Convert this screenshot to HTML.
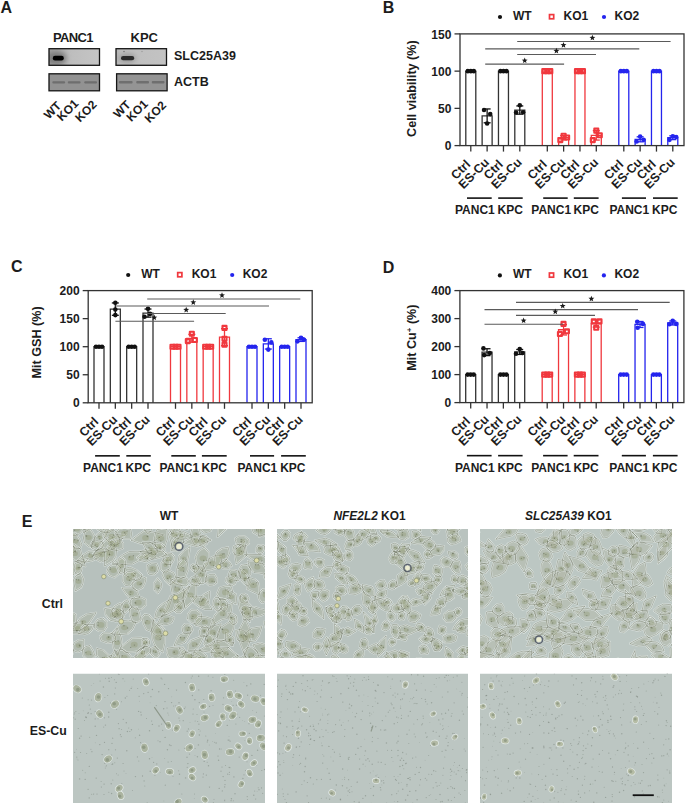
<!DOCTYPE html>
<html><head><meta charset="utf-8"><style>
html,body{margin:0;padding:0;background:#fff;}
body{width:685px;height:803px;overflow:hidden;font-family:"Liberation Sans",sans-serif;}
svg.main{display:block;}
text{font-family:"Liberation Sans",sans-serif;fill:#1c1c1c;}
</style></head><body>
<svg class="main" width="685" height="803" viewBox="0 0 685 803">
<text x="0.6" y="12.7"  font-weight="bold" font-size="16">A</text>
<text x="52.9" y="41.8"  font-weight="bold" font-size="13" letter-spacing="-0.6">PANC1</text>
<text x="130.5" y="42"  font-weight="bold" font-size="13">KPC</text>
<text x="174" y="59.8"  font-weight="bold" font-size="12.5">SLC25A39</text>
<text x="174" y="86.2"  font-weight="bold" font-size="12.5">ACTB</text>
<defs><linearGradient id="gA" x1="0" x2="1"><stop offset="0" stop-color="#a2a2a2"/><stop offset="0.12" stop-color="#acacac"/><stop offset="0.4" stop-color="#bdbdbd"/><stop offset="1" stop-color="#c5c5c5"/></linearGradient><linearGradient id="gK" x1="0" x2="1"><stop offset="0" stop-color="#b5b5b5"/><stop offset="0.1" stop-color="#bebebe"/><stop offset="1" stop-color="#c3c3c3"/></linearGradient><filter id="blur1" x="-50%" y="-50%" width="200%" height="200%"><feGaussianBlur stdDeviation="1.2"/></filter><filter id="blur05" x="-50%" y="-50%" width="200%" height="200%"><feGaussianBlur stdDeviation="0.7"/></filter><filter id="blur3" x="-50%" y="-50%" width="200%" height="200%"><feGaussianBlur stdDeviation="2.6"/></filter><clipPath id="cpA"><rect x="49" y="48.7" width="50.5" height="16.6"/></clipPath><clipPath id="cpK"><rect x="116" y="48.7" width="50.5" height="16.6"/></clipPath></defs>
<rect x="49" y="48.7" width="50.5" height="16.6" fill="url(#gA)"/>
<g clip-path="url(#cpA)"><ellipse cx="56.5" cy="58" rx="10" ry="7" fill="#7c7c7c" filter="url(#blur3)"/>
<rect x="52.8" y="55.8" width="11" height="4.6" rx="2.2" fill="#000" filter="url(#blur05)"/></g>
<rect x="49" y="48.7" width="50.5" height="16.6" fill="none" stroke="#151515" stroke-width="1.3"/>
<rect x="49" y="73.8" width="50.5" height="17" fill="#929292" stroke="#151515" stroke-width="1.3"/>
<rect x="52.3" y="81.3" width="12.8" height="2.3" rx="1" fill="#4a4a4a" fill-opacity="0.5" filter="url(#blur05)"/>
<rect x="67.8" y="81.3" width="12.8" height="2.3" rx="1" fill="#4a4a4a" fill-opacity="0.5" filter="url(#blur05)"/>
<rect x="84.2" y="81.3" width="12.8" height="2.3" rx="1" fill="#4a4a4a" fill-opacity="0.5" filter="url(#blur05)"/>
<rect x="116" y="48.7" width="50.5" height="16.6" fill="url(#gK)"/>
<g clip-path="url(#cpK)"><ellipse cx="127.3" cy="58.2" rx="8.5" ry="4.5" fill="#999" filter="url(#blur3)"/>
<rect x="121" y="56" width="13.2" height="4.3" rx="2.1" fill="#2a2a2a" filter="url(#blur05)"/>
<circle cx="124" cy="51.5" r="0.8" fill="#777"/><circle cx="142" cy="51.5" r="0.7" fill="#999"/></g>
<rect x="116" y="48.7" width="50.5" height="16.6" fill="none" stroke="#151515" stroke-width="1.3"/>
<rect x="116.6" y="73.8" width="50.5" height="17" fill="#949494" stroke="#151515" stroke-width="1.3"/>
<rect x="118.9" y="81.1" width="13.7" height="2.5" rx="1" fill="#4a4a4a" fill-opacity="0.5" filter="url(#blur05)"/>
<rect x="136.2" y="81.1" width="12.8" height="2.5" rx="1" fill="#4a4a4a" fill-opacity="0.5" filter="url(#blur05)"/>
<rect x="151.8" y="81.1" width="12.7" height="2.5" rx="1" fill="#4a4a4a" fill-opacity="0.5" filter="url(#blur05)"/>
<text transform="translate(62,106.6) rotate(-45)" text-anchor="end"  font-weight="bold" font-size="12">WT</text>
<text transform="translate(79.3,104.3) rotate(-45)" text-anchor="end"  font-weight="bold" font-size="12">KO1</text>
<text transform="translate(97.5,105.3) rotate(-45)" text-anchor="end"  font-weight="bold" font-size="12">KO2</text>
<text transform="translate(131.5,105.6) rotate(-45)" text-anchor="end"  font-weight="bold" font-size="12">WT</text>
<text transform="translate(148.7,104.7) rotate(-45)" text-anchor="end"  font-weight="bold" font-size="12">KO1</text>
<text transform="translate(167,106) rotate(-45)" text-anchor="end"  font-weight="bold" font-size="12">KO2</text>
<text x="382.8" y="12.7"  font-weight="bold" font-size="16">B</text>
<line x1="454.5" y1="145.6" x2="460" y2="145.6" stroke="#333" stroke-width="1.3"/>
<text x="451.4" y="150.2" text-anchor="end"  font-weight="bold" font-size="12">0</text>
<line x1="454.5" y1="108.36666666666667" x2="460" y2="108.36666666666667" stroke="#333" stroke-width="1.3"/>
<text x="451.4" y="112.96666666666667" text-anchor="end"  font-weight="bold" font-size="12">50</text>
<line x1="454.5" y1="71.13333333333334" x2="460" y2="71.13333333333334" stroke="#333" stroke-width="1.3"/>
<text x="451.4" y="75.73333333333333" text-anchor="end"  font-weight="bold" font-size="12">100</text>
<line x1="454.5" y1="33.900000000000006" x2="460" y2="33.900000000000006" stroke="#333" stroke-width="1.3"/>
<text x="451.4" y="38.50000000000001" text-anchor="end"  font-weight="bold" font-size="12">150</text>
<text transform="translate(415.7,88.6) rotate(-90)" text-anchor="middle"  font-weight="bold" font-size="12.6">Cell viability (%)</text>
<path d="M465.80,145.6 V71.13 H475.80 V145.6" fill="none" stroke="#333" stroke-width="1.3"/>
<line x1="470.8" y1="145.6" x2="470.8" y2="151.6" stroke="#333" stroke-width="1.3"/>
<circle cx="467.8" cy="71.13333333333334" r="2.3" fill="#111"/>
<circle cx="470.8" cy="71.13333333333334" r="2.3" fill="#111"/>
<circle cx="473.8" cy="71.13333333333334" r="2.3" fill="#111"/>
<path d="M482.13,145.6 V115.86 H492.13 V145.6" fill="none" stroke="#333" stroke-width="1.3"/>
<line x1="487.13" y1="145.6" x2="487.13" y2="151.6" stroke="#333" stroke-width="1.3"/>
<line x1="487.13" y1="108.95307564425846" x2="487.13" y2="122.7728799112971" stroke="#111" stroke-width="1.3"/>
<line x1="483.63" y1="108.95307564425846" x2="490.63" y2="108.95307564425846" stroke="#111" stroke-width="1.3"/>
<line x1="483.63" y1="122.7728799112971" x2="490.63" y2="122.7728799112971" stroke="#111" stroke-width="1.3"/>
<circle cx="484.03" cy="110.00493333333333" r="2.3" fill="#111"/>
<circle cx="490.23" cy="114.1006" r="2.3" fill="#111"/>
<circle cx="487.13" cy="123.48339999999999" r="2.3" fill="#111"/>
<path d="M498.47,145.6 V71.13 H508.47 V145.6" fill="none" stroke="#333" stroke-width="1.3"/>
<line x1="503.47" y1="145.6" x2="503.47" y2="151.6" stroke="#333" stroke-width="1.3"/>
<circle cx="500.47" cy="71.13333333333334" r="2.3" fill="#111"/>
<circle cx="503.47" cy="71.13333333333334" r="2.3" fill="#111"/>
<circle cx="506.47" cy="71.13333333333334" r="2.3" fill="#111"/>
<path d="M514.80,145.6 V110.05 H524.80 V145.6" fill="none" stroke="#333" stroke-width="1.3"/>
<line x1="519.8" y1="145.6" x2="519.8" y2="151.6" stroke="#333" stroke-width="1.3"/>
<line x1="519.8" y1="105.94449446403269" x2="519.8" y2="114.16466109152289" stroke="#111" stroke-width="1.3"/>
<line x1="516.3" y1="105.94449446403269" x2="523.3" y2="105.94449446403269" stroke="#111" stroke-width="1.3"/>
<line x1="516.3" y1="114.16466109152289" x2="523.3" y2="114.16466109152289" stroke="#111" stroke-width="1.3"/>
<circle cx="519.8" cy="105.31353333333334" r="2.3" fill="#111"/>
<circle cx="516.0999999999999" cy="112.61126666666667" r="2.3" fill="#111"/>
<circle cx="523.0999999999999" cy="112.23893333333334" r="2.3" fill="#111"/>
<path d="M542.30,145.6 V71.13 H552.30 V145.6" fill="none" stroke="#f0383e" stroke-width="1.3"/>
<line x1="547.3" y1="145.6" x2="547.3" y2="151.6" stroke="#333" stroke-width="1.3"/>
<rect x="542.3" y="69.13333333333334" width="4" height="4" fill="none" stroke="#f0383e" stroke-width="2.1" stroke-linejoin="round"/>
<rect x="545.3" y="69.13333333333334" width="4" height="4" fill="none" stroke="#f0383e" stroke-width="2.1" stroke-linejoin="round"/>
<rect x="548.3" y="69.13333333333334" width="4" height="4" fill="none" stroke="#f0383e" stroke-width="2.1" stroke-linejoin="round"/>
<path d="M558.63,145.6 V137.76 H568.63 V145.6" fill="none" stroke="#f0383e" stroke-width="1.3"/>
<line x1="563.63" y1="145.6" x2="563.63" y2="151.6" stroke="#333" stroke-width="1.3"/>
<line x1="563.63" y1="135.54672111622966" x2="563.63" y2="139.96563443932587" stroke="#f0383e" stroke-width="1.3"/>
<line x1="560.13" y1="135.54672111622966" x2="567.13" y2="135.54672111622966" stroke="#f0383e" stroke-width="1.3"/>
<line x1="560.13" y1="139.96563443932587" x2="567.13" y2="139.96563443932587" stroke="#f0383e" stroke-width="1.3"/>
<rect x="558.33" y="138.08946666666665" width="4" height="4" fill="none" stroke="#f0383e" stroke-width="2.1" stroke-linejoin="round"/>
<rect x="561.63" y="133.69593333333333" width="4" height="4" fill="none" stroke="#f0383e" stroke-width="2.1" stroke-linejoin="round"/>
<rect x="565.13" y="135.48313333333334" width="4" height="4" fill="none" stroke="#f0383e" stroke-width="2.1" stroke-linejoin="round"/>
<path d="M574.97,145.6 V71.13 H584.97 V145.6" fill="none" stroke="#f0383e" stroke-width="1.3"/>
<line x1="579.97" y1="145.6" x2="579.97" y2="151.6" stroke="#333" stroke-width="1.3"/>
<rect x="574.97" y="69.13333333333334" width="4" height="4" fill="none" stroke="#f0383e" stroke-width="2.1" stroke-linejoin="round"/>
<rect x="577.97" y="69.13333333333334" width="4" height="4" fill="none" stroke="#f0383e" stroke-width="2.1" stroke-linejoin="round"/>
<rect x="580.97" y="69.13333333333334" width="4" height="4" fill="none" stroke="#f0383e" stroke-width="2.1" stroke-linejoin="round"/>
<path d="M591.30,145.6 V135.35 H601.30 V145.6" fill="none" stroke="#f0383e" stroke-width="1.3"/>
<line x1="596.3" y1="145.6" x2="596.3" y2="151.6" stroke="#333" stroke-width="1.3"/>
<line x1="596.3" y1="130.61974002649916" x2="596.3" y2="140.07710441794526" stroke="#f0383e" stroke-width="1.3"/>
<line x1="592.8" y1="130.61974002649916" x2="599.8" y2="130.61974002649916" stroke="#f0383e" stroke-width="1.3"/>
<line x1="592.8" y1="140.07710441794526" x2="599.8" y2="140.07710441794526" stroke="#f0383e" stroke-width="1.3"/>
<rect x="594.3" y="128.63219999999998" width="4" height="4" fill="none" stroke="#f0383e" stroke-width="2.1" stroke-linejoin="round"/>
<rect x="597.8" y="133.3236" width="4" height="4" fill="none" stroke="#f0383e" stroke-width="2.1" stroke-linejoin="round"/>
<rect x="590.8" y="138.08946666666665" width="4" height="4" fill="none" stroke="#f0383e" stroke-width="2.1" stroke-linejoin="round"/>
<path d="M618.80,145.6 V71.13 H628.80 V145.6" fill="none" stroke="#2424ee" stroke-width="1.3"/>
<line x1="623.8" y1="145.6" x2="623.8" y2="151.6" stroke="#333" stroke-width="1.3"/>
<circle cx="620.8" cy="71.13333333333334" r="2.3" fill="#2424ee"/>
<circle cx="623.8" cy="71.13333333333334" r="2.3" fill="#2424ee"/>
<circle cx="626.8" cy="71.13333333333334" r="2.3" fill="#2424ee"/>
<path d="M635.13,145.6 V139.32 H645.13 V145.6" fill="none" stroke="#2424ee" stroke-width="1.3"/>
<line x1="640.13" y1="145.6" x2="640.13" y2="151.6" stroke="#333" stroke-width="1.3"/>
<line x1="640.13" y1="136.81748410827012" x2="640.13" y2="141.82247144728544" stroke="#2424ee" stroke-width="1.3"/>
<line x1="636.63" y1="136.81748410827012" x2="643.63" y2="136.81748410827012" stroke="#2424ee" stroke-width="1.3"/>
<line x1="636.63" y1="141.82247144728544" x2="643.63" y2="141.82247144728544" stroke="#2424ee" stroke-width="1.3"/>
<circle cx="636.63" cy="141.50433333333334" r="2.3" fill="#2424ee"/>
<circle cx="640.13" cy="136.58953333333332" r="2.3" fill="#2424ee"/>
<circle cx="643.53" cy="139.86606666666665" r="2.3" fill="#2424ee"/>
<path d="M651.47,145.6 V71.13 H661.47 V145.6" fill="none" stroke="#2424ee" stroke-width="1.3"/>
<line x1="656.47" y1="145.6" x2="656.47" y2="151.6" stroke="#333" stroke-width="1.3"/>
<circle cx="653.47" cy="71.13333333333334" r="2.3" fill="#2424ee"/>
<circle cx="656.47" cy="71.13333333333334" r="2.3" fill="#2424ee"/>
<circle cx="659.47" cy="71.13333333333334" r="2.3" fill="#2424ee"/>
<path d="M667.80,145.6 V137.71 H677.80 V145.6" fill="none" stroke="#2424ee" stroke-width="1.3"/>
<line x1="672.8" y1="145.6" x2="672.8" y2="151.6" stroke="#333" stroke-width="1.3"/>
<line x1="672.8" y1="135.79200127098028" x2="672.8" y2="139.62106539568637" stroke="#2424ee" stroke-width="1.3"/>
<line x1="669.3" y1="135.79200127098028" x2="676.3" y2="135.79200127098028" stroke="#2424ee" stroke-width="1.3"/>
<line x1="669.3" y1="139.62106539568637" x2="676.3" y2="139.62106539568637" stroke="#2424ee" stroke-width="1.3"/>
<circle cx="669.5" cy="139.86606666666665" r="2.3" fill="#2424ee"/>
<circle cx="672.8" cy="136.2172" r="2.3" fill="#2424ee"/>
<circle cx="676.1999999999999" cy="137.03633333333332" r="2.3" fill="#2424ee"/>
<rect x="460" y="33.9" width="224" height="111.69999999999999" fill="none" stroke="#333" stroke-width="1.3"/>
<text transform="translate(471.1,165.1) rotate(-45)" text-anchor="end"  font-weight="bold" font-size="12.4">Ctrl</text>
<text transform="translate(489.83,163.1) rotate(-45)" text-anchor="end"  font-weight="bold" font-size="12.4">ES-Cu</text>
<text transform="translate(503.77000000000004,165.1) rotate(-45)" text-anchor="end"  font-weight="bold" font-size="12.4">Ctrl</text>
<text transform="translate(522.5,163.1) rotate(-45)" text-anchor="end"  font-weight="bold" font-size="12.4">ES-Cu</text>
<text transform="translate(547.5999999999999,165.1) rotate(-45)" text-anchor="end"  font-weight="bold" font-size="12.4">Ctrl</text>
<text transform="translate(566.33,163.1) rotate(-45)" text-anchor="end"  font-weight="bold" font-size="12.4">ES-Cu</text>
<text transform="translate(580.27,165.1) rotate(-45)" text-anchor="end"  font-weight="bold" font-size="12.4">Ctrl</text>
<text transform="translate(599.0,163.1) rotate(-45)" text-anchor="end"  font-weight="bold" font-size="12.4">ES-Cu</text>
<text transform="translate(624.0999999999999,165.1) rotate(-45)" text-anchor="end"  font-weight="bold" font-size="12.4">Ctrl</text>
<text transform="translate(642.83,163.1) rotate(-45)" text-anchor="end"  font-weight="bold" font-size="12.4">ES-Cu</text>
<text transform="translate(656.77,165.1) rotate(-45)" text-anchor="end"  font-weight="bold" font-size="12.4">Ctrl</text>
<text transform="translate(675.5,163.1) rotate(-45)" text-anchor="end"  font-weight="bold" font-size="12.4">ES-Cu</text>
<line x1="467" y1="198.1" x2="491.7" y2="198.1" stroke="#111" stroke-width="1.6"/>
<line x1="498.2" y1="198.1" x2="522.7" y2="198.1" stroke="#111" stroke-width="1.6"/>
<line x1="543.2" y1="198.1" x2="567.7" y2="198.1" stroke="#111" stroke-width="1.6"/>
<line x1="573.8" y1="198.1" x2="598.6" y2="198.1" stroke="#111" stroke-width="1.6"/>
<line x1="621.9" y1="198.1" x2="646" y2="198.1" stroke="#111" stroke-width="1.6"/>
<line x1="653" y1="198.1" x2="677.7" y2="198.1" stroke="#111" stroke-width="1.6"/>
<text x="455.0" y="213.89999999999998"  font-weight="bold" font-size="12">PANC1</text>
<text x="497.5" y="213.89999999999998"  font-weight="bold" font-size="12">KPC</text>
<text x="531.3000000000001" y="213.89999999999998"  font-weight="bold" font-size="12">PANC1</text>
<text x="573.5" y="213.89999999999998"  font-weight="bold" font-size="12">KPC</text>
<text x="609.4000000000001" y="213.89999999999998"  font-weight="bold" font-size="12">PANC1</text>
<text x="652.1" y="213.89999999999998"  font-weight="bold" font-size="12">KPC</text>
<line x1="517.2" y1="41.45" x2="670.6" y2="41.45" stroke="#5a5a5a" stroke-width="1.15"/>
<polygon points="592.40,34.75 593.19,36.76 595.35,36.89 593.68,38.27 594.22,40.36 592.40,39.20 590.58,40.36 591.12,38.27 589.45,36.89 591.61,36.76" fill="#1c1c1c"/>
<line x1="485.2" y1="48.8" x2="639.3" y2="48.8" stroke="#5a5a5a" stroke-width="1.15"/>
<polygon points="563.50,42.10 564.29,44.11 566.45,44.24 564.78,45.62 565.32,47.71 563.50,46.55 561.68,47.71 562.22,45.62 560.55,44.24 562.71,44.11" fill="#1c1c1c"/>
<line x1="517.2" y1="54.5" x2="596" y2="54.5" stroke="#5a5a5a" stroke-width="1.15"/>
<polygon points="556.40,47.80 557.19,49.81 559.35,49.94 557.68,51.32 558.22,53.41 556.40,52.25 554.58,53.41 555.12,51.32 553.45,49.94 555.61,49.81" fill="#1c1c1c"/>
<line x1="485.2" y1="64.2" x2="564.1" y2="64.2" stroke="#5a5a5a" stroke-width="1.15"/>
<polygon points="524.70,57.50 525.49,59.51 527.65,59.64 525.98,61.02 526.52,63.11 524.70,61.95 522.88,63.11 523.42,61.02 521.75,59.64 523.91,59.51" fill="#1c1c1c"/>
<circle cx="500" cy="17.0" r="2.1" fill="#111"/>
<text x="513" y="19.8"  font-weight="bold" font-size="12">WT</text>
<rect x="549.5" y="14.600000000000001" width="4.2" height="4.2" fill="none" stroke="#f0383e" stroke-width="1.7"/>
<text x="563.5" y="19.8"  font-weight="bold" font-size="12">KO1</text>
<circle cx="604" cy="17.0" r="2.1" fill="#2424ee"/>
<text x="614.5" y="19.8"  font-weight="bold" font-size="12">KO2</text>
<text x="11" y="272.4"  font-weight="bold" font-size="16">C</text>
<line x1="82.7" y1="402.8" x2="88.2" y2="402.8" stroke="#333" stroke-width="1.3"/>
<text x="79.60000000000001" y="407.40000000000003" text-anchor="end"  font-weight="bold" font-size="12">0</text>
<line x1="82.7" y1="374.75" x2="88.2" y2="374.75" stroke="#333" stroke-width="1.3"/>
<text x="79.60000000000001" y="379.35" text-anchor="end"  font-weight="bold" font-size="12">50</text>
<line x1="82.7" y1="346.70000000000005" x2="88.2" y2="346.70000000000005" stroke="#333" stroke-width="1.3"/>
<text x="79.60000000000001" y="351.30000000000007" text-anchor="end"  font-weight="bold" font-size="12">100</text>
<line x1="82.7" y1="318.65000000000003" x2="88.2" y2="318.65000000000003" stroke="#333" stroke-width="1.3"/>
<text x="79.60000000000001" y="323.25000000000006" text-anchor="end"  font-weight="bold" font-size="12">150</text>
<line x1="82.7" y1="290.6" x2="88.2" y2="290.6" stroke="#333" stroke-width="1.3"/>
<text x="79.60000000000001" y="295.20000000000005" text-anchor="end"  font-weight="bold" font-size="12">200</text>
<text transform="translate(41.2,342.4) rotate(-90)" text-anchor="middle"  font-weight="bold" font-size="12.6">Mit GSH (%)</text>
<path d="M94.00,402.8 V346.70 H104.00 V402.8" fill="none" stroke="#333" stroke-width="1.3"/>
<line x1="99.0" y1="402.8" x2="99.0" y2="408.8" stroke="#333" stroke-width="1.3"/>
<circle cx="96.0" cy="346.70000000000005" r="2.3" fill="#111"/>
<circle cx="99.0" cy="346.70000000000005" r="2.3" fill="#111"/>
<circle cx="102.0" cy="346.70000000000005" r="2.3" fill="#111"/>
<path d="M110.33,402.8 V309.13 H120.33 V402.8" fill="none" stroke="#333" stroke-width="1.3"/>
<line x1="115.33" y1="402.8" x2="115.33" y2="408.8" stroke="#333" stroke-width="1.3"/>
<line x1="115.33" y1="302.952205845945" x2="115.33" y2="315.31119415405504" stroke="#111" stroke-width="1.3"/>
<line x1="111.83" y1="302.952205845945" x2="118.83" y2="302.952205845945" stroke="#111" stroke-width="1.3"/>
<line x1="111.83" y1="315.31119415405504" x2="118.83" y2="315.31119415405504" stroke="#111" stroke-width="1.3"/>
<circle cx="115.33" cy="302.7737" r="2.3" fill="#111"/>
<circle cx="115.33" cy="309.50570000000005" r="2.3" fill="#111"/>
<circle cx="115.33" cy="315.1157" r="2.3" fill="#111"/>
<path d="M126.67,402.8 V346.70 H136.67 V402.8" fill="none" stroke="#333" stroke-width="1.3"/>
<line x1="131.67000000000002" y1="402.8" x2="131.67000000000002" y2="408.8" stroke="#333" stroke-width="1.3"/>
<circle cx="128.67000000000002" cy="346.70000000000005" r="2.3" fill="#111"/>
<circle cx="131.67000000000002" cy="346.70000000000005" r="2.3" fill="#111"/>
<circle cx="134.67000000000002" cy="346.70000000000005" r="2.3" fill="#111"/>
<path d="M143.00,402.8 V313.10 H153.00 V402.8" fill="none" stroke="#333" stroke-width="1.3"/>
<line x1="148.0" y1="402.8" x2="148.0" y2="408.8" stroke="#333" stroke-width="1.3"/>
<line x1="148.0" y1="309.0553419671552" x2="148.0" y2="317.1368580328448" stroke="#111" stroke-width="1.3"/>
<line x1="144.5" y1="309.0553419671552" x2="151.5" y2="309.0553419671552" stroke="#111" stroke-width="1.3"/>
<line x1="144.5" y1="317.1368580328448" x2="151.5" y2="317.1368580328448" stroke="#111" stroke-width="1.3"/>
<circle cx="148.0" cy="308.7203" r="2.3" fill="#111"/>
<circle cx="144.5" cy="316.6865" r="2.3" fill="#111"/>
<circle cx="150.0" cy="313.8815" r="2.3" fill="#111"/>
<path d="M170.50,402.8 V346.70 H180.50 V402.8" fill="none" stroke="#f0383e" stroke-width="1.3"/>
<line x1="175.5" y1="402.8" x2="175.5" y2="408.8" stroke="#333" stroke-width="1.3"/>
<rect x="170.5" y="344.70000000000005" width="4" height="4" fill="none" stroke="#f0383e" stroke-width="2.1" stroke-linejoin="round"/>
<rect x="173.5" y="344.70000000000005" width="4" height="4" fill="none" stroke="#f0383e" stroke-width="2.1" stroke-linejoin="round"/>
<rect x="176.5" y="344.70000000000005" width="4" height="4" fill="none" stroke="#f0383e" stroke-width="2.1" stroke-linejoin="round"/>
<path d="M186.83,402.8 V338.29 H196.83 V402.8" fill="none" stroke="#f0383e" stroke-width="1.3"/>
<line x1="191.82999999999998" y1="402.8" x2="191.82999999999998" y2="408.8" stroke="#333" stroke-width="1.3"/>
<line x1="191.82999999999998" y1="334.358" x2="191.82999999999998" y2="342.212" stroke="#f0383e" stroke-width="1.3"/>
<line x1="188.32999999999998" y1="334.358" x2="195.32999999999998" y2="334.358" stroke="#f0383e" stroke-width="1.3"/>
<line x1="188.32999999999998" y1="342.212" x2="195.32999999999998" y2="342.212" stroke="#f0383e" stroke-width="1.3"/>
<rect x="189.82999999999998" y="331.797" width="4" height="4" fill="none" stroke="#f0383e" stroke-width="2.1" stroke-linejoin="round"/>
<rect x="185.82999999999998" y="339.09000000000003" width="4" height="4" fill="none" stroke="#f0383e" stroke-width="2.1" stroke-linejoin="round"/>
<rect x="192.82999999999998" y="337.968" width="4" height="4" fill="none" stroke="#f0383e" stroke-width="2.1" stroke-linejoin="round"/>
<path d="M203.17,402.8 V346.70 H213.17 V402.8" fill="none" stroke="#f0383e" stroke-width="1.3"/>
<line x1="208.17000000000002" y1="402.8" x2="208.17000000000002" y2="408.8" stroke="#333" stroke-width="1.3"/>
<rect x="203.17000000000002" y="344.70000000000005" width="4" height="4" fill="none" stroke="#f0383e" stroke-width="2.1" stroke-linejoin="round"/>
<rect x="206.17000000000002" y="344.70000000000005" width="4" height="4" fill="none" stroke="#f0383e" stroke-width="2.1" stroke-linejoin="round"/>
<rect x="209.17000000000002" y="344.70000000000005" width="4" height="4" fill="none" stroke="#f0383e" stroke-width="2.1" stroke-linejoin="round"/>
<path d="M219.50,402.8 V337.14 H229.50 V402.8" fill="none" stroke="#f0383e" stroke-width="1.3"/>
<line x1="224.5" y1="402.8" x2="224.5" y2="408.8" stroke="#333" stroke-width="1.3"/>
<line x1="224.5" y1="328.6288571183878" x2="224.5" y2="345.6597428816122" stroke="#f0383e" stroke-width="1.3"/>
<line x1="221.0" y1="328.6288571183878" x2="228.0" y2="328.6288571183878" stroke="#f0383e" stroke-width="1.3"/>
<line x1="221.0" y1="345.6597428816122" x2="228.0" y2="345.6597428816122" stroke="#f0383e" stroke-width="1.3"/>
<rect x="222.5" y="325.90650000000005" width="4" height="4" fill="none" stroke="#f0383e" stroke-width="2.1" stroke-linejoin="round"/>
<rect x="222.5" y="336.846" width="4" height="4" fill="none" stroke="#f0383e" stroke-width="2.1" stroke-linejoin="round"/>
<rect x="222.5" y="342.6804" width="4" height="4" fill="none" stroke="#f0383e" stroke-width="2.1" stroke-linejoin="round"/>
<path d="M247.00,402.8 V346.70 H257.00 V402.8" fill="none" stroke="#2424ee" stroke-width="1.3"/>
<line x1="252.0" y1="402.8" x2="252.0" y2="408.8" stroke="#333" stroke-width="1.3"/>
<circle cx="249.0" cy="346.70000000000005" r="2.3" fill="#2424ee"/>
<circle cx="252.0" cy="346.70000000000005" r="2.3" fill="#2424ee"/>
<circle cx="255.0" cy="346.70000000000005" r="2.3" fill="#2424ee"/>
<path d="M263.33,402.8 V343.90 H273.33 V402.8" fill="none" stroke="#2424ee" stroke-width="1.3"/>
<line x1="268.33000000000004" y1="402.8" x2="268.33000000000004" y2="408.8" stroke="#333" stroke-width="1.3"/>
<line x1="268.33000000000004" y1="338.75978115461476" x2="268.33000000000004" y2="349.0302188453853" stroke="#2424ee" stroke-width="1.3"/>
<line x1="264.83000000000004" y1="338.75978115461476" x2="271.83000000000004" y2="338.75978115461476" stroke="#2424ee" stroke-width="1.3"/>
<line x1="264.83000000000004" y1="349.0302188453853" x2="271.83000000000004" y2="349.0302188453853" stroke="#2424ee" stroke-width="1.3"/>
<circle cx="264.83000000000004" cy="339.6875" r="2.3" fill="#2424ee"/>
<circle cx="271.33000000000004" cy="342.38030000000003" r="2.3" fill="#2424ee"/>
<circle cx="268.33000000000004" cy="349.6172" r="2.3" fill="#2424ee"/>
<path d="M279.67,402.8 V346.70 H289.67 V402.8" fill="none" stroke="#2424ee" stroke-width="1.3"/>
<line x1="284.66999999999996" y1="402.8" x2="284.66999999999996" y2="408.8" stroke="#333" stroke-width="1.3"/>
<circle cx="281.66999999999996" cy="346.70000000000005" r="2.3" fill="#2424ee"/>
<circle cx="284.66999999999996" cy="346.70000000000005" r="2.3" fill="#2424ee"/>
<circle cx="287.66999999999996" cy="346.70000000000005" r="2.3" fill="#2424ee"/>
<path d="M296.00,402.8 V339.59 H306.00 V402.8" fill="none" stroke="#2424ee" stroke-width="1.3"/>
<line x1="301.0" y1="402.8" x2="301.0" y2="408.8" stroke="#333" stroke-width="1.3"/>
<line x1="301.0" y1="337.76895280882934" x2="301.0" y2="341.4190471911707" stroke="#2424ee" stroke-width="1.3"/>
<line x1="297.5" y1="337.76895280882934" x2="304.5" y2="337.76895280882934" stroke="#2424ee" stroke-width="1.3"/>
<line x1="297.5" y1="341.4190471911707" x2="304.5" y2="341.4190471911707" stroke="#2424ee" stroke-width="1.3"/>
<circle cx="301.0" cy="337.72400000000005" r="2.3" fill="#2424ee"/>
<circle cx="297.5" cy="341.3705" r="2.3" fill="#2424ee"/>
<circle cx="304.0" cy="339.6875" r="2.3" fill="#2424ee"/>
<rect x="88.2" y="290.6" width="224.0" height="112.19999999999999" fill="none" stroke="#333" stroke-width="1.3"/>
<text transform="translate(99.3,422.3) rotate(-45)" text-anchor="end"  font-weight="bold" font-size="12.4">Ctrl</text>
<text transform="translate(118.03,420.3) rotate(-45)" text-anchor="end"  font-weight="bold" font-size="12.4">ES-Cu</text>
<text transform="translate(131.97000000000003,422.3) rotate(-45)" text-anchor="end"  font-weight="bold" font-size="12.4">Ctrl</text>
<text transform="translate(150.7,420.3) rotate(-45)" text-anchor="end"  font-weight="bold" font-size="12.4">ES-Cu</text>
<text transform="translate(175.8,422.3) rotate(-45)" text-anchor="end"  font-weight="bold" font-size="12.4">Ctrl</text>
<text transform="translate(194.52999999999997,420.3) rotate(-45)" text-anchor="end"  font-weight="bold" font-size="12.4">ES-Cu</text>
<text transform="translate(208.47000000000003,422.3) rotate(-45)" text-anchor="end"  font-weight="bold" font-size="12.4">Ctrl</text>
<text transform="translate(227.2,420.3) rotate(-45)" text-anchor="end"  font-weight="bold" font-size="12.4">ES-Cu</text>
<text transform="translate(252.3,422.3) rotate(-45)" text-anchor="end"  font-weight="bold" font-size="12.4">Ctrl</text>
<text transform="translate(271.03000000000003,420.3) rotate(-45)" text-anchor="end"  font-weight="bold" font-size="12.4">ES-Cu</text>
<text transform="translate(284.96999999999997,422.3) rotate(-45)" text-anchor="end"  font-weight="bold" font-size="12.4">Ctrl</text>
<text transform="translate(303.7,420.3) rotate(-45)" text-anchor="end"  font-weight="bold" font-size="12.4">ES-Cu</text>
<line x1="95.10000000000001" y1="455.85" x2="119.80000000000001" y2="455.85" stroke="#111" stroke-width="1.6"/>
<line x1="126.30000000000001" y1="455.85" x2="150.8" y2="455.85" stroke="#111" stroke-width="1.6"/>
<line x1="171.3" y1="455.85" x2="195.8" y2="455.85" stroke="#111" stroke-width="1.6"/>
<line x1="201.9" y1="455.85" x2="226.70000000000002" y2="455.85" stroke="#111" stroke-width="1.6"/>
<line x1="250.00000000000003" y1="455.85" x2="274.09999999999997" y2="455.85" stroke="#111" stroke-width="1.6"/>
<line x1="281.09999999999997" y1="455.85" x2="305.79999999999995" y2="455.85" stroke="#111" stroke-width="1.6"/>
<text x="83.10000000000001" y="472.20000000000005"  font-weight="bold" font-size="12">PANC1</text>
<text x="125.60000000000001" y="472.20000000000005"  font-weight="bold" font-size="12">KPC</text>
<text x="159.4" y="472.20000000000005"  font-weight="bold" font-size="12">PANC1</text>
<text x="201.6" y="472.20000000000005"  font-weight="bold" font-size="12">KPC</text>
<text x="237.49999999999997" y="472.20000000000005"  font-weight="bold" font-size="12">PANC1</text>
<text x="280.2" y="472.20000000000005"  font-weight="bold" font-size="12">KPC</text>
<line x1="147.2" y1="299.0" x2="300.3" y2="299.0" stroke="#5a5a5a" stroke-width="1.15"/>
<polygon points="222.00,292.30 222.79,294.31 224.95,294.44 223.28,295.82 223.82,297.91 222.00,296.75 220.18,297.91 220.72,295.82 219.05,294.44 221.21,294.31" fill="#1c1c1c"/>
<line x1="115.4" y1="306.0" x2="269" y2="306.0" stroke="#5a5a5a" stroke-width="1.15"/>
<polygon points="193.30,299.30 194.09,301.31 196.25,301.44 194.58,302.82 195.12,304.91 193.30,303.75 191.48,304.91 192.02,302.82 190.35,301.44 192.51,301.31" fill="#1c1c1c"/>
<line x1="147.2" y1="313.5" x2="225.7" y2="313.5" stroke="#5a5a5a" stroke-width="1.15"/>
<polygon points="186.20,306.80 186.99,308.81 189.15,308.94 187.48,310.32 188.02,312.41 186.20,311.25 184.38,312.41 184.92,310.32 183.25,308.94 185.41,308.81" fill="#1c1c1c"/>
<line x1="115.4" y1="321.2" x2="194.1" y2="321.2" stroke="#5a5a5a" stroke-width="1.15"/>
<polygon points="154.30,314.50 155.09,316.51 157.25,316.64 155.58,318.02 156.12,320.11 154.30,318.95 152.48,320.11 153.02,318.02 151.35,316.64 153.51,316.51" fill="#1c1c1c"/>
<circle cx="128.2" cy="275.0" r="2.1" fill="#111"/>
<text x="141.2" y="277.8"  font-weight="bold" font-size="12">WT</text>
<rect x="177.7" y="272.6" width="4.2" height="4.2" fill="none" stroke="#f0383e" stroke-width="1.7"/>
<text x="191.7" y="277.8"  font-weight="bold" font-size="12">KO1</text>
<circle cx="232.2" cy="275.0" r="2.1" fill="#2424ee"/>
<text x="242.7" y="277.8"  font-weight="bold" font-size="12">KO2</text>
<text x="382.8" y="272.6"  font-weight="bold" font-size="16">D</text>
<line x1="454.4" y1="402.6" x2="459.9" y2="402.6" stroke="#333" stroke-width="1.3"/>
<text x="451.29999999999995" y="407.20000000000005" text-anchor="end"  font-weight="bold" font-size="12">0</text>
<line x1="454.4" y1="374.6" x2="459.9" y2="374.6" stroke="#333" stroke-width="1.3"/>
<text x="451.29999999999995" y="379.20000000000005" text-anchor="end"  font-weight="bold" font-size="12">100</text>
<line x1="454.4" y1="346.6" x2="459.9" y2="346.6" stroke="#333" stroke-width="1.3"/>
<text x="451.29999999999995" y="351.20000000000005" text-anchor="end"  font-weight="bold" font-size="12">200</text>
<line x1="454.4" y1="318.6" x2="459.9" y2="318.6" stroke="#333" stroke-width="1.3"/>
<text x="451.29999999999995" y="323.20000000000005" text-anchor="end"  font-weight="bold" font-size="12">300</text>
<line x1="454.4" y1="290.6" x2="459.9" y2="290.6" stroke="#333" stroke-width="1.3"/>
<text x="451.29999999999995" y="295.20000000000005" text-anchor="end"  font-weight="bold" font-size="12">400</text>
<text transform="translate(415.59999999999997,337.6) rotate(-90)" text-anchor="middle"  font-weight="bold" font-size="12.6">Mit Cu<tspan font-size="8" dy="-4">+</tspan><tspan dy="4"> (%)</tspan></text>
<path d="M465.70,402.6 V374.60 H475.70 V402.6" fill="none" stroke="#333" stroke-width="1.3"/>
<line x1="470.7" y1="402.6" x2="470.7" y2="408.6" stroke="#333" stroke-width="1.3"/>
<circle cx="467.7" cy="374.6" r="2.3" fill="#111"/>
<circle cx="470.7" cy="374.6" r="2.3" fill="#111"/>
<circle cx="473.7" cy="374.6" r="2.3" fill="#111"/>
<path d="M482.03,402.6 V352.18 H492.03 V402.6" fill="none" stroke="#333" stroke-width="1.3"/>
<line x1="487.03" y1="402.6" x2="487.03" y2="408.6" stroke="#333" stroke-width="1.3"/>
<line x1="487.03" y1="348.74002815457726" x2="487.03" y2="355.6226385120894" stroke="#111" stroke-width="1.3"/>
<line x1="483.53" y1="348.74002815457726" x2="490.53" y2="348.74002815457726" stroke="#111" stroke-width="1.3"/>
<line x1="483.53" y1="355.6226385120894" x2="490.53" y2="355.6226385120894" stroke="#111" stroke-width="1.3"/>
<circle cx="483.42999999999995" cy="348.392" r="2.3" fill="#111"/>
<circle cx="484.13" cy="355.112" r="2.3" fill="#111"/>
<circle cx="489.83" cy="353.04" r="2.3" fill="#111"/>
<path d="M498.37,402.6 V374.60 H508.37 V402.6" fill="none" stroke="#333" stroke-width="1.3"/>
<line x1="503.37" y1="402.6" x2="503.37" y2="408.6" stroke="#333" stroke-width="1.3"/>
<circle cx="500.37" cy="374.6" r="2.3" fill="#111"/>
<circle cx="503.37" cy="374.6" r="2.3" fill="#111"/>
<circle cx="506.37" cy="374.6" r="2.3" fill="#111"/>
<path d="M514.70,402.6 V351.96 H524.70 V402.6" fill="none" stroke="#333" stroke-width="1.3"/>
<line x1="519.7" y1="402.6" x2="519.7" y2="408.6" stroke="#333" stroke-width="1.3"/>
<line x1="519.7" y1="349.4772645170838" x2="519.7" y2="354.4374021495829" stroke="#111" stroke-width="1.3"/>
<line x1="516.2" y1="349.4772645170838" x2="523.2" y2="349.4772645170838" stroke="#111" stroke-width="1.3"/>
<line x1="516.2" y1="354.4374021495829" x2="523.2" y2="354.4374021495829" stroke="#111" stroke-width="1.3"/>
<circle cx="519.7" cy="349.12" r="2.3" fill="#111"/>
<circle cx="516.0" cy="353.712" r="2.3" fill="#111"/>
<circle cx="522.5" cy="353.04" r="2.3" fill="#111"/>
<path d="M542.20,402.6 V374.60 H552.20 V402.6" fill="none" stroke="#f0383e" stroke-width="1.3"/>
<line x1="547.2" y1="402.6" x2="547.2" y2="408.6" stroke="#333" stroke-width="1.3"/>
<rect x="542.2" y="372.6" width="4" height="4" fill="none" stroke="#f0383e" stroke-width="2.1" stroke-linejoin="round"/>
<rect x="545.2" y="372.6" width="4" height="4" fill="none" stroke="#f0383e" stroke-width="2.1" stroke-linejoin="round"/>
<rect x="548.2" y="372.6" width="4" height="4" fill="none" stroke="#f0383e" stroke-width="2.1" stroke-linejoin="round"/>
<path d="M558.53,402.6 V329.74 H568.53 V402.6" fill="none" stroke="#f0383e" stroke-width="1.3"/>
<line x1="563.53" y1="402.6" x2="563.53" y2="408.6" stroke="#333" stroke-width="1.3"/>
<line x1="563.53" y1="324.5242712714165" x2="563.53" y2="334.96372872858353" stroke="#f0383e" stroke-width="1.3"/>
<line x1="560.03" y1="324.5242712714165" x2="567.03" y2="324.5242712714165" stroke="#f0383e" stroke-width="1.3"/>
<line x1="560.03" y1="334.96372872858353" x2="567.03" y2="334.96372872858353" stroke="#f0383e" stroke-width="1.3"/>
<rect x="561.53" y="321.92" width="4" height="4" fill="none" stroke="#f0383e" stroke-width="2.1" stroke-linejoin="round"/>
<rect x="557.93" y="332.0" width="4" height="4" fill="none" stroke="#f0383e" stroke-width="2.1" stroke-linejoin="round"/>
<rect x="564.93" y="329.312" width="4" height="4" fill="none" stroke="#f0383e" stroke-width="2.1" stroke-linejoin="round"/>
<path d="M574.87,402.6 V374.60 H584.87 V402.6" fill="none" stroke="#f0383e" stroke-width="1.3"/>
<line x1="579.87" y1="402.6" x2="579.87" y2="408.6" stroke="#333" stroke-width="1.3"/>
<rect x="574.87" y="372.6" width="4" height="4" fill="none" stroke="#f0383e" stroke-width="2.1" stroke-linejoin="round"/>
<rect x="577.87" y="372.6" width="4" height="4" fill="none" stroke="#f0383e" stroke-width="2.1" stroke-linejoin="round"/>
<rect x="580.87" y="372.6" width="4" height="4" fill="none" stroke="#f0383e" stroke-width="2.1" stroke-linejoin="round"/>
<path d="M591.20,402.6 V323.50 H601.20 V402.6" fill="none" stroke="#f0383e" stroke-width="1.3"/>
<line x1="596.2" y1="402.6" x2="596.2" y2="408.6" stroke="#333" stroke-width="1.3"/>
<line x1="596.2" y1="319.8626933041054" x2="596.2" y2="327.13730669589467" stroke="#f0383e" stroke-width="1.3"/>
<line x1="592.7" y1="319.8626933041054" x2="599.7" y2="319.8626933041054" stroke="#f0383e" stroke-width="1.3"/>
<line x1="592.7" y1="327.13730669589467" x2="599.7" y2="327.13730669589467" stroke="#f0383e" stroke-width="1.3"/>
<rect x="591.8000000000001" y="319.40000000000003" width="4" height="4" fill="none" stroke="#f0383e" stroke-width="2.1" stroke-linejoin="round"/>
<rect x="597.5" y="319.40000000000003" width="4" height="4" fill="none" stroke="#f0383e" stroke-width="2.1" stroke-linejoin="round"/>
<rect x="594.2" y="325.70000000000005" width="4" height="4" fill="none" stroke="#f0383e" stroke-width="2.1" stroke-linejoin="round"/>
<path d="M618.70,402.6 V374.60 H628.70 V402.6" fill="none" stroke="#2424ee" stroke-width="1.3"/>
<line x1="623.7" y1="402.6" x2="623.7" y2="408.6" stroke="#333" stroke-width="1.3"/>
<circle cx="620.7" cy="374.6" r="2.3" fill="#2424ee"/>
<circle cx="623.7" cy="374.6" r="2.3" fill="#2424ee"/>
<circle cx="626.7" cy="374.6" r="2.3" fill="#2424ee"/>
<path d="M635.03,402.6 V324.47 H645.03 V402.6" fill="none" stroke="#2424ee" stroke-width="1.3"/>
<line x1="640.03" y1="402.6" x2="640.03" y2="408.6" stroke="#333" stroke-width="1.3"/>
<line x1="640.03" y1="321.47841979628095" x2="640.03" y2="327.46291353705243" stroke="#2424ee" stroke-width="1.3"/>
<line x1="636.53" y1="321.47841979628095" x2="643.53" y2="321.47841979628095" stroke="#2424ee" stroke-width="1.3"/>
<line x1="636.53" y1="327.46291353705243" x2="643.53" y2="327.46291353705243" stroke="#2424ee" stroke-width="1.3"/>
<circle cx="637.23" cy="321.79200000000003" r="2.3" fill="#2424ee"/>
<circle cx="642.93" cy="323.92" r="2.3" fill="#2424ee"/>
<circle cx="637.63" cy="327.70000000000005" r="2.3" fill="#2424ee"/>
<path d="M651.37,402.6 V374.60 H661.37 V402.6" fill="none" stroke="#2424ee" stroke-width="1.3"/>
<line x1="656.37" y1="402.6" x2="656.37" y2="408.6" stroke="#333" stroke-width="1.3"/>
<circle cx="653.37" cy="374.6" r="2.3" fill="#2424ee"/>
<circle cx="656.37" cy="374.6" r="2.3" fill="#2424ee"/>
<circle cx="659.37" cy="374.6" r="2.3" fill="#2424ee"/>
<path d="M667.70,402.6 V322.98 H677.70 V402.6" fill="none" stroke="#2424ee" stroke-width="1.3"/>
<line x1="672.7" y1="402.6" x2="672.7" y2="408.6" stroke="#333" stroke-width="1.3"/>
<line x1="672.7" y1="320.995389506346" x2="672.7" y2="324.9592771603207" stroke="#2424ee" stroke-width="1.3"/>
<line x1="669.2" y1="320.995389506346" x2="676.2" y2="320.995389506346" stroke="#2424ee" stroke-width="1.3"/>
<line x1="669.2" y1="324.9592771603207" x2="676.2" y2="324.9592771603207" stroke="#2424ee" stroke-width="1.3"/>
<circle cx="672.7" cy="320.70000000000005" r="2.3" fill="#2424ee"/>
<circle cx="669.4000000000001" cy="324.312" r="2.3" fill="#2424ee"/>
<circle cx="676.3000000000001" cy="323.92" r="2.3" fill="#2424ee"/>
<rect x="459.9" y="290.6" width="224.0" height="112.0" fill="none" stroke="#333" stroke-width="1.3"/>
<text transform="translate(471.0,422.1) rotate(-45)" text-anchor="end"  font-weight="bold" font-size="12.4">Ctrl</text>
<text transform="translate(489.72999999999996,420.1) rotate(-45)" text-anchor="end"  font-weight="bold" font-size="12.4">ES-Cu</text>
<text transform="translate(503.67,422.1) rotate(-45)" text-anchor="end"  font-weight="bold" font-size="12.4">Ctrl</text>
<text transform="translate(522.4000000000001,420.1) rotate(-45)" text-anchor="end"  font-weight="bold" font-size="12.4">ES-Cu</text>
<text transform="translate(547.5,422.1) rotate(-45)" text-anchor="end"  font-weight="bold" font-size="12.4">Ctrl</text>
<text transform="translate(566.23,420.1) rotate(-45)" text-anchor="end"  font-weight="bold" font-size="12.4">ES-Cu</text>
<text transform="translate(580.17,422.1) rotate(-45)" text-anchor="end"  font-weight="bold" font-size="12.4">Ctrl</text>
<text transform="translate(598.9000000000001,420.1) rotate(-45)" text-anchor="end"  font-weight="bold" font-size="12.4">ES-Cu</text>
<text transform="translate(624.0,422.1) rotate(-45)" text-anchor="end"  font-weight="bold" font-size="12.4">Ctrl</text>
<text transform="translate(642.73,420.1) rotate(-45)" text-anchor="end"  font-weight="bold" font-size="12.4">ES-Cu</text>
<text transform="translate(656.67,422.1) rotate(-45)" text-anchor="end"  font-weight="bold" font-size="12.4">Ctrl</text>
<text transform="translate(675.4000000000001,420.1) rotate(-45)" text-anchor="end"  font-weight="bold" font-size="12.4">ES-Cu</text>
<line x1="466.9" y1="455.65000000000003" x2="491.59999999999997" y2="455.65000000000003" stroke="#111" stroke-width="1.6"/>
<line x1="498.09999999999997" y1="455.65000000000003" x2="522.6" y2="455.65000000000003" stroke="#111" stroke-width="1.6"/>
<line x1="543.1" y1="455.65000000000003" x2="567.6" y2="455.65000000000003" stroke="#111" stroke-width="1.6"/>
<line x1="573.6999999999999" y1="455.65000000000003" x2="598.5" y2="455.65000000000003" stroke="#111" stroke-width="1.6"/>
<line x1="621.8" y1="455.65000000000003" x2="645.9" y2="455.65000000000003" stroke="#111" stroke-width="1.6"/>
<line x1="652.9" y1="455.65000000000003" x2="677.5999999999999" y2="455.65000000000003" stroke="#111" stroke-width="1.6"/>
<text x="454.9" y="472.00000000000006"  font-weight="bold" font-size="12">PANC1</text>
<text x="497.4" y="472.00000000000006"  font-weight="bold" font-size="12">KPC</text>
<text x="531.2" y="472.00000000000006"  font-weight="bold" font-size="12">PANC1</text>
<text x="573.4" y="472.00000000000006"  font-weight="bold" font-size="12">KPC</text>
<text x="609.3" y="472.00000000000006"  font-weight="bold" font-size="12">PANC1</text>
<text x="652.0" y="472.00000000000006"  font-weight="bold" font-size="12">KPC</text>
<line x1="516" y1="302.4" x2="669.7" y2="302.4" stroke="#5a5a5a" stroke-width="1.15"/>
<polygon points="591.40,295.70 592.19,297.71 594.35,297.84 592.68,299.22 593.22,301.31 591.40,300.15 589.58,301.31 590.12,299.22 588.45,297.84 590.61,297.71" fill="#1c1c1c"/>
<line x1="484.5" y1="309.6" x2="638" y2="309.6" stroke="#5a5a5a" stroke-width="1.15"/>
<polygon points="562.70,302.90 563.49,304.91 565.65,305.04 563.98,306.42 564.52,308.51 562.70,307.35 560.88,308.51 561.42,306.42 559.75,305.04 561.91,304.91" fill="#1c1c1c"/>
<line x1="516" y1="315.3" x2="595" y2="315.3" stroke="#5a5a5a" stroke-width="1.15"/>
<polygon points="555.30,308.60 556.09,310.61 558.25,310.74 556.58,312.12 557.12,314.21 555.30,313.05 553.48,314.21 554.02,312.12 552.35,310.74 554.51,310.61" fill="#1c1c1c"/>
<line x1="484.5" y1="324.2" x2="563.3" y2="324.2" stroke="#5a5a5a" stroke-width="1.15"/>
<polygon points="523.60,317.50 524.39,319.51 526.55,319.64 524.88,321.02 525.42,323.11 523.60,321.95 521.78,323.11 522.32,321.02 520.65,319.64 522.81,319.51" fill="#1c1c1c"/>
<circle cx="499.9" cy="275.4" r="2.1" fill="#111"/>
<text x="512.9" y="278.2"  font-weight="bold" font-size="12">WT</text>
<rect x="549.4" y="273.0" width="4.2" height="4.2" fill="none" stroke="#f0383e" stroke-width="1.7"/>
<text x="563.4" y="278.2"  font-weight="bold" font-size="12">KO1</text>
<circle cx="603.9" cy="275.4" r="2.1" fill="#2424ee"/>
<text x="614.4" y="278.2"  font-weight="bold" font-size="12">KO2</text>
<defs><filter id="soft" x="-5%" y="-5%" width="110%" height="110%"><feGaussianBlur stdDeviation="0.35"/></filter><filter id="grain" x="0" y="0" width="100%" height="100%"><feTurbulence type="fractalNoise" baseFrequency="0.45" numOctaves="2" seed="3"/><feColorMatrix values="0 0 0 0 0.45  0 0 0 0 0.5  0 0 0 0 0.42  0 0 0 -2.2 1.25"/></filter></defs>
<text x="21.7" y="527"  font-weight="bold" font-size="16">E</text>
<text x="169" y="520.4" text-anchor="middle"  font-weight="bold" font-size="12">WT</text>
<text x="333.5" y="520.4"  font-weight="bold" font-size="11.9"><tspan font-style="italic">NFE2L2</tspan> KO1</text>
<text x="525" y="520.4"  font-weight="bold" font-size="11.9"><tspan font-style="italic">SLC25A39</tspan> KO1</text>
<text x="41.8" y="608.4"  font-weight="bold" font-size="12.3">Ctrl</text>
<text x="29.8" y="734.7"  font-weight="bold" font-size="12.3">ES-Cu</text>
<svg x="73" y="529" width="192" height="129" viewBox="0 0 192 129"><rect width="192" height="129" fill="#b7c1bd"/>
<g filter="url(#soft)">
<g fill="#a8ae92" fill-opacity="0.32" stroke="#e8eeec" stroke-opacity="0.9" stroke-width="1.7" stroke-linejoin="round">
<polygon id="c1" points="-11.2,6.7 -13.2,-1.8 -12.0,-7.6 -9.6,-12.1 -4.2,-18.1 -2.0,-10.7 -3.2,-5.1 -4.9,0.9"/>
<polygon id="c2" points="11.7,0.9 9.4,-2.9 7.8,-5.7 9.4,-8.7 13.0,-13.9 15.8,-8.3 16.7,-4.9 15.2,-1.6"/>
<polygon id="c3" points="10.4,3.7 13.0,-6.5 14.4,-14.1 21.6,-18.7 33.5,-26.5 30.9,-13.6 26.8,-4.7 19.6,-1.6"/>
<polygon id="c4" points="41.6,-0.1 36.5,3.3 30.4,3.3 24.8,0.7 21.4,-4.8 26.1,-9.2 33.1,-8.2 38.5,-5.4"/>
<polygon id="c5" points="46.3,-1.6 42.0,-6.6 40.7,-11.3 40.7,-15.9 43.0,-21.0 47.3,-17.9 49.5,-12.8 48.2,-8.2"/>
<polygon id="c6" points="75.8,-7.5 72.1,-4.2 65.1,-3.4 59.7,-8.1 58.6,-13.1 62.9,-15.8 69.0,-15.6 75.7,-12.5"/>
<polygon id="c7" points="74.7,4.8 71.1,0.2 69.4,-5.6 69.4,-13.3 73.6,-16.4 77.3,-12.1 78.9,-6.1 78.6,1.2"/>
<polygon id="c8" points="99.9,5.4 93.3,-3.2 89.0,-8.7 90.2,-15.5 91.2,-29.2 98.6,-17.7 101.6,-11.8 102.7,-4.3"/>
<polygon id="c9" points="105.7,-3.3 100.9,-3.2 95.5,-6.2 92.3,-12.4 94.9,-16.4 99.4,-17.4 105.0,-14.0 108.4,-7.6"/>
<polygon id="c10" points="109.7,-0.9 108.0,-5.7 110.1,-11.8 115.1,-18.8 121.3,-17.9 124.5,-12.5 119.6,-5.3 114.7,0.8"/>
<polygon id="c11" points="131.6,4.0 126.7,0.4 125.4,-5.5 128.2,-10.9 134.0,-12.9 138.2,-8.7 140.2,-3.3 137.5,2.3"/>
<polygon id="c12" points="144.5,8.2 145.3,-4.1 144.8,-10.6 149.1,-17.4 158.8,-26.5 157.8,-12.2 157.8,-5.2 152.9,0.4"/>
<polygon id="c13" points="173.9,-6.8 171.1,-10.6 173.8,-15.2 177.4,-17.2 181.3,-17.1 184.0,-13.8 181.7,-9.4 178.2,-7.0"/>
<polygon id="c14" points="185.8,8.2 185.4,-2.0 187.0,-9.0 192.5,-12.4 200.4,-17.2 199.7,-7.7 199.3,-1.9 194.8,3.2"/>
<polygon id="c15" points="208.2,3.4 204.0,-0.1 202.1,-3.9 203.2,-7.7 205.0,-16.7 209.6,-8.9 210.9,-5.3 210.2,-1.9"/>
<polygon id="c16" points="-4.0,6.2 -1.2,-0.2 0.3,-5.2 5.6,-5.8 11.2,-5.5 10.9,0.0 7.6,4.3 2.6,6.5"/>
<polygon id="c17" points="16.5,18.2 11.6,14.2 10.4,8.9 11.5,4.2 14.8,-3.5 19.6,3.2 22.0,8.0 20.8,13.5"/>
<polygon id="c18" points="18.5,18.3 20.3,10.7 23.7,5.7 27.9,2.2 37.0,-3.9 33.4,5.9 30.0,11.0 25.7,14.6"/>
<polygon id="c19" points="47.3,14.3 41.7,16.2 35.0,12.2 30.1,6.6 31.9,2.1 35.7,-0.9 42.8,2.3 46.0,8.3"/>
<polygon id="c20" points="58.7,5.0 57.7,9.9 50.8,9.9 45.1,8.0 41.7,3.5 46.3,0.0 51.8,-1.1 57.9,0.5"/>
<polygon id="c21" points="58.0,11.2 65.6,5.4 71.3,1.5 78.7,2.7 90.6,5.9 80.1,12.6 73.5,15.1 66.9,14.4"/>
<polygon id="c22" points="87.1,19.9 82.6,17.5 81.3,9.0 83.7,0.7 88.6,-0.1 94.0,0.4 94.4,10.0 91.7,17.8"/>
<polygon id="c23" points="99.6,20.2 97.0,9.4 95.4,5.0 98.2,1.4 102.8,-6.0 106.9,1.2 107.3,6.5 104.8,10.4"/>
<polygon id="c24" points="120.2,7.2 113.0,9.6 108.2,10.5 103.1,9.2 97.3,5.6 104.4,3.4 108.9,2.0 113.3,3.9"/>
<polygon id="c25" points="121.6,16.2 118.4,10.1 117.5,4.9 119.0,-0.4 123.9,-8.1 126.3,1.3 128.2,5.9 126.1,11.1"/>
<polygon id="c26" points="193.3,3.1 190.5,7.3 184.7,6.0 180.2,3.4 178.7,-1.4 183.3,-3.8 188.0,-4.3 193.1,-1.8"/>
<polygon id="c27" points="2.9,22.2 -3.0,25.3 -8.3,26.0 -12.0,22.7 -16.1,17.9 -11.3,14.1 -5.4,13.0 -0.3,16.4"/>
<polygon id="c28" points="7.0,19.6 2.4,19.2 -2.3,15.1 -2.8,9.5 -2.4,4.2 2.6,4.1 6.5,9.7 8.8,15.4"/>
<polygon id="c29" points="30.7,16.4 28.3,19.7 23.4,21.1 18.8,19.1 17.6,15.7 19.2,12.5 23.9,11.5 29.1,12.5"/>
<polygon id="c30" points="19.8,26.6 29.4,14.6 34.7,8.7 42.3,6.0 53.4,4.5 45.5,14.2 41.6,19.3 34.9,21.9"/>
<polygon id="c31" points="37.1,16.6 37.6,12.0 42.5,9.5 47.7,10.5 50.1,14.3 50.1,19.3 44.6,21.5 39.1,20.8"/>
<polygon id="c32" points="84.2,23.9 79.4,25.7 75.2,24.1 73.0,20.6 69.3,13.4 77.1,13.6 81.4,15.3 84.1,18.9"/>
<polygon id="c33" points="91.8,21.2 89.3,23.2 84.2,21.9 81.3,18.3 78.9,14.1 83.3,13.3 88.3,14.5 92.3,18.1"/>
<polygon id="c34" points="97.9,21.6 98.3,15.8 99.6,11.5 103.5,7.7 111.7,4.6 110.3,13.3 107.2,17.7 103.5,22.2"/>
<polygon id="c35" points="109.6,13.5 118.1,8.7 123.5,7.1 129.6,7.4 138.3,11.1 128.7,15.1 124.4,17.8 119.2,16.4"/>
<polygon id="c36" points="127.0,16.7 124.8,14.2 126.0,9.9 129.1,6.4 132.7,6.9 135.3,9.6 134.1,14.6 130.3,17.7"/>
<polygon id="c37" points="161.9,25.6 159.7,22.0 160.8,17.2 164.9,15.3 168.5,15.6 171.7,18.3 170.3,23.5 166.1,26.7"/>
<polygon id="c38" points="176.2,14.3 173.4,16.7 168.1,17.5 163.2,14.0 162.0,9.5 165.9,7.1 171.5,7.2 175.7,10.6"/>
<polygon id="c39" points="183.1,22.7 183.3,19.3 184.9,16.4 188.2,15.9 191.5,16.9 191.4,20.4 189.8,23.5 186.1,24.9"/>
<polygon id="c40" points="207.0,31.3 199.5,24.2 194.7,20.4 194.1,13.7 194.9,3.6 203.0,9.1 206.3,15.3 207.3,21.2"/>
<polygon id="c41" points="12.4,37.4 2.7,32.1 -2.3,27.8 -6.4,21.7 -10.3,9.5 0.8,15.1 7.3,20.0 9.3,26.9"/>
<polygon id="c42" points="4.2,31.5 10.5,25.6 15.8,22.2 22.1,21.6 30.7,22.4 25.4,28.5 19.1,31.9 11.9,33.2"/>
<polygon id="c43" points="37.0,26.1 34.2,30.7 28.2,33.2 22.3,30.0 19.7,24.9 24.1,21.2 29.2,18.8 35.4,20.8"/>
<polygon id="c44" points="31.6,37.1 31.5,26.9 31.8,22.0 34.9,17.3 42.8,12.2 43.5,21.9 43.1,27.0 40.0,32.1"/>
<polygon id="c45" points="39.2,34.2 49.2,26.3 56.1,22.5 64.0,22.3 78.9,23.3 66.1,31.6 59.6,35.0 52.1,35.5"/>
<polygon id="c46" points="63.9,28.5 68.4,25.3 73.3,24.1 79.1,24.4 82.8,28.0 77.8,30.8 73.5,32.9 68.0,31.8"/>
<polygon id="c47" points="93.8,25.8 86.3,28.6 79.7,30.4 72.7,27.6 67.0,22.7 74.4,19.8 81.0,19.2 88.5,20.7"/>
<polygon id="c48" points="90.1,31.8 90.1,27.6 93.7,23.7 98.9,24.5 101.4,27.6 100.7,31.3 98.1,35.6 92.5,35.4"/>
<polygon id="c49" points="105.0,40.0 105.1,33.0 106.0,26.9 110.6,21.9 117.1,17.6 115.9,26.1 114.7,31.6 110.8,35.8"/>
<polygon id="c50" points="128.7,42.2 123.9,35.3 122.3,28.4 125.4,22.1 131.4,18.1 136.1,23.5 136.1,29.9 134.4,35.7"/>
<polygon id="c51" points="128.9,42.6 131.4,34.1 136.0,29.6 141.4,26.9 149.4,26.6 147.9,34.4 143.4,39.1 138.1,40.9"/>
<polygon id="c52" points="142.2,37.6 141.4,29.6 143.5,23.1 148.7,19.5 155.1,18.1 156.5,24.5 153.9,30.0 149.8,34.2"/>
<polygon id="c53" points="163.2,35.1 161.9,26.7 161.9,21.5 165.3,17.4 171.9,12.2 173.0,20.7 174.0,26.1 169.7,29.8"/>
<polygon id="c54" points="199.3,33.5 191.9,35.3 185.7,34.1 180.6,31.5 171.3,25.2 183.1,25.5 188.3,25.5 192.8,28.3"/>
<polygon id="c55" points="-14.8,48.2 -8.9,40.4 -5.3,35.5 1.5,32.7 15.5,29.1 6.1,40.3 1.0,45.6 -5.2,46.3"/>
<polygon id="c56" points="4.9,45.7 1.8,43.4 1.3,39.3 1.9,34.9 5.3,33.0 8.3,35.4 9.2,39.5 8.0,43.5"/>
<polygon id="c57" points="33.8,42.5 35.3,38.3 39.4,35.5 45.0,35.7 48.4,39.9 46.1,44.7 41.7,48.7 36.2,46.5"/>
<polygon id="c58" points="47.5,44.6 45.1,41.4 43.6,36.3 45.8,30.2 49.7,28.6 52.5,31.9 52.4,37.5 51.2,43.4"/>
<polygon id="c59" points="67.4,50.0 63.5,51.5 57.8,49.8 51.4,45.2 51.4,39.5 57.0,38.1 63.6,41.2 69.0,46.0"/>
<polygon id="c60" points="84.2,43.2 80.7,45.9 75.8,45.2 74.0,40.7 74.4,36.0 78.7,34.0 83.5,34.5 85.7,38.9"/>
<polygon id="c61" points="90.2,43.2 87.7,40.5 88.1,34.5 91.2,29.2 95.2,27.9 97.3,31.7 97.6,37.6 94.0,43.0"/>
<polygon id="c62" points="108.2,49.7 103.7,47.7 103.7,39.7 106.1,34.1 109.8,29.6 114.2,32.6 115.1,40.6 112.5,47.6"/>
<polygon id="c63" points="122.6,43.4 119.8,42.1 117.4,39.7 118.3,36.2 121.1,34.8 124.0,35.5 125.8,38.3 125.0,41.4"/>
<polygon id="c64" points="130.4,54.6 125.6,54.5 122.2,47.3 121.4,39.0 126.0,37.3 130.8,36.9 133.2,44.5 134.1,51.8"/>
<polygon id="c65" points="158.8,36.9 155.5,39.7 151.1,40.1 146.9,38.2 147.0,34.6 149.1,32.0 153.1,30.1 156.7,33.2"/>
<polygon id="c66" points="165.3,51.8 160.6,51.2 156.1,49.7 155.5,44.8 157.2,41.0 161.3,40.8 165.9,42.3 167.7,47.5"/>
<polygon id="c67" points="177.7,44.8 175.2,49.5 169.2,49.8 165.0,45.7 166.0,40.7 168.4,36.2 174.2,35.4 177.7,39.9"/>
<polygon id="c68" points="196.2,45.6 186.1,44.1 180.8,43.5 176.8,39.1 174.8,32.0 182.5,32.2 188.1,32.1 191.2,37.1"/>
<polygon id="c69" points="2.4,62.0 1.1,54.8 0.5,50.9 2.7,46.9 8.0,44.7 10.5,49.8 10.1,54.1 8.3,58.4"/>
<polygon id="c70" points="52.3,56.4 49.7,52.4 50.1,46.4 54.8,42.4 59.7,42.8 63.3,46.4 60.6,52.1 57.2,57.0"/>
<polygon id="c71" points="60.1,59.3 59.2,55.2 63.3,50.7 68.8,47.5 73.0,49.1 72.2,53.7 69.7,58.7 63.6,61.7"/>
<polygon id="c72" points="84.9,64.3 81.4,61.0 81.0,57.4 81.2,53.8 84.7,49.4 88.3,53.8 88.8,57.3 87.6,60.1"/>
<polygon id="c73" points="100.7,53.3 96.9,56.0 92.1,51.6 89.5,46.7 91.0,42.7 94.9,40.4 100.7,43.7 103.6,49.8"/>
<polygon id="c74" points="116.0,53.4 113.4,56.9 106.5,56.2 101.0,54.6 98.2,51.0 102.6,48.8 107.6,48.0 114.2,49.4"/>
<polygon id="c75" points="128.1,52.7 125.8,56.5 121.5,56.7 118.0,55.0 116.3,51.4 118.8,48.3 122.5,46.8 127.0,48.2"/>
<polygon id="c76" points="140.0,56.2 136.0,56.4 132.5,53.2 132.6,48.2 136.6,45.4 141.5,45.3 144.0,49.6 143.5,54.1"/>
<polygon id="c77" points="162.2,54.7 159.4,56.4 155.6,55.4 152.6,52.3 153.2,48.9 156.1,46.9 160.8,47.3 163.5,51.4"/>
<polygon id="c78" points="175.5,57.3 171.4,54.9 168.4,51.6 166.7,46.5 167.5,39.9 172.8,44.7 175.4,48.3 177.4,53.3"/>
<polygon id="c79" points="186.4,65.7 179.1,62.4 174.2,60.1 173.8,54.6 175.5,48.2 181.8,50.2 185.2,53.2 186.2,57.6"/>
<polygon id="c80" points="203.4,50.8 200.7,54.0 194.8,53.0 191.5,49.0 190.9,45.2 194.0,42.8 199.4,42.8 203.3,46.8"/>
<polygon id="c81" points="-1.1,75.1 -7.0,74.9 -11.7,73.6 -14.8,69.3 -16.4,62.8 -9.7,63.1 -5.5,65.9 -2.3,69.4"/>
<polygon id="c82" points="66.8,68.7 60.5,70.0 55.7,68.3 52.9,64.9 48.9,58.9 56.0,59.0 60.8,59.0 64.5,62.7"/>
<polygon id="c83" points="109.4,69.3 103.3,68.1 98.9,63.3 98.1,57.8 97.3,49.4 104.5,53.4 109.0,57.1 111.4,63.3"/>
<polygon id="c84" points="112.1,79.5 110.0,71.2 110.8,63.4 115.9,58.5 123.2,51.7 123.2,62.1 123.3,68.4 119.0,73.4"/>
<polygon id="c85" points="127.3,77.1 126.8,72.0 127.9,68.4 130.8,65.6 136.7,62.3 136.4,69.0 135.4,73.1 132.2,76.1"/>
<polygon id="c86" points="146.7,70.3 143.7,65.3 146.5,58.7 152.3,56.8 157.7,56.6 159.6,61.8 157.6,67.7 152.2,70.6"/>
<polygon id="c87" points="163.0,75.2 158.0,72.4 155.2,70.1 154.4,66.6 153.9,60.4 159.3,63.0 163.0,65.3 163.5,69.7"/>
<polygon id="c88" points="171.1,74.2 168.0,73.1 167.4,69.3 168.1,65.5 171.3,64.7 174.1,66.1 175.8,69.4 174.4,73.4"/>
<polygon id="c89" points="185.8,70.0 185.2,65.6 189.4,60.4 195.8,59.7 199.7,61.9 199.1,66.4 195.9,71.4 188.7,74.1"/>
<polygon id="c90" points="211.2,70.0 206.8,66.6 202.9,62.9 203.7,57.6 206.2,54.9 209.9,55.1 213.7,59.3 214.5,66.0"/>
<polygon id="c91" points="39.9,86.1 38.4,82.1 41.8,77.2 47.1,74.0 50.4,76.5 51.1,80.2 48.4,84.4 43.5,88.5"/>
<polygon id="c92" points="51.5,85.2 49.5,79.6 48.4,76.1 50.6,73.1 54.6,70.7 56.7,74.8 58.8,78.3 55.7,81.1"/>
<polygon id="c93" points="58.1,76.9 57.2,71.3 62.6,67.6 68.0,68.0 72.8,70.4 72.9,76.0 68.2,80.4 62.3,80.0"/>
<polygon id="c94" points="81.7,89.8 82.9,83.4 85.5,78.4 90.1,74.5 98.9,69.7 95.9,79.0 92.3,84.2 87.8,87.8"/>
<polygon id="c95" points="88.2,88.1 94.0,74.5 97.6,66.7 104.6,64.5 116.6,57.0 112.1,69.2 107.5,75.7 101.3,81.6"/>
<polygon id="c96" points="103.6,83.7 100.9,80.7 102.4,75.8 105.8,72.7 110.3,71.4 111.8,75.9 110.5,80.2 107.6,83.7"/>
<polygon id="c97" points="139.1,80.5 131.7,80.5 126.3,78.0 121.4,74.2 117.3,67.0 125.5,67.3 132.2,68.5 135.3,73.9"/>
<polygon id="c98" points="145.8,82.1 142.5,81.1 139.7,76.3 140.6,71.1 142.7,68.3 146.2,68.9 149.2,74.2 148.2,79.7"/>
<polygon id="c99" points="152.7,81.3 149.3,81.5 145.8,77.6 145.2,72.0 147.8,69.2 151.6,70.1 154.7,74.0 154.5,78.5"/>
<polygon id="c100" points="176.9,92.9 169.8,86.2 167.1,81.2 165.5,75.4 166.9,66.5 173.8,72.4 178.3,77.0 177.0,82.7"/>
<polygon id="c101" points="168.5,83.2 175.0,78.9 181.5,77.9 186.6,79.5 197.4,82.3 188.2,86.6 181.8,88.3 175.6,86.9"/>
<polygon id="c102" points="-3.7,99.4 -7.7,96.9 -9.6,90.9 -6.1,86.0 -1.8,82.8 2.9,85.5 3.5,92.4 0.6,97.7"/>
<polygon id="c103" points="-0.5,101.4 3.8,94.0 7.2,89.0 13.9,85.0 23.2,83.7 17.4,92.5 13.6,97.6 6.8,101.5"/>
<polygon id="c104" points="48.8,92.0 43.2,92.7 36.8,91.1 32.3,85.6 31.5,79.7 37.4,78.6 44.5,80.4 49.8,86.6"/>
<polygon id="c105" points="51.2,87.4 47.9,90.0 43.7,89.6 39.2,87.6 39.5,82.9 42.6,79.7 47.3,80.4 50.4,83.2"/>
<polygon id="c106" points="64.4,93.8 59.8,93.4 57.2,86.8 56.3,80.1 59.7,77.8 63.9,78.2 66.6,84.0 68.0,90.9"/>
<polygon id="c107" points="78.0,102.4 73.4,100.7 70.4,94.9 68.9,88.5 71.6,85.2 75.9,85.9 80.5,91.1 80.0,97.8"/>
<polygon id="c108" points="84.6,94.2 87.5,88.8 91.3,85.7 95.9,86.3 101.3,88.5 99.0,93.7 94.6,95.5 90.6,95.8"/>
<polygon id="c109" points="118.2,93.6 114.5,90.1 115.0,85.0 118.3,80.7 123.8,81.0 128.4,84.6 128.2,90.8 123.7,95.2"/>
<polygon id="c110" points="142.2,95.2 138.9,99.2 130.7,98.4 121.8,96.1 122.2,91.0 125.4,87.4 132.9,87.8 140.0,90.5"/>
<polygon id="c111" points="137.2,97.9 141.6,86.5 146.0,81.1 151.0,77.3 159.4,74.4 158.3,82.7 154.6,89.3 148.6,90.8"/>
<polygon id="c112" points="162.9,94.7 159.8,95.7 156.3,91.9 154.7,87.8 155.2,84.0 158.9,84.3 163.2,86.9 164.2,91.8"/>
<polygon id="c113" points="174.9,90.9 170.6,91.0 169.4,84.9 168.8,78.5 173.0,76.6 177.0,78.6 179.6,83.6 179.1,89.9"/>
<polygon id="c114" points="198.2,102.2 193.5,98.1 192.7,92.3 194.8,86.9 200.1,83.4 203.2,89.1 204.7,93.4 202.4,97.4"/>
<polygon id="c115" points="-5.4,101.1 -4.3,96.1 3.7,93.8 10.6,94.5 15.6,97.6 11.8,102.1 5.6,105.0 -1.5,104.7"/>
<polygon id="c116" points="5.3,104.6 8.6,98.5 11.4,95.6 15.1,95.3 21.1,95.6 19.0,101.1 16.1,104.0 12.0,105.5"/>
<polygon id="c117" points="26.0,102.2 21.6,99.3 21.6,94.0 24.8,90.2 29.9,89.0 34.1,92.5 34.0,97.7 31.1,102.0"/>
<polygon id="c118" points="38.5,104.7 45.1,97.3 48.2,91.8 55.4,91.1 63.0,93.1 59.7,100.3 54.4,105.0 47.7,105.6"/>
<polygon id="c119" points="79.3,103.2 81.3,99.3 84.1,95.7 88.6,97.1 91.7,100.6 91.3,105.7 86.8,108.6 82.6,106.2"/>
<polygon id="c120" points="117.5,104.1 114.0,104.7 109.8,103.2 109.1,98.4 111.6,95.0 115.6,95.3 118.7,97.5 119.8,101.3"/>
<polygon id="c121" points="130.5,107.3 126.8,106.5 126.5,101.5 128.8,98.1 131.8,96.1 134.7,98.2 136.0,102.6 134.3,107.5"/>
<polygon id="c122" points="132.5,111.3 133.7,103.9 135.9,99.6 140.0,97.2 148.3,94.7 146.3,103.1 144.6,108.0 139.8,110.9"/>
<polygon id="c123" points="143.9,114.3 144.6,104.5 147.3,98.6 152.1,95.6 161.7,89.3 160.6,99.9 157.9,106.2 152.8,110.5"/>
<polygon id="c124" points="173.4,110.9 170.0,112.6 164.7,111.2 163.3,106.1 162.7,101.4 167.2,100.2 172.3,102.6 174.7,107.3"/>
<polygon id="c125" points="169.8,113.1 171.2,105.9 174.6,102.1 179.2,99.2 188.9,97.7 185.8,106.9 182.4,111.7 177.2,112.7"/>
<polygon id="c126" points="211.0,114.8 202.4,111.6 196.6,107.9 193.4,101.7 190.8,92.5 199.7,95.9 205.5,99.7 208.8,105.9"/>
<polygon id="c127" points="-10.9,128.9 -14.0,123.5 -13.4,115.2 -8.9,107.3 -2.8,106.1 -0.5,112.3 -1.7,119.4 -4.9,127.9"/>
<polygon id="c128" points="0.9,121.9 -0.8,117.8 1.7,113.3 5.8,111.0 10.8,110.6 10.7,115.6 10.1,120.7 5.0,123.2"/>
<polygon id="c129" points="42.7,110.5 40.0,112.9 34.8,114.1 28.1,111.8 27.0,107.4 29.9,104.0 36.8,103.8 42.3,106.8"/>
<polygon id="c130" points="44.3,126.4 40.4,118.8 39.5,113.7 40.3,108.7 44.2,99.2 48.3,108.5 49.1,113.7 47.9,118.4"/>
<polygon id="c131" points="47.4,118.9 53.3,113.4 59.6,108.9 68.6,108.7 73.8,112.6 71.1,118.5 62.8,122.7 52.8,123.5"/>
<polygon id="c132" points="69.0,115.1 69.0,112.5 70.5,109.4 74.2,109.4 76.5,111.8 76.5,115.0 74.2,117.7 70.4,118.0"/>
<polygon id="c133" points="89.8,123.3 82.8,118.7 79.3,110.4 78.2,101.9 80.1,90.7 87.9,98.8 91.9,106.6 91.8,114.4"/>
<polygon id="c134" points="101.0,116.5 104.0,110.0 106.3,106.0 110.6,104.7 118.1,102.7 114.5,109.5 112.1,113.2 107.9,115.0"/>
<polygon id="c135" points="115.0,121.3 114.7,115.3 117.9,111.4 121.9,109.9 131.6,106.1 127.1,115.4 124.8,118.9 121.1,121.7"/>
<polygon id="c136" points="134.4,117.6 130.8,115.2 132.1,110.4 134.0,106.3 137.9,105.8 140.2,108.9 141.8,113.3 138.1,116.2"/>
<polygon id="c137" points="125.8,121.6 137.5,114.6 142.4,111.9 149.0,111.2 161.3,113.7 151.8,121.6 145.1,124.2 139.0,123.4"/>
<polygon id="c138" points="159.9,116.9 155.8,114.7 153.0,112.8 152.5,109.2 152.5,102.7 157.8,106.4 161.1,108.6 160.3,112.3"/>
<polygon id="c139" points="171.7,126.5 167.7,115.8 165.0,108.6 166.8,99.6 172.1,89.7 177.0,100.0 178.1,108.7 175.8,115.6"/>
<polygon id="c140" points="-0.1,124.8 -3.3,126.7 -6.7,125.3 -7.9,122.1 -6.8,119.3 -4.2,117.5 -1.3,118.8 0.5,121.4"/>
<polygon id="c141" points="18.6,130.8 13.9,130.3 10.0,126.6 9.4,121.1 12.3,117.8 17.0,116.5 20.1,121.7 22.3,127.3"/>
<polygon id="c142" points="42.1,142.7 33.2,137.9 28.1,132.7 23.4,126.1 23.8,119.3 30.6,121.3 36.1,126.5 39.5,132.9"/>
<polygon id="c143" points="42.1,139.6 38.4,133.8 37.6,130.2 38.3,126.6 41.9,121.1 46.2,125.9 46.7,130.1 45.6,133.7"/>
<polygon id="c144" points="58.8,136.4 53.2,137.2 46.6,133.4 41.5,126.3 44.0,121.2 49.4,120.3 55.7,124.6 60.9,131.3"/>
<polygon id="c145" points="62.8,128.8 63.2,124.2 67.1,119.5 72.8,117.4 77.1,118.7 77.1,123.1 72.4,127.0 67.2,130.2"/>
<polygon id="c146" points="84.6,127.8 81.1,128.2 77.7,124.8 77.1,120.2 79.5,118.3 82.5,117.3 84.9,120.9 87.0,125.2"/>
<polygon id="c147" points="93.7,123.7 94.5,119.0 101.9,118.2 109.7,118.1 112.9,122.8 110.0,127.7 102.5,130.2 95.3,128.1"/>
<polygon id="c148" points="128.2,127.8 121.6,131.2 116.6,132.6 111.7,130.5 106.4,126.2 112.9,123.4 117.3,122.4 122.2,123.5"/>
<polygon id="c149" points="135.6,140.1 129.6,141.5 122.2,134.9 119.8,127.0 121.5,121.9 126.8,120.8 133.4,126.3 135.5,133.4"/>
<polygon id="c150" points="149.6,129.8 145.7,132.1 141.0,130.1 138.3,126.2 138.3,121.7 142.3,119.1 148.3,120.0 151.3,125.3"/>
<polygon id="c151" points="170.7,131.5 158.0,130.6 150.9,129.7 144.1,125.6 137.3,118.0 148.1,118.2 155.4,118.5 160.8,123.4"/>
<polygon id="c152" points="183.6,134.7 178.1,134.8 173.0,129.3 170.9,122.6 173.6,119.0 178.1,117.9 184.1,122.2 186.5,130.0"/>
<polygon id="c153" points="205.4,126.7 194.6,126.6 188.5,126.5 183.5,122.4 179.8,115.9 187.1,113.9 193.1,115.8 196.9,119.2"/>
<polygon id="c154" points="15.8,142.0 20.1,137.1 25.8,135.6 30.8,137.2 39.5,140.7 30.9,144.9 26.4,147.8 20.8,146.1"/>
<polygon id="c155" points="30.0,146.7 29.2,138.9 29.5,134.0 32.5,129.4 38.5,126.0 40.5,132.6 40.2,138.4 36.3,142.4"/>
<polygon id="c156" points="39.8,140.7 42.1,136.9 47.1,134.3 52.3,135.5 56.3,138.1 53.9,142.0 48.8,145.1 43.3,143.4"/>
<polygon id="c157" points="60.3,145.8 60.0,135.2 58.6,129.5 63.4,126.5 70.5,118.2 72.2,128.2 71.0,134.2 67.7,138.9"/>
<polygon id="c158" points="75.2,146.0 72.1,142.1 75.4,137.4 79.0,133.4 83.3,135.3 86.0,138.8 84.7,144.4 79.7,146.2"/>
<polygon id="c159" points="85.9,139.8 85.6,136.2 90.3,133.7 94.8,133.8 98.4,135.5 97.2,139.2 93.2,142.1 87.7,143.2"/>
<polygon id="c160" points="110.0,148.3 104.8,149.7 100.9,146.1 99.9,141.5 102.1,137.4 106.6,136.1 110.0,139.5 111.8,143.7"/>
<polygon id="c161" points="131.0,143.8 123.5,143.6 115.7,138.6 112.4,131.3 106.0,118.8 118.7,126.0 126.0,128.3 131.0,136.3"/>
<polygon id="c162" points="135.9,144.8 132.1,146.2 126.2,144.1 122.7,138.7 122.9,134.1 126.9,132.0 132.6,136.3 136.0,140.7"/>
<polygon id="c163" points="150.0,141.2 145.7,139.4 144.0,134.5 144.1,129.8 146.8,126.4 150.5,128.7 153.9,132.3 153.4,138.0"/>
<polygon id="c164" points="150.8,146.1 151.6,137.2 153.6,132.9 157.1,130.8 164.9,126.1 164.3,134.7 163.6,140.0 158.7,141.2"/>
<polygon id="c165" points="168.0,136.6 165.9,133.9 166.9,130.0 169.7,127.0 173.2,127.6 175.0,130.4 174.1,134.2 171.3,136.7"/>
<polygon id="c166" points="192.8,134.5 189.6,137.6 184.5,137.1 179.4,134.5 179.1,129.4 182.9,126.3 188.4,126.3 192.8,129.8"/>
<polygon id="c167" points="202.2,144.8 198.0,142.2 198.1,136.1 200.2,131.8 203.6,129.5 206.6,132.4 209.1,137.1 206.5,142.4"/>
</g><g fill="none" stroke="#5c634c" stroke-opacity="0.6" stroke-width="0.7" stroke-linejoin="round">
<use href="#c1"/>
<use href="#c2"/>
<use href="#c3"/>
<use href="#c4"/>
<use href="#c5"/>
<use href="#c6"/>
<use href="#c7"/>
<use href="#c8"/>
<use href="#c9"/>
<use href="#c10"/>
<use href="#c11"/>
<use href="#c12"/>
<use href="#c13"/>
<use href="#c14"/>
<use href="#c15"/>
<use href="#c16"/>
<use href="#c17"/>
<use href="#c18"/>
<use href="#c19"/>
<use href="#c20"/>
<use href="#c21"/>
<use href="#c22"/>
<use href="#c23"/>
<use href="#c24"/>
<use href="#c25"/>
<use href="#c26"/>
<use href="#c27"/>
<use href="#c28"/>
<use href="#c29"/>
<use href="#c30"/>
<use href="#c31"/>
<use href="#c32"/>
<use href="#c33"/>
<use href="#c34"/>
<use href="#c35"/>
<use href="#c36"/>
<use href="#c37"/>
<use href="#c38"/>
<use href="#c39"/>
<use href="#c40"/>
<use href="#c41"/>
<use href="#c42"/>
<use href="#c43"/>
<use href="#c44"/>
<use href="#c45"/>
<use href="#c46"/>
<use href="#c47"/>
<use href="#c48"/>
<use href="#c49"/>
<use href="#c50"/>
<use href="#c51"/>
<use href="#c52"/>
<use href="#c53"/>
<use href="#c54"/>
<use href="#c55"/>
<use href="#c56"/>
<use href="#c57"/>
<use href="#c58"/>
<use href="#c59"/>
<use href="#c60"/>
<use href="#c61"/>
<use href="#c62"/>
<use href="#c63"/>
<use href="#c64"/>
<use href="#c65"/>
<use href="#c66"/>
<use href="#c67"/>
<use href="#c68"/>
<use href="#c69"/>
<use href="#c70"/>
<use href="#c71"/>
<use href="#c72"/>
<use href="#c73"/>
<use href="#c74"/>
<use href="#c75"/>
<use href="#c76"/>
<use href="#c77"/>
<use href="#c78"/>
<use href="#c79"/>
<use href="#c80"/>
<use href="#c81"/>
<use href="#c82"/>
<use href="#c83"/>
<use href="#c84"/>
<use href="#c85"/>
<use href="#c86"/>
<use href="#c87"/>
<use href="#c88"/>
<use href="#c89"/>
<use href="#c90"/>
<use href="#c91"/>
<use href="#c92"/>
<use href="#c93"/>
<use href="#c94"/>
<use href="#c95"/>
<use href="#c96"/>
<use href="#c97"/>
<use href="#c98"/>
<use href="#c99"/>
<use href="#c100"/>
<use href="#c101"/>
<use href="#c102"/>
<use href="#c103"/>
<use href="#c104"/>
<use href="#c105"/>
<use href="#c106"/>
<use href="#c107"/>
<use href="#c108"/>
<use href="#c109"/>
<use href="#c110"/>
<use href="#c111"/>
<use href="#c112"/>
<use href="#c113"/>
<use href="#c114"/>
<use href="#c115"/>
<use href="#c116"/>
<use href="#c117"/>
<use href="#c118"/>
<use href="#c119"/>
<use href="#c120"/>
<use href="#c121"/>
<use href="#c122"/>
<use href="#c123"/>
<use href="#c124"/>
<use href="#c125"/>
<use href="#c126"/>
<use href="#c127"/>
<use href="#c128"/>
<use href="#c129"/>
<use href="#c130"/>
<use href="#c131"/>
<use href="#c132"/>
<use href="#c133"/>
<use href="#c134"/>
<use href="#c135"/>
<use href="#c136"/>
<use href="#c137"/>
<use href="#c138"/>
<use href="#c139"/>
<use href="#c140"/>
<use href="#c141"/>
<use href="#c142"/>
<use href="#c143"/>
<use href="#c144"/>
<use href="#c145"/>
<use href="#c146"/>
<use href="#c147"/>
<use href="#c148"/>
<use href="#c149"/>
<use href="#c150"/>
<use href="#c151"/>
<use href="#c152"/>
<use href="#c153"/>
<use href="#c154"/>
<use href="#c155"/>
<use href="#c156"/>
<use href="#c157"/>
<use href="#c158"/>
<use href="#c159"/>
<use href="#c160"/>
<use href="#c161"/>
<use href="#c162"/>
<use href="#c163"/>
<use href="#c164"/>
<use href="#c165"/>
<use href="#c166"/>
<use href="#c167"/>
</g><g fill="#8d946e" fill-opacity="0.35">
<ellipse cx="-7.5" cy="-6.3" rx="2.7" ry="2.3"/>
<ellipse cx="12.2" cy="-5.3" rx="2.2" ry="1.9"/>
<ellipse cx="20.5" cy="-9.5" rx="3.5" ry="2.9"/>
<ellipse cx="31.7" cy="-2.4" rx="3.5" ry="2.9"/>
<ellipse cx="44.5" cy="-11.9" rx="2.3" ry="1.9"/>
<ellipse cx="67.3" cy="-10.2" rx="3.3" ry="2.8"/>
<ellipse cx="74.1" cy="-5.9" rx="2.7" ry="2.3"/>
<ellipse cx="95.9" cy="-10.4" rx="3.3" ry="2.8"/>
<ellipse cx="100.2" cy="-10.0" rx="3.3" ry="2.8"/>
<ellipse cx="114.9" cy="-8.5" rx="3.5" ry="2.9"/>
<ellipse cx="132.8" cy="-4.4" rx="3.5" ry="2.9"/>
<ellipse cx="151.2" cy="-7.9" rx="3.3" ry="2.8"/>
<ellipse cx="177.8" cy="-12.3" rx="2.7" ry="2.3"/>
<ellipse cx="193.5" cy="-5.2" rx="3.3" ry="2.8"/>
<ellipse cx="206.9" cy="-4.6" rx="2.4" ry="2.0"/>
<ellipse cx="4.2" cy="-0.1" rx="2.9" ry="2.4"/>
<ellipse cx="15.7" cy="8.5" rx="3.0" ry="2.5"/>
<ellipse cx="26.8" cy="8.3" rx="2.1" ry="1.8"/>
<ellipse cx="38.7" cy="7.5" rx="3.0" ry="2.5"/>
<ellipse cx="51.3" cy="4.4" rx="3.2" ry="2.6"/>
<ellipse cx="72.5" cy="8.8" rx="3.4" ry="2.9"/>
<ellipse cx="87.9" cy="9.5" rx="3.3" ry="2.8"/>
<ellipse cx="101.4" cy="5.7" rx="3.0" ry="2.6"/>
<ellipse cx="108.5" cy="6.4" rx="2.2" ry="1.8"/>
<ellipse cx="122.6" cy="5.4" rx="2.6" ry="2.2"/>
<ellipse cx="186.3" cy="0.9" rx="3.1" ry="2.6"/>
<ellipse cx="-6.9" cy="20.0" rx="3.0" ry="2.5"/>
<ellipse cx="2.5" cy="12.2" rx="2.7" ry="2.3"/>
<ellipse cx="23.7" cy="16.0" rx="2.2" ry="1.9"/>
<ellipse cx="38.4" cy="14.4" rx="3.1" ry="2.6"/>
<ellipse cx="43.5" cy="15.5" rx="2.9" ry="2.5"/>
<ellipse cx="78.3" cy="19.8" rx="2.6" ry="2.2"/>
<ellipse cx="86.3" cy="18.2" rx="2.1" ry="1.7"/>
<ellipse cx="103.5" cy="14.7" rx="2.8" ry="2.4"/>
<ellipse cx="124.0" cy="12.3" rx="2.6" ry="2.2"/>
<ellipse cx="129.7" cy="12.1" rx="2.2" ry="1.8"/>
<ellipse cx="165.4" cy="20.3" rx="2.5" ry="2.1"/>
<ellipse cx="169.8" cy="12.2" rx="2.6" ry="2.2"/>
<ellipse cx="187.2" cy="19.8" rx="2.1" ry="1.8"/>
<ellipse cx="201.0" cy="17.6" rx="3.4" ry="2.8"/>
<ellipse cx="1.8" cy="24.4" rx="3.1" ry="2.6"/>
<ellipse cx="17.4" cy="26.9" rx="2.6" ry="2.2"/>
<ellipse cx="28.7" cy="25.5" rx="3.3" ry="2.8"/>
<ellipse cx="37.3" cy="24.4" rx="3.3" ry="2.8"/>
<ellipse cx="57.9" cy="29.0" rx="3.1" ry="2.6"/>
<ellipse cx="73.4" cy="28.2" rx="2.2" ry="1.9"/>
<ellipse cx="80.4" cy="24.2" rx="2.9" ry="2.4"/>
<ellipse cx="95.9" cy="29.7" rx="2.7" ry="2.3"/>
<ellipse cx="110.7" cy="29.4" rx="2.4" ry="2.0"/>
<ellipse cx="130.1" cy="29.3" rx="3.5" ry="2.9"/>
<ellipse cx="139.6" cy="34.2" rx="3.3" ry="2.8"/>
<ellipse cx="149.3" cy="26.9" rx="3.1" ry="2.6"/>
<ellipse cx="167.5" cy="23.6" rx="3.2" ry="2.7"/>
<ellipse cx="187.0" cy="29.8" rx="2.5" ry="2.1"/>
<ellipse cx="-2.3" cy="40.3" rx="3.0" ry="2.5"/>
<ellipse cx="5.1" cy="39.4" rx="2.2" ry="1.8"/>
<ellipse cx="40.5" cy="41.3" rx="3.3" ry="2.7"/>
<ellipse cx="48.6" cy="36.9" rx="2.2" ry="1.9"/>
<ellipse cx="60.6" cy="45.6" rx="2.9" ry="2.4"/>
<ellipse cx="79.7" cy="39.8" rx="3.2" ry="2.7"/>
<ellipse cx="92.6" cy="36.0" rx="2.2" ry="1.9"/>
<ellipse cx="109.0" cy="40.1" rx="2.8" ry="2.4"/>
<ellipse cx="121.8" cy="39.0" rx="2.1" ry="1.8"/>
<ellipse cx="128.2" cy="45.8" rx="3.0" ry="2.5"/>
<ellipse cx="152.1" cy="35.6" rx="2.4" ry="2.1"/>
<ellipse cx="161.0" cy="46.0" rx="2.7" ry="2.3"/>
<ellipse cx="171.7" cy="42.6" rx="3.3" ry="2.8"/>
<ellipse cx="184.3" cy="38.1" rx="3.1" ry="2.6"/>
<ellipse cx="5.4" cy="52.5" rx="2.8" ry="2.3"/>
<ellipse cx="56.0" cy="49.6" rx="3.0" ry="2.5"/>
<ellipse cx="66.2" cy="54.4" rx="2.7" ry="2.2"/>
<ellipse cx="84.8" cy="57.4" rx="2.2" ry="1.9"/>
<ellipse cx="95.9" cy="48.1" rx="2.9" ry="2.5"/>
<ellipse cx="107.1" cy="52.2" rx="2.3" ry="2.0"/>
<ellipse cx="122.0" cy="52.0" rx="2.6" ry="2.2"/>
<ellipse cx="138.5" cy="51.4" rx="2.9" ry="2.4"/>
<ellipse cx="157.8" cy="51.9" rx="2.3" ry="2.0"/>
<ellipse cx="172.1" cy="49.9" rx="2.1" ry="1.8"/>
<ellipse cx="180.4" cy="56.2" rx="3.4" ry="2.8"/>
<ellipse cx="197.1" cy="48.0" rx="2.6" ry="2.2"/>
<ellipse cx="-8.3" cy="69.3" rx="2.4" ry="2.0"/>
<ellipse cx="58.1" cy="63.9" rx="2.7" ry="2.3"/>
<ellipse cx="103.9" cy="60.3" rx="2.9" ry="2.4"/>
<ellipse cx="117.5" cy="66.1" rx="3.2" ry="2.7"/>
<ellipse cx="131.4" cy="70.6" rx="2.3" ry="1.9"/>
<ellipse cx="152.3" cy="63.4" rx="3.3" ry="2.8"/>
<ellipse cx="158.6" cy="68.0" rx="2.4" ry="2.0"/>
<ellipse cx="171.2" cy="69.3" rx="2.1" ry="1.7"/>
<ellipse cx="192.7" cy="66.0" rx="3.1" ry="2.6"/>
<ellipse cx="208.3" cy="61.1" rx="2.6" ry="2.2"/>
<ellipse cx="45.4" cy="81.1" rx="2.6" ry="2.2"/>
<ellipse cx="53.2" cy="77.1" rx="2.5" ry="2.1"/>
<ellipse cx="65.3" cy="73.7" rx="3.5" ry="2.9"/>
<ellipse cx="88.9" cy="81.4" rx="2.7" ry="2.2"/>
<ellipse cx="103.1" cy="71.8" rx="3.2" ry="2.7"/>
<ellipse cx="106.7" cy="78.1" rx="2.6" ry="2.2"/>
<ellipse cx="128.7" cy="74.0" rx="2.8" ry="2.4"/>
<ellipse cx="144.3" cy="75.3" rx="2.2" ry="1.8"/>
<ellipse cx="150.5" cy="75.7" rx="2.2" ry="1.9"/>
<ellipse cx="171.8" cy="79.4" rx="3.0" ry="2.5"/>
<ellipse cx="181.6" cy="82.8" rx="2.5" ry="2.1"/>
<ellipse cx="-2.9" cy="91.7" rx="3.2" ry="2.7"/>
<ellipse cx="10.4" cy="93.3" rx="2.8" ry="2.4"/>
<ellipse cx="40.5" cy="86.0" rx="3.3" ry="2.8"/>
<ellipse cx="45.4" cy="85.2" rx="2.7" ry="2.3"/>
<ellipse cx="62.0" cy="85.4" rx="2.6" ry="2.2"/>
<ellipse cx="74.6" cy="93.3" rx="2.7" ry="2.3"/>
<ellipse cx="93.2" cy="91.2" rx="2.6" ry="2.2"/>
<ellipse cx="120.9" cy="87.6" rx="3.4" ry="2.9"/>
<ellipse cx="131.8" cy="93.0" rx="3.1" ry="2.6"/>
<ellipse cx="149.7" cy="84.7" rx="3.0" ry="2.5"/>
<ellipse cx="159.3" cy="89.7" rx="2.2" ry="1.8"/>
<ellipse cx="174.0" cy="84.3" rx="2.7" ry="2.2"/>
<ellipse cx="199.1" cy="92.9" rx="3.1" ry="2.6"/>
<ellipse cx="4.7" cy="99.4" rx="3.0" ry="2.5"/>
<ellipse cx="13.7" cy="99.8" rx="2.7" ry="2.2"/>
<ellipse cx="27.9" cy="95.9" rx="3.4" ry="2.9"/>
<ellipse cx="51.4" cy="98.6" rx="3.2" ry="2.7"/>
<ellipse cx="85.4" cy="101.9" rx="3.0" ry="2.5"/>
<ellipse cx="114.8" cy="100.0" rx="2.7" ry="2.2"/>
<ellipse cx="131.1" cy="102.0" rx="2.3" ry="1.9"/>
<ellipse cx="139.9" cy="103.5" rx="3.2" ry="2.7"/>
<ellipse cx="152.4" cy="102.3" rx="3.5" ry="2.9"/>
<ellipse cx="168.7" cy="106.7" rx="2.7" ry="2.3"/>
<ellipse cx="178.1" cy="106.4" rx="3.2" ry="2.7"/>
<ellipse cx="201.1" cy="103.8" rx="3.3" ry="2.8"/>
<ellipse cx="-6.9" cy="117.6" rx="3.3" ry="2.8"/>
<ellipse cx="5.5" cy="116.6" rx="2.7" ry="2.3"/>
<ellipse cx="35.7" cy="109.1" rx="2.5" ry="2.1"/>
<ellipse cx="44.3" cy="113.7" rx="2.8" ry="2.3"/>
<ellipse cx="61.2" cy="115.7" rx="3.5" ry="2.9"/>
<ellipse cx="72.4" cy="113.6" rx="2.0" ry="1.7"/>
<ellipse cx="85.4" cy="108.6" rx="3.5" ry="2.9"/>
<ellipse cx="109.3" cy="109.8" rx="2.4" ry="2.0"/>
<ellipse cx="121.5" cy="115.4" rx="2.8" ry="2.4"/>
<ellipse cx="136.2" cy="111.6" rx="2.6" ry="2.2"/>
<ellipse cx="143.7" cy="117.6" rx="3.4" ry="2.9"/>
<ellipse cx="156.7" cy="110.9" rx="2.1" ry="1.8"/>
<ellipse cx="171.9" cy="108.7" rx="3.1" ry="2.6"/>
<ellipse cx="-3.8" cy="121.8" rx="2.3" ry="1.9"/>
<ellipse cx="15.3" cy="124.0" rx="2.9" ry="2.5"/>
<ellipse cx="32.0" cy="129.7" rx="2.8" ry="2.3"/>
<ellipse cx="42.0" cy="130.2" rx="2.6" ry="2.2"/>
<ellipse cx="51.3" cy="128.8" rx="3.2" ry="2.7"/>
<ellipse cx="70.0" cy="123.7" rx="2.3" ry="2.0"/>
<ellipse cx="81.8" cy="122.6" rx="2.0" ry="1.7"/>
<ellipse cx="102.2" cy="123.3" rx="3.0" ry="2.6"/>
<ellipse cx="117.0" cy="127.0" rx="2.6" ry="2.2"/>
<ellipse cx="128.1" cy="130.4" rx="3.4" ry="2.8"/>
<ellipse cx="144.1" cy="125.8" rx="3.1" ry="2.6"/>
<ellipse cx="153.0" cy="124.4" rx="2.7" ry="2.3"/>
<ellipse cx="178.1" cy="126.0" rx="3.1" ry="2.6"/>
<ellipse cx="191.0" cy="120.6" rx="3.0" ry="2.6"/>
<ellipse cx="26.1" cy="141.4" rx="2.9" ry="2.4"/>
<ellipse cx="34.4" cy="136.0" rx="2.7" ry="2.3"/>
<ellipse cx="47.9" cy="139.4" rx="2.4" ry="2.1"/>
<ellipse cx="65.4" cy="132.1" rx="3.1" ry="2.6"/>
<ellipse cx="79.4" cy="140.4" rx="2.9" ry="2.4"/>
<ellipse cx="91.8" cy="137.8" rx="2.3" ry="1.9"/>
<ellipse cx="105.8" cy="142.6" rx="3.1" ry="2.6"/>
<ellipse cx="120.8" cy="133.5" rx="3.3" ry="2.8"/>
<ellipse cx="129.8" cy="139.8" rx="2.5" ry="2.1"/>
<ellipse cx="148.3" cy="133.6" rx="2.5" ry="2.1"/>
<ellipse cx="157.9" cy="136.0" rx="3.1" ry="2.6"/>
<ellipse cx="170.5" cy="132.1" rx="2.3" ry="1.9"/>
<ellipse cx="186.3" cy="132.1" rx="2.9" ry="2.4"/>
<ellipse cx="203.0" cy="136.5" rx="2.8" ry="2.3"/>
</g><g fill="#5e6650" fill-opacity="0.5">
<circle cx="-8.7" cy="-7.7" r=".7"/>
<circle cx="-5.5" cy="-4.9" r=".7"/>
<circle cx="13.0" cy="-4.6" r=".7"/>
<circle cx="13.3" cy="-5.4" r=".7"/>
<circle cx="19.8" cy="-9.2" r=".7"/>
<circle cx="23.2" cy="-6.7" r=".7"/>
<circle cx="34.6" cy="-0.5" r=".7"/>
<circle cx="28.8" cy="-3.8" r=".7"/>
<circle cx="46.7" cy="-11.8" r=".7"/>
<circle cx="44.6" cy="-12.6" r=".7"/>
<circle cx="69.7" cy="-10.2" r=".7"/>
<circle cx="70.5" cy="-12.5" r=".7"/>
<circle cx="76.8" cy="-8.0" r=".7"/>
<circle cx="72.2" cy="-6.3" r=".7"/>
<circle cx="96.9" cy="-12.5" r=".7"/>
<circle cx="96.3" cy="-8.1" r=".7"/>
<circle cx="99.7" cy="-8.7" r=".7"/>
<circle cx="100.8" cy="-9.6" r=".7"/>
<circle cx="112.6" cy="-8.7" r=".7"/>
<circle cx="117.7" cy="-7.6" r=".7"/>
<circle cx="130.8" cy="-4.7" r=".7"/>
<circle cx="133.1" cy="-5.3" r=".7"/>
<circle cx="151.7" cy="-7.2" r=".7"/>
<circle cx="148.0" cy="-9.4" r=".7"/>
<circle cx="178.7" cy="-13.5" r=".7"/>
<circle cx="175.5" cy="-11.1" r=".7"/>
<circle cx="192.4" cy="-2.8" r=".7"/>
<circle cx="193.9" cy="-7.3" r=".7"/>
<circle cx="207.6" cy="-5.6" r=".7"/>
<circle cx="208.4" cy="-3.8" r=".7"/>
<circle cx="5.7" cy="-2.1" r=".7"/>
<circle cx="1.5" cy="1.3" r=".7"/>
<circle cx="13.6" cy="7.0" r=".7"/>
<circle cx="12.9" cy="6.9" r=".7"/>
<circle cx="26.7" cy="9.9" r=".7"/>
<circle cx="26.0" cy="7.5" r=".7"/>
<circle cx="40.6" cy="6.0" r=".7"/>
<circle cx="39.5" cy="8.1" r=".7"/>
<circle cx="54.1" cy="2.1" r=".7"/>
<circle cx="51.7" cy="3.8" r=".7"/>
<circle cx="74.7" cy="7.5" r=".7"/>
<circle cx="74.0" cy="7.1" r=".7"/>
<circle cx="87.8" cy="12.0" r=".7"/>
<circle cx="86.2" cy="8.4" r=".7"/>
<circle cx="103.9" cy="6.6" r=".7"/>
<circle cx="98.7" cy="4.2" r=".7"/>
<circle cx="107.4" cy="5.6" r=".7"/>
<circle cx="110.1" cy="7.1" r=".7"/>
<circle cx="125.1" cy="6.1" r=".7"/>
<circle cx="123.3" cy="4.9" r=".7"/>
<circle cx="187.7" cy="0.9" r=".7"/>
<circle cx="183.6" cy="0.9" r=".7"/>
<circle cx="-7.6" cy="20.1" r=".7"/>
<circle cx="-9.7" cy="17.7" r=".7"/>
<circle cx="5.1" cy="11.6" r=".7"/>
<circle cx="1.6" cy="10.7" r=".7"/>
<circle cx="24.1" cy="17.5" r=".7"/>
<circle cx="22.2" cy="16.0" r=".7"/>
<circle cx="38.4" cy="15.7" r=".7"/>
<circle cx="38.8" cy="13.1" r=".7"/>
<circle cx="41.7" cy="16.5" r=".7"/>
<circle cx="41.0" cy="17.2" r=".7"/>
<circle cx="75.9" cy="18.5" r=".7"/>
<circle cx="78.1" cy="21.2" r=".7"/>
<circle cx="86.7" cy="19.0" r=".7"/>
<circle cx="87.3" cy="18.9" r=".7"/>
<circle cx="100.9" cy="16.2" r=".7"/>
<circle cx="101.5" cy="13.1" r=".7"/>
<circle cx="121.5" cy="10.3" r=".7"/>
<circle cx="126.0" cy="11.8" r=".7"/>
<circle cx="127.9" cy="10.5" r=".7"/>
<circle cx="131.2" cy="12.4" r=".7"/>
<circle cx="167.5" cy="18.4" r=".7"/>
<circle cx="163.4" cy="19.4" r=".7"/>
<circle cx="168.2" cy="10.5" r=".7"/>
<circle cx="168.3" cy="12.8" r=".7"/>
<circle cx="185.8" cy="18.7" r=".7"/>
<circle cx="187.4" cy="19.4" r=".7"/>
<circle cx="198.7" cy="18.0" r=".7"/>
<circle cx="201.1" cy="17.0" r=".7"/>
<circle cx="1.7" cy="22.2" r=".7"/>
<circle cx="2.5" cy="22.9" r=".7"/>
<circle cx="16.5" cy="24.9" r=".7"/>
<circle cx="19.4" cy="27.3" r=".7"/>
<circle cx="28.0" cy="25.7" r=".7"/>
<circle cx="31.6" cy="23.5" r=".7"/>
<circle cx="36.6" cy="25.5" r=".7"/>
<circle cx="36.5" cy="25.5" r=".7"/>
<circle cx="60.4" cy="26.8" r=".7"/>
<circle cx="56.6" cy="28.0" r=".7"/>
<circle cx="74.5" cy="29.3" r=".7"/>
<circle cx="74.3" cy="29.8" r=".7"/>
<circle cx="78.6" cy="23.7" r=".7"/>
<circle cx="82.4" cy="25.4" r=".7"/>
<circle cx="93.8" cy="31.7" r=".7"/>
<circle cx="97.2" cy="31.3" r=".7"/>
<circle cx="110.0" cy="29.8" r=".7"/>
<circle cx="112.9" cy="31.0" r=".7"/>
<circle cx="130.7" cy="31.5" r=".7"/>
<circle cx="133.6" cy="31.2" r=".7"/>
<circle cx="140.7" cy="36.6" r=".7"/>
<circle cx="137.3" cy="33.7" r=".7"/>
<circle cx="149.6" cy="25.1" r=".7"/>
<circle cx="151.0" cy="24.8" r=".7"/>
<circle cx="168.4" cy="22.5" r=".7"/>
<circle cx="166.4" cy="24.2" r=".7"/>
<circle cx="185.4" cy="29.6" r=".7"/>
<circle cx="188.8" cy="31.8" r=".7"/>
<circle cx="-3.7" cy="39.7" r=".7"/>
<circle cx="-1.1" cy="38.9" r=".7"/>
<circle cx="6.6" cy="38.4" r=".7"/>
<circle cx="5.4" cy="38.8" r=".7"/>
<circle cx="37.2" cy="38.7" r=".7"/>
<circle cx="37.2" cy="40.4" r=".7"/>
<circle cx="47.6" cy="38.7" r=".7"/>
<circle cx="49.2" cy="35.4" r=".7"/>
<circle cx="61.9" cy="44.4" r=".7"/>
<circle cx="60.5" cy="46.6" r=".7"/>
<circle cx="81.9" cy="42.1" r=".7"/>
<circle cx="79.2" cy="38.9" r=".7"/>
<circle cx="92.1" cy="35.3" r=".7"/>
<circle cx="93.7" cy="35.9" r=".7"/>
<circle cx="110.0" cy="38.6" r=".7"/>
<circle cx="110.6" cy="42.3" r=".7"/>
<circle cx="120.6" cy="39.4" r=".7"/>
<circle cx="120.4" cy="37.4" r=".7"/>
<circle cx="127.7" cy="44.2" r=".7"/>
<circle cx="129.6" cy="46.1" r=".7"/>
<circle cx="152.9" cy="37.4" r=".7"/>
<circle cx="149.9" cy="34.0" r=".7"/>
<circle cx="158.5" cy="45.8" r=".7"/>
<circle cx="162.7" cy="46.8" r=".7"/>
<circle cx="172.0" cy="44.5" r=".7"/>
<circle cx="170.8" cy="40.6" r=".7"/>
<circle cx="185.2" cy="35.7" r=".7"/>
<circle cx="182.6" cy="35.8" r=".7"/>
<circle cx="3.5" cy="50.6" r=".7"/>
<circle cx="5.6" cy="50.9" r=".7"/>
<circle cx="56.6" cy="51.2" r=".7"/>
<circle cx="55.1" cy="47.8" r=".7"/>
<circle cx="67.2" cy="55.4" r=".7"/>
<circle cx="68.3" cy="54.6" r=".7"/>
<circle cx="85.2" cy="58.7" r=".7"/>
<circle cx="85.6" cy="59.1" r=".7"/>
<circle cx="94.6" cy="49.4" r=".7"/>
<circle cx="96.7" cy="47.9" r=".7"/>
<circle cx="104.8" cy="52.1" r=".7"/>
<circle cx="106.0" cy="52.6" r=".7"/>
<circle cx="122.0" cy="52.0" r=".7"/>
<circle cx="119.7" cy="50.4" r=".7"/>
<circle cx="139.1" cy="52.2" r=".7"/>
<circle cx="141.3" cy="52.7" r=".7"/>
<circle cx="156.9" cy="51.7" r=".7"/>
<circle cx="157.9" cy="53.0" r=".7"/>
<circle cx="171.6" cy="51.3" r=".7"/>
<circle cx="172.0" cy="49.5" r=".7"/>
<circle cx="180.3" cy="55.4" r=".7"/>
<circle cx="183.8" cy="53.7" r=".7"/>
<circle cx="196.5" cy="46.2" r=".7"/>
<circle cx="198.0" cy="46.5" r=".7"/>
<circle cx="-10.0" cy="69.0" r=".7"/>
<circle cx="-7.8" cy="70.4" r=".7"/>
<circle cx="57.8" cy="63.0" r=".7"/>
<circle cx="57.3" cy="65.6" r=".7"/>
<circle cx="102.3" cy="58.0" r=".7"/>
<circle cx="106.2" cy="60.2" r=".7"/>
<circle cx="115.1" cy="64.3" r=".7"/>
<circle cx="119.9" cy="67.4" r=".7"/>
<circle cx="129.4" cy="71.2" r=".7"/>
<circle cx="130.1" cy="70.4" r=".7"/>
<circle cx="153.0" cy="61.0" r=".7"/>
<circle cx="155.2" cy="62.5" r=".7"/>
<circle cx="156.9" cy="69.1" r=".7"/>
<circle cx="156.8" cy="66.3" r=".7"/>
<circle cx="171.9" cy="69.2" r=".7"/>
<circle cx="172.9" cy="70.3" r=".7"/>
<circle cx="190.9" cy="63.8" r=".7"/>
<circle cx="193.3" cy="65.9" r=".7"/>
<circle cx="207.2" cy="62.9" r=".7"/>
<circle cx="206.7" cy="61.7" r=".7"/>
<circle cx="43.2" cy="82.8" r=".7"/>
<circle cx="47.7" cy="81.6" r=".7"/>
<circle cx="52.3" cy="78.0" r=".7"/>
<circle cx="55.2" cy="78.3" r=".7"/>
<circle cx="62.1" cy="73.7" r=".7"/>
<circle cx="62.8" cy="74.0" r=".7"/>
<circle cx="91.3" cy="82.9" r=".7"/>
<circle cx="87.6" cy="81.6" r=".7"/>
<circle cx="102.0" cy="70.1" r=".7"/>
<circle cx="104.7" cy="73.1" r=".7"/>
<circle cx="105.8" cy="77.8" r=".7"/>
<circle cx="107.7" cy="79.1" r=".7"/>
<circle cx="128.5" cy="72.3" r=".7"/>
<circle cx="126.4" cy="72.6" r=".7"/>
<circle cx="145.7" cy="75.3" r=".7"/>
<circle cx="144.9" cy="74.8" r=".7"/>
<circle cx="149.9" cy="74.5" r=".7"/>
<circle cx="152.6" cy="76.1" r=".7"/>
<circle cx="169.6" cy="80.4" r=".7"/>
<circle cx="172.4" cy="79.9" r=".7"/>
<circle cx="183.0" cy="83.2" r=".7"/>
<circle cx="183.5" cy="84.7" r=".7"/>
<circle cx="-3.5" cy="92.5" r=".7"/>
<circle cx="-3.7" cy="91.2" r=".7"/>
<circle cx="9.6" cy="94.0" r=".7"/>
<circle cx="9.5" cy="92.6" r=".7"/>
<circle cx="42.8" cy="87.6" r=".7"/>
<circle cx="41.6" cy="87.9" r=".7"/>
<circle cx="44.8" cy="85.8" r=".7"/>
<circle cx="44.1" cy="84.4" r=".7"/>
<circle cx="59.9" cy="86.6" r=".7"/>
<circle cx="64.2" cy="84.5" r=".7"/>
<circle cx="74.0" cy="91.6" r=".7"/>
<circle cx="72.7" cy="93.9" r=".7"/>
<circle cx="95.2" cy="89.5" r=".7"/>
<circle cx="91.9" cy="92.3" r=".7"/>
<circle cx="119.0" cy="89.6" r=".7"/>
<circle cx="119.9" cy="87.4" r=".7"/>
<circle cx="130.0" cy="92.0" r=".7"/>
<circle cx="131.4" cy="91.9" r=".7"/>
<circle cx="151.1" cy="82.4" r=".7"/>
<circle cx="150.5" cy="86.1" r=".7"/>
<circle cx="158.6" cy="88.7" r=".7"/>
<circle cx="157.7" cy="88.3" r=".7"/>
<circle cx="175.6" cy="84.8" r=".7"/>
<circle cx="171.4" cy="84.1" r=".7"/>
<circle cx="199.7" cy="92.0" r=".7"/>
<circle cx="196.3" cy="92.5" r=".7"/>
<circle cx="3.8" cy="101.7" r=".7"/>
<circle cx="3.9" cy="101.5" r=".7"/>
<circle cx="15.7" cy="100.1" r=".7"/>
<circle cx="11.7" cy="101.1" r=".7"/>
<circle cx="25.0" cy="96.2" r=".7"/>
<circle cx="25.1" cy="93.6" r=".7"/>
<circle cx="50.9" cy="96.8" r=".7"/>
<circle cx="54.6" cy="99.0" r=".7"/>
<circle cx="87.7" cy="104.1" r=".7"/>
<circle cx="86.9" cy="102.6" r=".7"/>
<circle cx="114.7" cy="101.2" r=".7"/>
<circle cx="115.7" cy="98.5" r=".7"/>
<circle cx="131.2" cy="101.7" r=".7"/>
<circle cx="131.2" cy="102.8" r=".7"/>
<circle cx="141.1" cy="103.8" r=".7"/>
<circle cx="141.8" cy="105.1" r=".7"/>
<circle cx="149.6" cy="100.3" r=".7"/>
<circle cx="149.3" cy="100.4" r=".7"/>
<circle cx="171.1" cy="105.9" r=".7"/>
<circle cx="168.3" cy="106.5" r=".7"/>
<circle cx="178.5" cy="105.3" r=".7"/>
<circle cx="179.9" cy="105.5" r=".7"/>
<circle cx="203.3" cy="105.4" r=".7"/>
<circle cx="197.8" cy="104.1" r=".7"/>
<circle cx="-9.6" cy="119.6" r=".7"/>
<circle cx="-9.7" cy="116.4" r=".7"/>
<circle cx="6.9" cy="117.0" r=".7"/>
<circle cx="6.4" cy="116.2" r=".7"/>
<circle cx="35.8" cy="108.0" r=".7"/>
<circle cx="35.5" cy="108.2" r=".7"/>
<circle cx="45.2" cy="111.9" r=".7"/>
<circle cx="42.2" cy="112.4" r=".7"/>
<circle cx="61.4" cy="116.1" r=".7"/>
<circle cx="57.7" cy="118.4" r=".7"/>
<circle cx="73.7" cy="113.2" r=".7"/>
<circle cx="71.0" cy="114.7" r=".7"/>
<circle cx="88.7" cy="106.8" r=".7"/>
<circle cx="87.2" cy="110.3" r=".7"/>
<circle cx="111.4" cy="108.7" r=".7"/>
<circle cx="107.5" cy="108.5" r=".7"/>
<circle cx="120.0" cy="117.1" r=".7"/>
<circle cx="123.8" cy="115.2" r=".7"/>
<circle cx="134.2" cy="111.0" r=".7"/>
<circle cx="134.8" cy="112.2" r=".7"/>
<circle cx="145.2" cy="119.1" r=".7"/>
<circle cx="143.3" cy="117.4" r=".7"/>
<circle cx="156.6" cy="110.4" r=".7"/>
<circle cx="156.6" cy="111.5" r=".7"/>
<circle cx="173.2" cy="107.8" r=".7"/>
<circle cx="172.3" cy="106.9" r=".7"/>
<circle cx="-5.9" cy="121.4" r=".7"/>
<circle cx="-4.4" cy="120.0" r=".7"/>
<circle cx="12.9" cy="123.6" r=".7"/>
<circle cx="17.9" cy="125.6" r=".7"/>
<circle cx="29.4" cy="128.9" r=".7"/>
<circle cx="31.2" cy="128.9" r=".7"/>
<circle cx="40.1" cy="130.5" r=".7"/>
<circle cx="43.7" cy="129.7" r=".7"/>
<circle cx="49.2" cy="126.8" r=".7"/>
<circle cx="48.2" cy="130.2" r=".7"/>
<circle cx="68.8" cy="124.5" r=".7"/>
<circle cx="71.4" cy="122.1" r=".7"/>
<circle cx="80.5" cy="122.0" r=".7"/>
<circle cx="82.9" cy="123.3" r=".7"/>
<circle cx="101.0" cy="123.1" r=".7"/>
<circle cx="101.3" cy="123.2" r=".7"/>
<circle cx="118.5" cy="126.0" r=".7"/>
<circle cx="118.6" cy="128.7" r=".7"/>
<circle cx="128.8" cy="132.9" r=".7"/>
<circle cx="131.1" cy="128.6" r=".7"/>
<circle cx="147.1" cy="124.3" r=".7"/>
<circle cx="146.0" cy="123.9" r=".7"/>
<circle cx="152.0" cy="124.1" r=".7"/>
<circle cx="154.9" cy="125.2" r=".7"/>
<circle cx="176.3" cy="128.0" r=".7"/>
<circle cx="180.3" cy="126.1" r=".7"/>
<circle cx="188.3" cy="119.6" r=".7"/>
<circle cx="189.8" cy="120.2" r=".7"/>
<circle cx="28.6" cy="141.9" r=".7"/>
<circle cx="27.9" cy="139.4" r=".7"/>
<circle cx="33.1" cy="137.0" r=".7"/>
<circle cx="33.6" cy="134.8" r=".7"/>
<circle cx="45.8" cy="137.6" r=".7"/>
<circle cx="47.5" cy="139.6" r=".7"/>
<circle cx="64.7" cy="132.4" r=".7"/>
<circle cx="64.1" cy="129.6" r=".7"/>
<circle cx="80.4" cy="139.7" r=".7"/>
<circle cx="79.3" cy="139.8" r=".7"/>
<circle cx="90.7" cy="136.2" r=".7"/>
<circle cx="90.8" cy="137.1" r=".7"/>
<circle cx="103.4" cy="140.2" r=".7"/>
<circle cx="105.7" cy="140.1" r=".7"/>
<circle cx="123.3" cy="132.8" r=".7"/>
<circle cx="120.4" cy="133.7" r=".7"/>
<circle cx="127.4" cy="138.2" r=".7"/>
<circle cx="131.2" cy="140.0" r=".7"/>
<circle cx="148.3" cy="132.9" r=".7"/>
<circle cx="149.6" cy="133.6" r=".7"/>
<circle cx="159.7" cy="137.6" r=".7"/>
<circle cx="160.4" cy="137.1" r=".7"/>
<circle cx="171.3" cy="132.0" r=".7"/>
<circle cx="170.7" cy="132.4" r=".7"/>
<circle cx="186.5" cy="133.5" r=".7"/>
<circle cx="188.4" cy="130.0" r=".7"/>
<circle cx="204.4" cy="137.0" r=".7"/>
<circle cx="203.5" cy="138.3" r=".7"/>
</g>
<circle cx="106" cy="17.4" r="3.9000000000000004" fill="none" stroke="#4a5160" stroke-width="1.4" stroke-opacity="0.85"/>
<circle cx="106" cy="17.4" r="2.6" fill="#eeeed2"/>
<circle cx="48.2" cy="92.5" r="2.4000000000000004" fill="#dcdca8" stroke="#7d8466" stroke-width="0.8" stroke-opacity="0.7"/>
<circle cx="183.6" cy="31.4" r="2.4000000000000004" fill="#dcdca8" stroke="#7d8466" stroke-width="0.8" stroke-opacity="0.7"/>
<circle cx="92.5" cy="104.3" r="2.4000000000000004" fill="#dcdca8" stroke="#7d8466" stroke-width="0.8" stroke-opacity="0.7"/>
<circle cx="35" cy="74.3" r="2.2" fill="#dcdca8" stroke="#7d8466" stroke-width="0.8" stroke-opacity="0.7"/>
<circle cx="145.7" cy="37.8" r="2.3" fill="#dcdca8" stroke="#7d8466" stroke-width="0.8" stroke-opacity="0.7"/>
<circle cx="102.3" cy="68.7" r="2.4000000000000004" fill="#dcdca8" stroke="#7d8466" stroke-width="0.8" stroke-opacity="0.7"/>
<circle cx="30.8" cy="47.6" r="2.2" fill="#dcdca8" stroke="#7d8466" stroke-width="0.8" stroke-opacity="0.7"/>
</g>
</svg>
<svg x="277" y="529" width="191" height="129" viewBox="0 0 191 129"><rect width="191" height="129" fill="#b9c3bf"/>
<g filter="url(#soft)">
<g fill="#a7ad90" fill-opacity="0.32" stroke="#e8eeec" stroke-opacity="0.9" stroke-width="1.7" stroke-linejoin="round">
<polygon id="c168" points="-3.5,2.5 -8.0,-1.0 -10.1,-3.2 -10.3,-6.2 -8.7,-9.9 -5.2,-7.8 -2.4,-6.4 -3.5,-3.4"/>
<polygon id="c169" points="2.1,-6.6 4.9,-11.4 7.7,-13.7 11.5,-15.6 17.0,-14.6 13.9,-9.6 11.2,-7.3 7.8,-6.5"/>
<polygon id="c170" points="16.7,-7.5 16.0,-10.3 18.0,-12.7 20.9,-13.2 22.8,-11.4 24.1,-8.9 22.3,-6.0 18.9,-5.2"/>
<polygon id="c171" points="42.7,-4.0 36.3,-2.3 31.2,-3.2 28.3,-6.4 21.7,-11.9 29.8,-12.5 34.4,-11.8 38.2,-9.2"/>
<polygon id="c172" points="58.4,-6.4 55.9,-5.7 53.9,-7.9 53.4,-10.7 54.8,-13.1 57.8,-13.9 60.0,-11.2 61.0,-7.9"/>
<polygon id="c173" points="56.5,0.5 61.2,-3.6 64.5,-5.4 67.8,-5.1 73.1,-4.2 70.6,-0.1 66.7,2.5 62.5,1.7"/>
<polygon id="c174" points="81.5,-3.6 77.7,-1.9 73.4,-4.5 69.6,-8.5 70.7,-13.1 75.4,-13.2 79.6,-11.6 83.2,-7.5"/>
<polygon id="c175" points="100.0,4.9 93.1,4.2 88.9,1.5 85.0,-2.0 83.8,-7.9 90.1,-7.3 95.1,-6.3 97.4,-1.6"/>
<polygon id="c176" points="105.7,4.3 102.8,1.2 103.0,-3.3 105.4,-6.9 109.3,-8.3 112.1,-5.2 111.4,-0.9 109.9,3.4"/>
<polygon id="c177" points="118.3,0.2 117.1,-3.3 119.8,-7.1 124.4,-10.0 128.4,-7.6 128.9,-3.2 126.2,1.0 121.6,1.8"/>
<polygon id="c178" points="133.8,-0.6 131.1,-0.5 128.4,-2.3 127.1,-5.8 128.8,-8.8 132.2,-8.9 135.6,-6.7 135.6,-2.9"/>
<polygon id="c179" points="143.7,2.1 138.5,-2.6 135.8,-4.6 135.2,-8.1 135.3,-13.2 139.6,-10.5 143.0,-8.5 143.3,-4.4"/>
<polygon id="c180" points="163.6,-4.3 159.3,-3.3 155.2,-6.6 152.5,-10.6 153.1,-14.8 157.3,-15.1 161.8,-13.2 164.2,-8.6"/>
<polygon id="c181" points="176.4,-1.1 173.1,-1.0 170.4,-3.8 169.2,-7.4 170.4,-10.7 173.8,-10.3 176.5,-7.6 178.7,-3.6"/>
<polygon id="c182" points="170.1,1.1 173.4,-3.6 177.7,-6.1 182.6,-6.6 189.2,-5.3 183.8,-0.5 180.4,2.1 176.1,2.2"/>
<polygon id="c183" points="195.6,-4.1 192.7,-3.8 189.5,-4.2 187.9,-7.6 189.2,-10.7 192.5,-11.2 195.6,-10.2 196.4,-7.0"/>
<polygon id="c184" points="3.5,8.7 -0.3,10.9 -4.0,12.4 -7.6,10.5 -11.3,7.6 -7.2,5.2 -3.3,3.7 0.8,5.6"/>
<polygon id="c185" points="6.0,11.3 3.7,8.5 4.7,4.4 7.5,1.2 11.0,1.6 13.0,4.3 12.5,8.4 9.6,11.7"/>
<polygon id="c186" points="16.1,9.7 17.6,5.9 22.1,3.5 27.5,4.1 30.5,7.7 27.4,11.3 23.4,13.0 19.1,12.4"/>
<polygon id="c187" points="39.4,1.6 43.1,-1.6 47.0,-3.6 52.7,-3.9 54.4,-0.2 52.2,3.0 48.1,5.7 43.1,4.4"/>
<polygon id="c188" points="57.6,3.5 58.5,0.2 62.4,-0.9 65.7,-0.3 68.5,1.8 66.9,4.9 63.5,6.6 60.4,5.2"/>
<polygon id="c189" points="76.1,11.3 71.4,11.5 67.9,6.8 67.4,2.0 68.7,-2.1 73.1,-1.8 76.5,2.0 77.3,6.7"/>
<polygon id="c190" points="79.7,12.5 80.2,6.9 82.9,2.3 87.2,0.6 94.8,-3.0 92.2,4.4 89.5,8.7 85.4,10.9"/>
<polygon id="c191" points="102.8,12.0 100.1,13.9 96.3,13.1 93.8,10.1 93.1,6.2 97.0,5.1 100.7,5.9 103.8,8.7"/>
<polygon id="c192" points="122.0,8.1 114.2,8.5 110.4,7.8 107.4,6.0 103.2,1.9 109.2,1.4 112.5,1.5 115.9,3.2"/>
<polygon id="c193" points="120.0,6.7 121.4,2.8 125.2,-0.2 130.5,0.4 132.2,4.2 131.7,8.2 127.5,11.0 122.6,10.0"/>
<polygon id="c194" points="144.5,6.1 142.2,8.8 138.7,10.6 134.9,8.8 134.9,5.3 135.5,2.0 139.4,1.6 142.6,3.1"/>
<polygon id="c195" points="154.5,2.7 154.0,-0.3 155.7,-3.2 159.0,-2.7 161.2,-1.2 162.4,1.7 160.3,4.5 156.7,5.1"/>
<polygon id="c196" points="174.2,9.7 170.7,7.7 169.4,2.2 172.9,-1.7 176.5,-4.3 179.3,-0.8 181.1,4.1 178.5,9.5"/>
<polygon id="c197" points="199.5,9.2 196.6,7.3 196.1,2.8 197.5,-1.0 200.4,-3.0 202.7,-0.4 204.2,3.4 201.9,6.4"/>
<polygon id="c198" points="-1.4,21.8 -5.7,20.7 -9.0,17.2 -8.5,12.4 -5.2,9.0 -0.7,10.1 1.6,14.1 1.2,18.3"/>
<polygon id="c199" points="22.3,23.8 19.9,16.0 20.1,11.3 21.3,7.5 24.5,2.2 26.7,7.8 27.6,12.1 26.0,16.3"/>
<polygon id="c200" points="43.3,22.9 36.1,22.2 32.0,22.0 29.2,18.6 26.0,12.8 32.6,12.5 37.0,13.4 40.9,16.8"/>
<polygon id="c201" points="60.3,15.5 51.8,17.2 47.1,16.9 43.7,15.1 37.7,11.4 44.5,10.0 48.5,9.2 53.1,10.9"/>
<polygon id="c202" points="65.9,32.3 57.9,26.0 54.4,22.6 53.5,18.4 53.5,13.3 58.2,15.6 61.7,17.9 63.8,22.6"/>
<polygon id="c203" points="68.9,20.9 67.6,17.1 69.4,12.6 73.2,10.7 76.8,10.5 78.1,13.8 76.2,17.7 73.0,20.2"/>
<polygon id="c204" points="77.0,17.1 75.7,14.0 77.2,10.0 80.3,5.8 84.3,6.0 85.5,9.8 84.1,14.4 80.4,16.7"/>
<polygon id="c205" points="97.9,15.3 94.7,17.4 91.4,15.0 90.0,12.0 89.8,8.0 93.7,6.9 97.5,8.2 99.1,11.9"/>
<polygon id="c206" points="122.1,22.7 119.2,23.3 116.2,21.9 114.4,18.9 114.4,15.1 118.0,14.1 121.8,16.2 123.2,19.9"/>
<polygon id="c207" points="119.5,21.9 123.2,17.6 124.9,14.7 128.3,15.1 132.9,15.7 130.8,19.7 128.6,22.7 124.5,23.0"/>
<polygon id="c208" points="133.8,13.9 140.0,9.6 143.2,7.7 147.0,7.6 154.0,8.5 149.2,13.0 145.0,14.6 140.8,15.2"/>
<polygon id="c209" points="145.6,16.5 147.6,12.2 152.6,10.1 156.6,12.9 158.7,15.9 157.9,19.9 153.2,22.1 149.0,19.7"/>
<polygon id="c210" points="170.9,13.2 170.6,8.9 174.8,5.3 180.3,4.5 182.6,7.8 184.1,11.8 179.0,14.5 174.2,15.7"/>
<polygon id="c211" points="190.0,24.2 191.4,18.3 192.7,15.2 195.6,12.9 199.7,13.0 199.4,17.2 198.4,20.1 195.6,22.4"/>
<polygon id="c212" points="8.4,27.6 4.0,24.8 1.6,22.8 -0.0,19.2 -0.1,11.8 6.0,16.1 8.9,18.9 8.7,22.5"/>
<polygon id="c213" points="5.0,33.6 4.1,30.4 5.1,26.3 9.5,25.6 12.1,28.1 12.9,31.3 11.8,35.1 7.8,35.6"/>
<polygon id="c214" points="31.3,26.7 26.0,26.4 22.3,26.1 20.6,22.8 15.6,16.3 23.2,17.2 27.7,18.0 29.2,21.9"/>
<polygon id="c215" points="61.8,23.0 58.4,26.1 52.7,26.3 47.7,23.9 46.6,20.1 48.7,16.6 54.5,16.5 59.3,19.0"/>
<polygon id="c216" points="64.9,33.0 61.0,33.6 57.0,30.0 55.2,24.5 58.4,21.9 62.1,21.7 65.6,24.9 67.7,30.0"/>
<polygon id="c217" points="70.3,31.1 68.2,28.7 67.3,25.2 69.9,22.6 73.4,21.2 75.7,24.3 76.1,28.0 73.9,31.4"/>
<polygon id="c218" points="117.9,35.0 114.1,34.1 111.8,29.7 113.6,25.7 116.0,22.4 119.9,23.6 122.5,28.1 121.1,32.8"/>
<polygon id="c219" points="116.7,25.3 121.5,20.5 123.8,17.6 128.2,17.3 132.8,20.1 129.4,24.4 127.3,28.2 123.3,26.5"/>
<polygon id="c220" points="147.8,34.0 140.7,32.6 136.4,31.0 133.2,27.3 128.9,19.5 137.6,21.9 142.0,23.7 143.8,27.4"/>
<polygon id="c221" points="152.4,29.6 149.0,29.7 147.4,26.6 147.2,23.6 149.3,21.5 152.4,21.3 154.2,24.0 155.4,27.5"/>
<polygon id="c222" points="149.8,28.3 155.6,20.6 158.2,17.0 162.4,16.4 166.9,17.0 166.9,21.4 163.6,25.3 159.1,25.9"/>
<polygon id="c223" points="180.7,28.6 178.0,30.5 174.0,29.1 172.0,26.1 171.1,22.7 174.4,21.8 178.0,22.5 181.0,25.4"/>
<polygon id="c224" points="194.3,28.3 190.8,26.8 187.9,23.5 187.9,18.8 190.7,17.2 193.6,17.5 195.7,20.9 196.9,25.5"/>
<polygon id="c225" points="192.3,33.7 193.0,25.3 194.4,20.9 198.2,19.2 204.3,16.2 204.5,22.8 204.1,27.6 199.7,29.1"/>
<polygon id="c226" points="-10.7,39.9 -11.1,36.7 -8.0,34.0 -3.9,34.4 -1.0,36.7 -2.5,40.0 -5.2,42.2 -9.2,43.0"/>
<polygon id="c227" points="9.1,36.8 6.0,39.3 1.3,36.5 -2.7,33.0 -2.7,28.4 1.7,27.0 7.0,28.6 9.3,33.0"/>
<polygon id="c228" points="13.4,43.0 12.0,39.3 15.2,35.1 20.0,34.3 24.0,35.7 23.9,39.9 21.2,43.8 16.7,44.7"/>
<polygon id="c229" points="30.5,40.2 27.0,39.1 26.3,34.5 28.0,30.5 31.3,28.7 34.0,31.3 35.8,35.2 34.2,39.9"/>
<polygon id="c230" points="47.1,34.7 45.6,38.3 41.0,38.2 38.1,35.3 37.3,31.9 40.0,29.7 43.6,29.3 47.2,31.2"/>
<polygon id="c231" points="56.6,37.9 56.1,35.0 58.0,32.3 61.2,32.4 63.3,34.2 64.2,37.1 62.2,39.8 58.8,40.1"/>
<polygon id="c232" points="71.2,43.0 68.4,45.5 63.7,44.1 60.3,41.3 59.9,37.9 62.3,35.4 67.1,36.5 71.8,39.1"/>
<polygon id="c233" points="128.5,42.6 122.4,37.6 119.4,35.1 117.9,30.8 117.1,21.5 124.5,27.0 127.2,30.8 129.5,35.4"/>
<polygon id="c234" points="126.6,47.4 129.1,40.4 131.5,35.9 136.2,33.9 143.2,32.5 140.6,39.3 138.6,43.8 134.0,44.7"/>
<polygon id="c235" points="137.5,39.4 138.7,36.5 141.2,34.1 144.7,35.0 147.0,37.1 146.0,40.1 143.1,42.2 139.8,41.4"/>
<polygon id="c236" points="163.9,47.7 159.4,47.4 155.9,44.2 156.1,40.0 157.5,36.1 161.5,36.9 165.2,39.1 165.4,43.5"/>
<polygon id="c237" points="174.7,35.5 172.5,38.2 167.6,38.2 164.1,34.7 163.6,30.6 166.7,27.5 171.6,29.4 175.4,31.9"/>
<polygon id="c238" points="178.7,44.5 175.8,41.9 173.3,37.7 175.6,33.2 178.8,31.1 182.6,32.5 184.1,37.8 182.7,43.3"/>
<polygon id="c239" points="202.8,37.3 200.1,40.6 195.7,42.7 190.7,40.7 188.4,36.8 191.7,33.7 196.0,31.8 200.7,33.6"/>
<polygon id="c240" points="15.9,49.7 13.2,48.8 11.3,45.3 12.6,41.3 15.8,40.9 18.6,41.6 20.6,45.2 19.3,49.5"/>
<polygon id="c241" points="28.1,52.0 26.0,54.3 21.8,53.3 18.0,51.0 17.8,47.7 21.0,46.5 24.4,47.1 27.2,49.1"/>
<polygon id="c242" points="42.3,48.1 43.2,42.6 46.4,39.9 49.8,37.6 55.9,37.6 53.9,43.4 52.0,47.1 47.9,48.0"/>
<polygon id="c243" points="71.0,55.0 65.7,54.6 62.1,51.9 58.7,48.9 57.7,44.0 62.8,44.6 66.5,46.6 68.8,49.8"/>
<polygon id="c244" points="84.0,60.3 75.6,54.9 71.9,53.1 69.3,49.0 68.9,43.7 74.3,46.2 77.5,48.0 80.1,51.6"/>
<polygon id="c245" points="118.6,58.2 120.0,51.2 120.6,46.4 125.0,43.1 132.1,39.1 130.0,47.4 129.1,52.4 124.6,55.4"/>
<polygon id="c246" points="138.3,56.3 135.7,52.6 136.5,48.2 139.1,45.3 143.1,43.6 145.3,47.4 144.9,51.4 142.6,55.2"/>
<polygon id="c247" points="154.7,53.2 151.3,54.4 147.1,53.3 143.9,50.2 143.3,46.4 147.1,45.4 151.6,45.8 154.6,49.6"/>
<polygon id="c248" points="160.3,56.4 157.1,54.6 156.9,50.9 157.9,47.8 160.7,45.1 163.8,47.5 164.9,51.1 163.1,54.1"/>
<polygon id="c249" points="180.2,54.2 177.3,54.1 175.0,52.8 174.2,50.0 175.2,46.9 178.6,46.0 181.7,48.1 181.9,51.6"/>
<polygon id="c250" points="180.4,52.6 180.6,48.8 185.1,46.1 189.6,47.7 192.2,50.3 191.7,54.1 187.2,56.6 182.9,55.0"/>
<polygon id="c251" points="204.1,52.2 200.6,49.0 198.8,45.6 200.2,42.3 202.3,39.6 205.2,41.3 206.5,44.4 206.4,48.0"/>
<polygon id="c252" points="-14.4,67.2 -13.5,58.3 -11.3,53.2 -7.5,49.7 -0.8,45.8 -0.8,53.3 -2.3,58.9 -6.8,62.3"/>
<polygon id="c253" points="-1.2,71.1 1.7,63.4 2.6,58.6 7.4,57.1 14.0,54.8 11.8,61.5 10.1,65.6 6.1,68.6"/>
<polygon id="c254" points="19.7,66.4 17.0,64.5 16.7,60.5 17.3,55.9 20.7,54.1 23.6,56.6 23.8,61.0 22.8,65.2"/>
<polygon id="c255" points="30.7,62.6 28.5,58.5 27.4,54.0 31.0,50.8 36.0,47.9 38.0,53.4 37.3,57.6 34.8,60.4"/>
<polygon id="c256" points="45.5,59.9 42.3,60.8 37.9,59.3 36.5,54.5 38.4,51.4 41.8,50.2 46.2,52.4 47.9,57.2"/>
<polygon id="c257" points="69.4,63.8 66.8,65.7 62.3,66.0 59.8,62.4 58.7,58.7 61.8,56.6 66.8,56.5 69.8,60.4"/>
<polygon id="c258" points="71.4,60.2 73.3,56.8 78.1,54.3 83.6,56.2 86.7,59.8 83.4,63.3 78.5,65.5 72.2,64.5"/>
<polygon id="c259" points="97.0,66.8 91.8,67.0 87.9,65.4 86.0,61.6 85.3,55.5 91.5,56.9 95.1,57.9 96.9,61.5"/>
<polygon id="c260" points="99.6,58.0 98.5,54.9 102.1,51.8 106.9,50.9 108.6,54.0 109.7,57.3 105.6,59.8 101.4,60.5"/>
<polygon id="c261" points="115.0,60.4 111.7,59.0 111.5,55.0 113.6,52.3 116.6,51.1 119.5,52.8 120.5,56.6 118.0,59.3"/>
<polygon id="c262" points="136.9,57.2 134.4,57.5 131.6,56.1 130.9,52.5 133.4,51.0 135.8,50.7 138.1,52.3 138.7,55.3"/>
<polygon id="c263" points="155.4,64.7 148.1,66.1 144.8,66.4 141.2,65.2 138.8,61.3 142.5,58.6 146.2,59.3 149.2,60.5"/>
<polygon id="c264" points="146.2,61.4 146.4,56.7 150.4,52.3 156.0,52.3 160.6,53.9 158.9,58.6 155.8,62.6 149.9,64.4"/>
<polygon id="c265" points="162.8,66.7 166.0,60.6 169.0,57.6 172.4,56.8 177.6,56.3 176.2,61.1 173.7,64.3 170.0,64.7"/>
<polygon id="c266" points="196.5,63.5 189.0,65.2 185.2,66.5 180.7,65.1 175.1,61.4 181.4,58.9 186.0,58.0 190.1,60.0"/>
<polygon id="c267" points="193.1,66.1 189.6,64.1 187.7,60.5 188.1,56.9 188.7,49.2 193.1,55.6 194.5,58.8 195.0,62.4"/>
<polygon id="c268" points="19.8,74.6 17.2,77.2 13.4,76.9 10.1,74.3 10.2,70.0 13.4,67.0 17.5,68.4 20.0,71.1"/>
<polygon id="c269" points="34.6,69.3 33.5,66.5 34.5,63.3 37.7,62.4 41.4,62.5 41.9,66.2 40.1,69.0 37.4,70.4"/>
<polygon id="c270" points="46.2,72.6 43.1,70.1 41.4,65.6 44.1,61.3 48.1,60.6 52.0,62.3 51.8,67.2 49.7,70.7"/>
<polygon id="c271" points="63.8,68.7 62.0,71.6 58.6,70.9 56.6,68.8 56.3,66.1 57.8,63.3 61.2,63.5 64.1,65.4"/>
<polygon id="c272" points="96.4,84.0 90.1,77.9 86.3,75.1 85.5,69.8 86.1,62.5 92.1,66.4 95.1,70.8 95.9,75.5"/>
<polygon id="c273" points="96.9,71.5 99.4,65.2 101.6,61.9 105.2,61.0 109.4,61.2 109.3,65.5 107.1,68.7 103.7,69.3"/>
<polygon id="c274" points="108.0,76.8 106.1,74.5 107.2,71.2 110.1,69.3 112.7,70.6 114.9,72.8 113.1,75.7 110.7,77.2"/>
<polygon id="c275" points="121.7,80.4 119.6,76.0 122.1,70.8 125.5,67.2 129.7,66.8 131.9,70.3 130.4,75.6 126.6,80.2"/>
<polygon id="c276" points="132.9,73.5 135.6,70.6 138.7,69.6 142.1,70.1 148.4,72.7 141.8,75.5 139.1,77.1 135.6,76.5"/>
<polygon id="c277" points="147.8,75.7 145.0,71.2 144.8,67.5 146.2,63.9 150.3,62.5 152.4,66.2 153.8,69.2 151.6,71.9"/>
<polygon id="c278" points="157.4,81.7 159.2,74.3 160.4,70.5 163.9,69.0 170.5,66.1 168.7,73.2 167.7,76.7 164.4,78.7"/>
<polygon id="c279" points="167.7,73.3 168.4,66.5 168.2,62.6 172.0,61.5 176.3,60.3 177.0,64.8 177.1,68.5 173.9,71.1"/>
<polygon id="c280" points="196.3,67.4 193.1,70.0 189.4,70.2 185.3,69.0 185.5,65.2 187.6,62.8 191.3,60.7 194.1,63.9"/>
<polygon id="c281" points="193.0,72.0 192.4,68.3 196.0,66.5 199.7,66.3 201.9,69.1 201.9,72.6 199.0,75.5 195.3,74.3"/>
<polygon id="c282" points="-2.7,86.5 -4.6,82.4 -5.2,79.0 -3.3,76.0 0.5,71.4 2.2,77.0 2.4,80.5 1.1,84.2"/>
<polygon id="c283" points="6.4,84.9 5.3,81.4 6.5,77.4 10.2,75.1 14.5,74.7 16.4,78.7 13.4,82.9 10.0,86.2"/>
<polygon id="c284" points="12.6,85.0 11.7,80.0 15.2,74.8 20.7,72.4 23.8,75.1 25.2,78.6 22.5,83.0 17.5,86.2"/>
<polygon id="c285" points="29.3,85.1 26.6,85.8 23.4,84.8 22.6,81.4 23.3,78.3 26.5,78.4 29.3,79.7 30.2,82.6"/>
<polygon id="c286" points="46.8,89.8 40.7,84.9 37.0,82.1 35.3,76.9 35.7,70.0 41.7,74.8 44.5,77.9 46.0,82.1"/>
<polygon id="c287" points="57.7,80.5 56.6,83.5 53.0,84.6 49.6,83.0 48.7,79.8 50.7,77.4 53.7,76.0 56.7,77.7"/>
<polygon id="c288" points="63.8,90.4 60.5,87.4 62.1,81.5 65.0,77.6 68.6,77.1 71.4,79.5 72.1,85.1 68.1,89.4"/>
<polygon id="c289" points="75.2,86.0 74.3,82.4 76.0,78.6 79.3,76.4 82.9,76.4 85.2,79.5 83.2,84.5 78.9,86.1"/>
<polygon id="c290" points="95.0,84.6 91.9,82.2 91.6,77.7 93.4,73.5 97.3,71.3 99.8,75.0 101.2,79.3 98.5,83.1"/>
<polygon id="c291" points="114.0,82.4 107.7,81.5 103.1,78.7 100.2,74.4 97.5,67.1 105.3,70.4 109.4,72.0 111.2,75.9"/>
<polygon id="c292" points="127.0,81.5 123.3,83.4 118.8,83.9 114.7,81.0 114.7,77.3 117.5,75.0 121.7,75.5 125.0,77.8"/>
<polygon id="c293" points="132.4,85.0 127.9,82.0 124.2,79.5 124.7,74.9 126.2,67.9 131.8,72.3 134.0,75.9 133.7,79.6"/>
<polygon id="c294" points="153.6,86.3 155.2,80.8 156.8,77.5 160.3,76.1 164.1,77.1 163.7,81.0 162.9,84.4 159.3,85.8"/>
<polygon id="c295" points="178.1,85.3 177.1,82.8 178.7,80.3 181.5,78.8 183.9,80.5 185.1,83.1 183.2,85.7 180.3,87.9"/>
<polygon id="c296" points="195.0,80.2 192.4,78.5 192.6,74.4 194.2,70.7 197.2,70.4 199.1,72.5 200.1,76.0 198.2,80.1"/>
<polygon id="c297" points="4.1,95.6 -0.1,91.5 -2.0,89.0 -2.9,85.4 -1.6,80.7 2.3,84.1 4.7,86.4 4.7,89.8"/>
<polygon id="c298" points="16.2,91.8 13.5,90.0 11.2,87.2 13.3,84.2 15.9,81.9 19.2,83.4 20.9,86.9 19.6,90.8"/>
<polygon id="c299" points="21.2,95.7 21.1,91.5 23.5,87.7 28.0,86.9 31.0,89.2 32.3,93.0 29.0,96.2 24.9,97.5"/>
<polygon id="c300" points="59.7,93.6 54.6,90.6 52.1,88.2 50.5,85.0 48.7,78.1 54.5,81.2 58.0,84.0 58.9,87.9"/>
<polygon id="c301" points="55.3,92.4 54.4,88.8 57.4,85.6 61.5,83.0 65.2,84.8 65.0,88.9 63.0,92.8 58.7,93.8"/>
<polygon id="c302" points="70.1,92.0 68.1,88.9 67.6,84.8 69.5,80.3 72.9,80.5 75.1,82.8 75.3,86.6 73.7,90.9"/>
<polygon id="c303" points="97.2,104.0 91.7,99.0 88.2,96.3 88.2,92.0 86.4,82.9 92.9,89.2 96.1,92.3 97.3,97.0"/>
<polygon id="c304" points="96.3,98.5 94.5,94.0 93.3,91.2 95.4,89.1 98.5,84.2 100.0,89.8 101.0,92.4 99.1,94.4"/>
<polygon id="c305" points="115.5,92.7 112.5,91.4 110.2,88.6 110.1,84.7 112.5,82.3 115.7,83.2 118.1,86.3 118.0,90.4"/>
<polygon id="c306" points="124.1,91.3 121.6,90.1 121.0,86.5 122.5,83.5 124.9,81.7 127.2,83.8 128.1,87.1 126.9,90.6"/>
<polygon id="c307" points="131.0,89.0 130.4,85.0 135.1,81.6 140.1,83.2 143.8,85.9 142.3,90.2 138.0,93.7 132.7,92.5"/>
<polygon id="c308" points="166.4,89.4 167.2,85.1 171.3,81.6 176.7,82.2 178.9,85.6 178.7,89.6 174.7,92.9 169.3,92.8"/>
<polygon id="c309" points="175.7,100.4 179.3,94.6 182.8,91.2 187.5,89.8 195.1,89.1 192.4,95.5 187.7,99.7 181.9,101.5"/>
<polygon id="c310" points="205.5,92.3 203.5,94.2 199.8,93.9 197.1,91.3 196.8,88.4 198.8,85.9 203.0,86.7 205.1,89.7"/>
<polygon id="c311" points="-2.8,108.4 -5.7,107.2 -8.3,105.0 -8.8,101.1 -6.5,98.6 -3.2,99.2 -1.5,102.5 -1.2,105.8"/>
<polygon id="c312" points="1.0,110.9 -0.9,107.2 1.2,103.6 4.0,100.4 7.8,101.6 9.8,105.0 7.8,108.5 5.1,111.7"/>
<polygon id="c313" points="36.4,108.2 36.1,103.9 39.1,99.7 43.9,99.2 48.3,100.3 47.2,104.7 44.9,108.4 40.4,109.7"/>
<polygon id="c314" points="63.9,110.5 59.4,107.4 57.6,104.2 57.4,101.1 57.4,94.7 62.1,98.2 63.9,101.6 65.1,105.3"/>
<polygon id="c315" points="62.5,102.8 67.7,100.1 70.8,98.3 73.8,100.1 78.7,102.2 74.4,104.9 71.1,106.7 67.3,105.5"/>
<polygon id="c316" points="86.6,103.5 81.6,100.5 78.4,99.1 78.4,95.7 77.3,90.1 82.2,92.6 84.6,94.8 86.2,97.9"/>
<polygon id="c317" points="96.1,103.0 93.1,105.3 89.1,104.4 87.3,101.1 86.7,97.2 90.3,95.6 93.6,97.1 96.5,99.4"/>
<polygon id="c318" points="108.9,101.9 105.4,100.6 104.6,96.8 106.2,93.9 108.7,91.7 111.7,93.4 113.3,96.6 112.0,100.0"/>
<polygon id="c319" points="121.6,109.9 117.0,108.1 114.5,104.2 114.0,100.0 115.6,95.5 120.4,95.7 123.3,100.6 123.1,105.2"/>
<polygon id="c320" points="119.9,101.5 123.3,97.5 128.7,95.7 133.4,97.8 143.4,100.5 134.3,104.6 129.2,106.3 124.1,104.9"/>
<polygon id="c321" points="148.0,102.5 144.9,103.0 141.4,101.8 138.6,98.1 140.2,94.8 143.6,94.3 146.8,96.3 148.3,99.3"/>
<polygon id="c322" points="154.7,113.2 150.3,108.7 147.0,106.4 148.9,103.0 150.4,97.8 155.0,100.2 156.6,103.7 156.2,107.1"/>
<polygon id="c323" points="167.7,104.2 164.6,105.5 161.2,103.7 161.3,100.0 162.6,96.6 166.2,97.3 168.8,98.6 169.1,101.6"/>
<polygon id="c324" points="188.9,100.0 188.7,103.2 184.2,104.0 180.4,102.6 179.8,99.7 181.2,97.5 184.4,96.0 188.6,96.9"/>
<polygon id="c325" points="189.7,106.4 190.3,101.9 192.1,97.6 197.0,95.5 200.8,97.4 201.2,101.6 198.6,105.6 194.3,106.5"/>
<polygon id="c326" points="3.5,121.7 0.1,119.8 -2.5,116.1 -2.2,111.5 0.2,108.3 3.4,111.0 5.4,114.1 6.5,119.1"/>
<polygon id="c327" points="23.2,121.5 18.8,123.9 13.0,121.8 8.5,117.6 8.8,112.6 13.9,112.0 18.5,112.9 23.4,116.4"/>
<polygon id="c328" points="49.3,126.0 46.8,120.1 45.8,116.8 46.6,113.1 49.6,108.3 52.6,113.1 53.4,117.0 52.1,120.4"/>
<polygon id="c329" points="49.5,119.5 51.4,110.7 54.0,106.1 58.0,104.3 66.4,99.3 64.1,108.1 62.1,112.9 57.8,115.8"/>
<polygon id="c330" points="85.4,120.2 82.6,118.1 82.9,114.1 84.6,110.0 88.7,109.4 90.9,112.8 90.8,116.6 89.0,120.4"/>
<polygon id="c331" points="112.2,114.8 111.5,112.1 113.4,109.6 116.5,109.7 119.0,111.4 118.4,114.2 116.7,116.1 113.8,117.4"/>
<polygon id="c332" points="130.2,108.8 128.8,111.7 124.7,110.9 121.8,109.0 120.7,106.2 122.5,103.7 126.7,103.3 129.8,105.9"/>
<polygon id="c333" points="158.2,110.4 152.5,112.9 149.3,114.8 145.5,113.4 142.3,110.2 145.5,107.1 149.4,106.4 152.9,107.5"/>
<polygon id="c334" points="161.4,120.7 157.2,121.7 155.2,117.0 154.1,112.2 157.3,109.2 161.2,110.8 165.0,113.6 164.7,118.6"/>
<polygon id="c335" points="165.8,111.5 166.2,107.6 170.8,105.0 175.7,105.1 179.9,107.4 178.6,111.8 173.4,113.7 168.7,114.0"/>
<polygon id="c336" points="209.6,117.6 204.4,115.9 201.1,114.1 199.4,110.5 197.8,104.3 203.8,107.1 207.2,108.7 209.3,112.4"/>
<polygon id="c337" points="2.1,125.2 -3.3,124.3 -7.0,123.7 -9.4,120.4 -11.5,115.4 -5.7,116.8 -2.4,117.4 0.4,120.3"/>
<polygon id="c338" points="13.8,127.0 11.3,129.1 7.3,129.0 3.5,126.8 3.9,123.8 6.3,122.3 9.7,121.5 12.7,124.0"/>
<polygon id="c339" points="15.2,125.9 18.0,120.9 22.2,118.9 26.0,119.2 32.5,120.3 29.1,125.5 25.0,127.6 21.2,127.1"/>
<polygon id="c340" points="36.6,119.4 36.3,116.4 39.1,114.1 42.8,114.3 45.3,116.7 43.9,119.8 41.6,122.0 38.3,121.6"/>
<polygon id="c341" points="59.5,125.1 55.8,123.3 54.8,119.2 55.0,114.4 59.2,112.9 63.5,114.2 65.1,119.0 62.7,122.8"/>
<polygon id="c342" points="70.6,122.4 67.7,124.3 63.8,122.8 60.6,120.0 61.8,116.8 64.2,114.6 68.3,115.7 71.2,118.9"/>
<polygon id="c343" points="77.7,129.7 76.8,126.6 78.8,123.0 82.5,121.0 86.4,121.3 86.9,125.2 84.8,129.2 80.7,130.9"/>
<polygon id="c344" points="105.9,121.3 102.8,124.5 97.7,125.0 93.3,122.8 90.1,118.9 94.7,116.5 99.2,114.4 102.9,117.8"/>
<polygon id="c345" points="101.0,127.6 99.9,120.7 100.4,116.2 103.0,112.4 109.1,106.8 109.0,115.5 108.9,119.5 106.3,122.8"/>
<polygon id="c346" points="106.5,127.3 112.7,123.3 118.0,121.4 122.6,123.5 130.7,126.4 122.4,129.7 118.3,131.8 113.8,130.2"/>
<polygon id="c347" points="131.6,128.0 129.4,130.5 125.0,131.1 120.9,128.3 121.3,124.6 123.3,121.5 127.8,122.6 132.2,124.4"/>
<polygon id="c348" points="150.9,124.4 147.5,125.2 143.7,124.5 141.9,121.0 142.4,118.0 145.0,115.9 149.3,117.1 151.9,120.9"/>
<polygon id="c349" points="159.4,121.9 157.0,119.9 157.6,116.6 160.0,114.9 162.7,114.2 165.3,116.1 164.4,119.5 162.4,121.9"/>
<polygon id="c350" points="174.9,133.3 170.6,129.7 168.6,127.0 167.7,123.4 168.7,118.1 173.2,120.7 176.0,124.0 176.2,128.2"/>
<polygon id="c351" points="179.4,122.1 183.0,119.0 185.5,117.4 188.6,117.9 192.9,120.1 190.1,123.9 186.7,125.6 183.1,124.9"/>
<polygon id="c352" points="188.3,125.7 186.9,121.8 189.9,118.7 193.5,118.0 197.5,118.9 196.9,122.9 195.4,126.1 191.7,127.3"/>
<polygon id="c353" points="-5.0,139.0 -3.9,134.4 -2.7,132.0 -0.4,130.1 5.3,128.0 3.7,133.8 2.6,136.9 -0.5,137.8"/>
<polygon id="c354" points="7.3,138.8 6.4,135.8 8.6,132.4 12.2,130.0 15.3,131.2 16.1,134.4 14.5,138.6 10.0,141.1"/>
<polygon id="c355" points="11.1,131.4 20.0,127.8 24.1,126.0 29.2,126.5 37.1,129.7 29.1,133.4 24.7,136.2 19.1,134.8"/>
<polygon id="c356" points="33.6,138.4 29.4,136.8 28.5,131.6 28.8,126.4 33.0,125.3 36.2,127.3 39.1,131.1 36.5,135.0"/>
<polygon id="c357" points="58.9,138.3 55.9,136.7 53.8,132.5 54.5,126.8 58.3,125.9 61.3,128.0 63.5,132.1 61.7,136.4"/>
<polygon id="c358" points="83.3,141.2 79.0,142.5 74.5,139.5 74.5,134.7 75.3,130.4 79.6,130.7 83.8,132.5 84.2,137.0"/>
<polygon id="c359" points="108.1,137.4 105.1,139.8 101.5,139.6 98.3,138.0 96.6,134.2 100.0,131.8 103.5,132.4 106.2,134.1"/>
<polygon id="c360" points="117.7,144.8 112.0,140.0 108.8,136.2 108.5,131.0 109.6,122.8 115.4,129.5 118.5,132.7 119.2,137.7"/>
<polygon id="c361" points="120.6,140.2 119.1,137.5 119.7,133.5 123.2,131.5 127.2,130.6 128.4,134.4 127.5,138.8 123.7,141.7"/>
<polygon id="c362" points="135.9,138.7 134.8,135.1 135.7,130.7 140.1,129.3 144.4,129.4 144.5,133.8 142.7,137.1 139.6,139.4"/>
<polygon id="c363" points="152.5,137.6 149.6,139.5 145.7,140.0 143.9,136.7 142.7,133.5 145.1,130.8 149.4,131.0 152.1,134.1"/>
<polygon id="c364" points="153.3,135.4 156.5,131.9 159.1,129.9 162.7,130.0 167.2,132.0 163.0,135.3 160.9,137.2 157.9,136.9"/>
<polygon id="c365" points="174.2,143.6 172.6,139.5 173.3,134.6 177.1,132.0 181.0,130.4 183.1,134.0 182.2,139.2 178.5,143.2"/>
<polygon id="c366" points="181.1,136.2 180.8,131.3 181.0,127.9 183.6,125.0 188.1,123.2 188.2,128.3 188.5,131.9 185.5,134.2"/>
<polygon id="c367" points="196.8,137.7 195.1,134.1 197.5,130.6 200.8,129.4 204.3,129.9 205.6,133.3 204.5,137.4 200.4,139.3"/>
</g><g fill="none" stroke="#5c634c" stroke-opacity="0.6" stroke-width="0.7" stroke-linejoin="round">
<use href="#c168"/>
<use href="#c169"/>
<use href="#c170"/>
<use href="#c171"/>
<use href="#c172"/>
<use href="#c173"/>
<use href="#c174"/>
<use href="#c175"/>
<use href="#c176"/>
<use href="#c177"/>
<use href="#c178"/>
<use href="#c179"/>
<use href="#c180"/>
<use href="#c181"/>
<use href="#c182"/>
<use href="#c183"/>
<use href="#c184"/>
<use href="#c185"/>
<use href="#c186"/>
<use href="#c187"/>
<use href="#c188"/>
<use href="#c189"/>
<use href="#c190"/>
<use href="#c191"/>
<use href="#c192"/>
<use href="#c193"/>
<use href="#c194"/>
<use href="#c195"/>
<use href="#c196"/>
<use href="#c197"/>
<use href="#c198"/>
<use href="#c199"/>
<use href="#c200"/>
<use href="#c201"/>
<use href="#c202"/>
<use href="#c203"/>
<use href="#c204"/>
<use href="#c205"/>
<use href="#c206"/>
<use href="#c207"/>
<use href="#c208"/>
<use href="#c209"/>
<use href="#c210"/>
<use href="#c211"/>
<use href="#c212"/>
<use href="#c213"/>
<use href="#c214"/>
<use href="#c215"/>
<use href="#c216"/>
<use href="#c217"/>
<use href="#c218"/>
<use href="#c219"/>
<use href="#c220"/>
<use href="#c221"/>
<use href="#c222"/>
<use href="#c223"/>
<use href="#c224"/>
<use href="#c225"/>
<use href="#c226"/>
<use href="#c227"/>
<use href="#c228"/>
<use href="#c229"/>
<use href="#c230"/>
<use href="#c231"/>
<use href="#c232"/>
<use href="#c233"/>
<use href="#c234"/>
<use href="#c235"/>
<use href="#c236"/>
<use href="#c237"/>
<use href="#c238"/>
<use href="#c239"/>
<use href="#c240"/>
<use href="#c241"/>
<use href="#c242"/>
<use href="#c243"/>
<use href="#c244"/>
<use href="#c245"/>
<use href="#c246"/>
<use href="#c247"/>
<use href="#c248"/>
<use href="#c249"/>
<use href="#c250"/>
<use href="#c251"/>
<use href="#c252"/>
<use href="#c253"/>
<use href="#c254"/>
<use href="#c255"/>
<use href="#c256"/>
<use href="#c257"/>
<use href="#c258"/>
<use href="#c259"/>
<use href="#c260"/>
<use href="#c261"/>
<use href="#c262"/>
<use href="#c263"/>
<use href="#c264"/>
<use href="#c265"/>
<use href="#c266"/>
<use href="#c267"/>
<use href="#c268"/>
<use href="#c269"/>
<use href="#c270"/>
<use href="#c271"/>
<use href="#c272"/>
<use href="#c273"/>
<use href="#c274"/>
<use href="#c275"/>
<use href="#c276"/>
<use href="#c277"/>
<use href="#c278"/>
<use href="#c279"/>
<use href="#c280"/>
<use href="#c281"/>
<use href="#c282"/>
<use href="#c283"/>
<use href="#c284"/>
<use href="#c285"/>
<use href="#c286"/>
<use href="#c287"/>
<use href="#c288"/>
<use href="#c289"/>
<use href="#c290"/>
<use href="#c291"/>
<use href="#c292"/>
<use href="#c293"/>
<use href="#c294"/>
<use href="#c295"/>
<use href="#c296"/>
<use href="#c297"/>
<use href="#c298"/>
<use href="#c299"/>
<use href="#c300"/>
<use href="#c301"/>
<use href="#c302"/>
<use href="#c303"/>
<use href="#c304"/>
<use href="#c305"/>
<use href="#c306"/>
<use href="#c307"/>
<use href="#c308"/>
<use href="#c309"/>
<use href="#c310"/>
<use href="#c311"/>
<use href="#c312"/>
<use href="#c313"/>
<use href="#c314"/>
<use href="#c315"/>
<use href="#c316"/>
<use href="#c317"/>
<use href="#c318"/>
<use href="#c319"/>
<use href="#c320"/>
<use href="#c321"/>
<use href="#c322"/>
<use href="#c323"/>
<use href="#c324"/>
<use href="#c325"/>
<use href="#c326"/>
<use href="#c327"/>
<use href="#c328"/>
<use href="#c329"/>
<use href="#c330"/>
<use href="#c331"/>
<use href="#c332"/>
<use href="#c333"/>
<use href="#c334"/>
<use href="#c335"/>
<use href="#c336"/>
<use href="#c337"/>
<use href="#c338"/>
<use href="#c339"/>
<use href="#c340"/>
<use href="#c341"/>
<use href="#c342"/>
<use href="#c343"/>
<use href="#c344"/>
<use href="#c345"/>
<use href="#c346"/>
<use href="#c347"/>
<use href="#c348"/>
<use href="#c349"/>
<use href="#c350"/>
<use href="#c351"/>
<use href="#c352"/>
<use href="#c353"/>
<use href="#c354"/>
<use href="#c355"/>
<use href="#c356"/>
<use href="#c357"/>
<use href="#c358"/>
<use href="#c359"/>
<use href="#c360"/>
<use href="#c361"/>
<use href="#c362"/>
<use href="#c363"/>
<use href="#c364"/>
<use href="#c365"/>
<use href="#c366"/>
<use href="#c367"/>
</g><g fill="#8d946e" fill-opacity="0.35">
<ellipse cx="-6.5" cy="-4.7" rx="1.9" ry="1.6"/>
<ellipse cx="9.4" cy="-10.5" rx="2.1" ry="1.8"/>
<ellipse cx="20.0" cy="-9.6" rx="1.8" ry="1.6"/>
<ellipse cx="32.9" cy="-7.7" rx="2.4" ry="2.0"/>
<ellipse cx="56.7" cy="-9.5" rx="1.8" ry="1.5"/>
<ellipse cx="65.4" cy="-2.0" rx="2.0" ry="1.7"/>
<ellipse cx="76.5" cy="-8.0" rx="2.5" ry="2.1"/>
<ellipse cx="91.5" cy="-1.8" rx="2.4" ry="2.0"/>
<ellipse cx="107.5" cy="-2.1" rx="2.5" ry="2.1"/>
<ellipse cx="122.8" cy="-3.3" rx="2.6" ry="2.2"/>
<ellipse cx="131.6" cy="-4.2" rx="2.0" ry="1.7"/>
<ellipse cx="139.0" cy="-6.4" rx="2.0" ry="1.6"/>
<ellipse cx="158.2" cy="-9.6" rx="2.3" ry="2.0"/>
<ellipse cx="173.5" cy="-5.7" rx="2.1" ry="1.8"/>
<ellipse cx="179.1" cy="-1.9" rx="2.2" ry="1.8"/>
<ellipse cx="192.6" cy="-7.3" rx="2.0" ry="1.6"/>
<ellipse cx="-3.6" cy="8.2" rx="2.0" ry="1.7"/>
<ellipse cx="8.5" cy="6.3" rx="2.2" ry="1.9"/>
<ellipse cx="22.8" cy="8.7" rx="2.6" ry="2.2"/>
<ellipse cx="47.5" cy="0.6" rx="2.4" ry="2.0"/>
<ellipse cx="62.9" cy="2.7" rx="1.9" ry="1.6"/>
<ellipse cx="72.3" cy="4.3" rx="2.5" ry="2.1"/>
<ellipse cx="86.4" cy="5.6" rx="2.3" ry="1.9"/>
<ellipse cx="98.5" cy="9.5" rx="2.3" ry="1.9"/>
<ellipse cx="111.5" cy="4.7" rx="1.9" ry="1.6"/>
<ellipse cx="126.4" cy="5.4" rx="2.7" ry="2.2"/>
<ellipse cx="139.1" cy="5.7" rx="2.1" ry="1.8"/>
<ellipse cx="158.0" cy="0.7" rx="1.9" ry="1.6"/>
<ellipse cx="175.3" cy="3.2" rx="2.6" ry="2.2"/>
<ellipse cx="199.9" cy="3.1" rx="1.9" ry="1.6"/>
<ellipse cx="-3.3" cy="15.5" rx="2.7" ry="2.3"/>
<ellipse cx="23.5" cy="11.7" rx="1.9" ry="1.6"/>
<ellipse cx="34.5" cy="17.8" rx="2.5" ry="2.1"/>
<ellipse cx="47.8" cy="13.2" rx="2.1" ry="1.8"/>
<ellipse cx="58.0" cy="20.2" rx="2.2" ry="1.8"/>
<ellipse cx="73.1" cy="15.4" rx="2.2" ry="1.9"/>
<ellipse cx="80.4" cy="12.0" rx="2.1" ry="1.8"/>
<ellipse cx="94.2" cy="11.9" rx="2.3" ry="2.0"/>
<ellipse cx="118.7" cy="19.3" rx="2.0" ry="1.7"/>
<ellipse cx="126.7" cy="18.6" rx="2.0" ry="1.7"/>
<ellipse cx="144.1" cy="11.1" rx="2.1" ry="1.7"/>
<ellipse cx="152.9" cy="16.2" rx="2.6" ry="2.2"/>
<ellipse cx="177.1" cy="10.3" rx="2.6" ry="2.2"/>
<ellipse cx="195.6" cy="17.7" rx="2.1" ry="1.7"/>
<ellipse cx="4.9" cy="21.1" rx="2.1" ry="1.8"/>
<ellipse cx="8.6" cy="30.8" rx="2.5" ry="2.1"/>
<ellipse cx="24.8" cy="22.4" rx="2.2" ry="1.9"/>
<ellipse cx="53.6" cy="21.4" rx="2.4" ry="2.0"/>
<ellipse cx="61.6" cy="27.3" rx="2.6" ry="2.2"/>
<ellipse cx="71.7" cy="26.6" rx="2.2" ry="1.8"/>
<ellipse cx="117.0" cy="28.9" rx="2.4" ry="2.1"/>
<ellipse cx="125.4" cy="22.4" rx="2.6" ry="2.2"/>
<ellipse cx="139.2" cy="27.4" rx="2.3" ry="1.9"/>
<ellipse cx="150.7" cy="25.3" rx="2.1" ry="1.8"/>
<ellipse cx="160.8" cy="21.0" rx="2.3" ry="1.9"/>
<ellipse cx="176.0" cy="25.8" rx="1.9" ry="1.6"/>
<ellipse cx="192.3" cy="22.0" rx="2.1" ry="1.7"/>
<ellipse cx="199.0" cy="24.0" rx="2.7" ry="2.3"/>
<ellipse cx="-6.4" cy="38.5" rx="2.1" ry="1.8"/>
<ellipse cx="3.8" cy="33.0" rx="2.6" ry="2.2"/>
<ellipse cx="18.3" cy="39.6" rx="2.5" ry="2.1"/>
<ellipse cx="30.9" cy="34.8" rx="2.4" ry="2.0"/>
<ellipse cx="42.4" cy="33.4" rx="2.4" ry="2.0"/>
<ellipse cx="60.1" cy="36.0" rx="2.0" ry="1.7"/>
<ellipse cx="65.3" cy="40.4" rx="2.3" ry="1.9"/>
<ellipse cx="123.3" cy="33.0" rx="2.6" ry="2.2"/>
<ellipse cx="135.0" cy="39.8" rx="2.6" ry="2.1"/>
<ellipse cx="142.2" cy="38.3" rx="1.8" ry="1.5"/>
<ellipse cx="160.5" cy="41.6" rx="2.6" ry="2.2"/>
<ellipse cx="169.8" cy="33.3" rx="2.5" ry="2.1"/>
<ellipse cx="178.8" cy="37.7" rx="2.4" ry="2.0"/>
<ellipse cx="195.8" cy="37.1" rx="2.5" ry="2.1"/>
<ellipse cx="15.9" cy="45.3" rx="2.0" ry="1.7"/>
<ellipse cx="23.2" cy="49.9" rx="1.9" ry="1.6"/>
<ellipse cx="48.8" cy="43.0" rx="2.4" ry="2.0"/>
<ellipse cx="64.2" cy="49.4" rx="2.0" ry="1.7"/>
<ellipse cx="74.9" cy="50.3" rx="2.0" ry="1.7"/>
<ellipse cx="124.8" cy="49.4" rx="2.3" ry="2.0"/>
<ellipse cx="140.8" cy="49.8" rx="2.5" ry="2.1"/>
<ellipse cx="149.2" cy="49.9" rx="2.3" ry="1.9"/>
<ellipse cx="160.5" cy="51.0" rx="2.2" ry="1.8"/>
<ellipse cx="177.9" cy="50.8" rx="2.0" ry="1.7"/>
<ellipse cx="186.1" cy="51.5" rx="2.4" ry="2.0"/>
<ellipse cx="203.1" cy="44.9" rx="1.8" ry="1.5"/>
<ellipse cx="-7.2" cy="55.8" rx="2.7" ry="2.3"/>
<ellipse cx="6.8" cy="62.5" rx="2.5" ry="2.1"/>
<ellipse cx="20.1" cy="60.7" rx="2.0" ry="1.7"/>
<ellipse cx="33.1" cy="56.1" rx="2.6" ry="2.2"/>
<ellipse cx="42.1" cy="55.8" rx="2.3" ry="1.9"/>
<ellipse cx="64.5" cy="61.5" rx="2.4" ry="2.0"/>
<ellipse cx="78.3" cy="60.1" rx="2.7" ry="2.3"/>
<ellipse cx="91.6" cy="61.6" rx="2.4" ry="2.0"/>
<ellipse cx="104.0" cy="56.1" rx="2.1" ry="1.8"/>
<ellipse cx="115.8" cy="55.8" rx="2.3" ry="1.9"/>
<ellipse cx="135.1" cy="54.0" rx="1.8" ry="1.5"/>
<ellipse cx="145.5" cy="62.7" rx="2.1" ry="1.8"/>
<ellipse cx="153.2" cy="57.7" rx="2.7" ry="2.2"/>
<ellipse cx="171.2" cy="60.8" rx="2.1" ry="1.8"/>
<ellipse cx="185.6" cy="62.4" rx="2.0" ry="1.7"/>
<ellipse cx="191.4" cy="59.6" rx="1.9" ry="1.6"/>
<ellipse cx="15.5" cy="72.5" rx="2.5" ry="2.1"/>
<ellipse cx="37.5" cy="66.4" rx="2.2" ry="1.8"/>
<ellipse cx="47.2" cy="66.5" rx="2.6" ry="2.2"/>
<ellipse cx="59.8" cy="67.3" rx="2.0" ry="1.7"/>
<ellipse cx="91.0" cy="72.8" rx="2.3" ry="1.9"/>
<ellipse cx="104.4" cy="65.3" rx="2.0" ry="1.7"/>
<ellipse cx="110.4" cy="73.7" rx="2.0" ry="1.6"/>
<ellipse cx="126.0" cy="73.0" rx="2.6" ry="2.2"/>
<ellipse cx="138.9" cy="73.2" rx="1.8" ry="1.5"/>
<ellipse cx="149.2" cy="68.4" rx="2.3" ry="1.9"/>
<ellipse cx="164.1" cy="73.7" rx="2.6" ry="2.1"/>
<ellipse cx="172.8" cy="65.6" rx="2.4" ry="2.1"/>
<ellipse cx="190.2" cy="66.2" rx="2.4" ry="2.0"/>
<ellipse cx="197.4" cy="70.6" rx="2.4" ry="2.0"/>
<ellipse cx="-1.3" cy="79.8" rx="2.2" ry="1.9"/>
<ellipse cx="10.1" cy="80.3" rx="2.5" ry="2.1"/>
<ellipse cx="19.1" cy="79.2" rx="2.7" ry="2.3"/>
<ellipse cx="26.6" cy="82.0" rx="1.9" ry="1.6"/>
<ellipse cx="41.2" cy="79.8" rx="2.3" ry="1.9"/>
<ellipse cx="53.4" cy="80.2" rx="2.0" ry="1.7"/>
<ellipse cx="66.4" cy="83.1" rx="2.6" ry="2.2"/>
<ellipse cx="79.1" cy="81.1" rx="2.3" ry="2.0"/>
<ellipse cx="96.0" cy="78.4" rx="2.6" ry="2.2"/>
<ellipse cx="106.3" cy="75.3" rx="2.2" ry="1.9"/>
<ellipse cx="120.4" cy="79.2" rx="2.3" ry="2.0"/>
<ellipse cx="129.7" cy="77.5" rx="2.6" ry="2.2"/>
<ellipse cx="159.8" cy="80.9" rx="2.1" ry="1.7"/>
<ellipse cx="181.0" cy="83.0" rx="2.0" ry="1.7"/>
<ellipse cx="196.2" cy="75.2" rx="1.9" ry="1.6"/>
<ellipse cx="1.1" cy="87.8" rx="2.0" ry="1.7"/>
<ellipse cx="16.1" cy="87.0" rx="2.1" ry="1.8"/>
<ellipse cx="26.5" cy="92.2" rx="2.6" ry="2.2"/>
<ellipse cx="54.6" cy="86.4" rx="1.8" ry="1.5"/>
<ellipse cx="60.0" cy="88.9" rx="2.4" ry="2.0"/>
<ellipse cx="71.6" cy="85.8" rx="2.1" ry="1.8"/>
<ellipse cx="92.2" cy="94.3" rx="2.0" ry="1.7"/>
<ellipse cx="97.3" cy="91.8" rx="1.9" ry="1.6"/>
<ellipse cx="114.0" cy="87.5" rx="1.8" ry="1.5"/>
<ellipse cx="124.5" cy="86.8" rx="1.9" ry="1.6"/>
<ellipse cx="136.5" cy="87.7" rx="2.7" ry="2.2"/>
<ellipse cx="173.1" cy="87.4" rx="2.6" ry="2.2"/>
<ellipse cx="185.0" cy="95.0" rx="2.5" ry="2.1"/>
<ellipse cx="201.3" cy="90.4" rx="1.8" ry="1.5"/>
<ellipse cx="-4.6" cy="103.6" rx="1.9" ry="1.6"/>
<ellipse cx="4.5" cy="106.1" rx="2.3" ry="1.9"/>
<ellipse cx="42.2" cy="104.4" rx="2.4" ry="2.0"/>
<ellipse cx="60.7" cy="102.9" rx="2.0" ry="1.6"/>
<ellipse cx="71.0" cy="102.5" rx="2.0" ry="1.6"/>
<ellipse cx="81.9" cy="96.7" rx="1.9" ry="1.6"/>
<ellipse cx="91.6" cy="100.3" rx="2.3" ry="1.9"/>
<ellipse cx="108.8" cy="96.7" rx="2.1" ry="1.8"/>
<ellipse cx="118.5" cy="102.6" rx="2.6" ry="2.2"/>
<ellipse cx="129.0" cy="101.1" rx="2.3" ry="2.0"/>
<ellipse cx="144.3" cy="98.8" rx="2.1" ry="1.8"/>
<ellipse cx="152.4" cy="104.9" rx="2.4" ry="2.0"/>
<ellipse cx="165.5" cy="100.9" rx="2.2" ry="1.8"/>
<ellipse cx="184.3" cy="99.9" rx="2.0" ry="1.7"/>
<ellipse cx="195.5" cy="101.7" rx="2.5" ry="2.1"/>
<ellipse cx="1.9" cy="115.0" rx="2.1" ry="1.8"/>
<ellipse cx="15.9" cy="117.0" rx="2.7" ry="2.3"/>
<ellipse cx="49.5" cy="116.9" rx="1.9" ry="1.6"/>
<ellipse cx="57.9" cy="109.4" rx="2.6" ry="2.1"/>
<ellipse cx="86.9" cy="115.4" rx="2.3" ry="1.9"/>
<ellipse cx="115.3" cy="113.2" rx="1.8" ry="1.5"/>
<ellipse cx="125.6" cy="107.6" rx="1.9" ry="1.6"/>
<ellipse cx="149.4" cy="110.3" rx="2.2" ry="1.8"/>
<ellipse cx="159.5" cy="115.5" rx="2.6" ry="2.2"/>
<ellipse cx="172.2" cy="109.6" rx="2.5" ry="2.1"/>
<ellipse cx="204.1" cy="111.4" rx="2.1" ry="1.8"/>
<ellipse cx="-4.5" cy="120.3" rx="1.8" ry="1.5"/>
<ellipse cx="8.5" cy="125.3" rx="1.8" ry="1.5"/>
<ellipse cx="23.6" cy="123.2" rx="2.4" ry="2.0"/>
<ellipse cx="40.4" cy="118.2" rx="1.9" ry="1.6"/>
<ellipse cx="59.4" cy="119.1" rx="2.6" ry="2.2"/>
<ellipse cx="65.9" cy="119.4" rx="2.0" ry="1.7"/>
<ellipse cx="81.6" cy="125.9" rx="2.1" ry="1.7"/>
<ellipse cx="98.4" cy="120.2" rx="2.6" ry="2.2"/>
<ellipse cx="104.8" cy="117.9" rx="2.4" ry="2.1"/>
<ellipse cx="118.2" cy="126.9" rx="2.4" ry="2.0"/>
<ellipse cx="126.6" cy="126.3" rx="2.4" ry="2.0"/>
<ellipse cx="146.4" cy="121.0" rx="2.1" ry="1.7"/>
<ellipse cx="161.1" cy="118.1" rx="1.9" ry="1.6"/>
<ellipse cx="171.8" cy="125.7" rx="2.0" ry="1.7"/>
<ellipse cx="186.1" cy="121.1" rx="2.1" ry="1.8"/>
<ellipse cx="192.7" cy="122.5" rx="2.5" ry="2.1"/>
<ellipse cx="-0.4" cy="134.1" rx="1.8" ry="1.6"/>
<ellipse cx="11.2" cy="135.1" rx="2.2" ry="1.9"/>
<ellipse cx="24.4" cy="130.5" rx="2.6" ry="2.1"/>
<ellipse cx="33.3" cy="131.4" rx="2.6" ry="2.2"/>
<ellipse cx="58.6" cy="132.3" rx="2.4" ry="2.0"/>
<ellipse cx="79.4" cy="135.9" rx="2.6" ry="2.2"/>
<ellipse cx="102.6" cy="135.8" rx="2.0" ry="1.7"/>
<ellipse cx="113.8" cy="134.3" rx="2.5" ry="2.1"/>
<ellipse cx="123.4" cy="136.1" rx="2.3" ry="1.9"/>
<ellipse cx="139.8" cy="134.4" rx="2.4" ry="2.0"/>
<ellipse cx="147.6" cy="135.5" rx="2.1" ry="1.8"/>
<ellipse cx="160.1" cy="133.8" rx="1.8" ry="1.5"/>
<ellipse cx="177.7" cy="136.8" rx="2.3" ry="1.9"/>
<ellipse cx="184.5" cy="129.8" rx="2.0" ry="1.7"/>
<ellipse cx="200.7" cy="133.6" rx="2.4" ry="2.0"/>
</g><g fill="#5e6650" fill-opacity="0.5">
<circle cx="-5.2" cy="-6.2" r=".7"/>
<circle cx="-4.9" cy="-4.6" r=".7"/>
<circle cx="8.2" cy="-10.5" r=".7"/>
<circle cx="7.4" cy="-9.4" r=".7"/>
<circle cx="21.2" cy="-10.9" r=".7"/>
<circle cx="20.1" cy="-9.5" r=".7"/>
<circle cx="33.5" cy="-8.2" r=".7"/>
<circle cx="35.0" cy="-6.4" r=".7"/>
<circle cx="55.5" cy="-9.2" r=".7"/>
<circle cx="56.6" cy="-10.0" r=".7"/>
<circle cx="66.9" cy="-2.0" r=".7"/>
<circle cx="65.1" cy="-2.4" r=".7"/>
<circle cx="75.9" cy="-9.2" r=".7"/>
<circle cx="76.0" cy="-6.2" r=".7"/>
<circle cx="92.0" cy="-3.6" r=".7"/>
<circle cx="91.1" cy="-0.6" r=".7"/>
<circle cx="105.5" cy="-0.9" r=".7"/>
<circle cx="105.5" cy="-1.5" r=".7"/>
<circle cx="120.6" cy="-1.8" r=".7"/>
<circle cx="122.5" cy="-1.6" r=".7"/>
<circle cx="131.7" cy="-2.8" r=".7"/>
<circle cx="133.6" cy="-3.0" r=".7"/>
<circle cx="140.9" cy="-6.1" r=".7"/>
<circle cx="140.7" cy="-5.5" r=".7"/>
<circle cx="157.9" cy="-9.5" r=".7"/>
<circle cx="156.1" cy="-9.5" r=".7"/>
<circle cx="173.2" cy="-5.5" r=".7"/>
<circle cx="175.5" cy="-6.1" r=".7"/>
<circle cx="180.0" cy="-2.1" r=".7"/>
<circle cx="180.4" cy="-0.7" r=".7"/>
<circle cx="191.8" cy="-6.5" r=".7"/>
<circle cx="194.3" cy="-6.5" r=".7"/>
<circle cx="-4.4" cy="8.1" r=".7"/>
<circle cx="-3.6" cy="6.6" r=".7"/>
<circle cx="8.6" cy="5.5" r=".7"/>
<circle cx="8.4" cy="4.7" r=".7"/>
<circle cx="23.1" cy="10.8" r=".7"/>
<circle cx="25.1" cy="7.6" r=".7"/>
<circle cx="49.4" cy="-1.2" r=".7"/>
<circle cx="47.0" cy="1.9" r=".7"/>
<circle cx="61.8" cy="3.9" r=".7"/>
<circle cx="63.9" cy="2.3" r=".7"/>
<circle cx="71.2" cy="2.4" r=".7"/>
<circle cx="74.0" cy="3.8" r=".7"/>
<circle cx="85.3" cy="4.5" r=".7"/>
<circle cx="84.7" cy="6.0" r=".7"/>
<circle cx="99.0" cy="9.4" r=".7"/>
<circle cx="98.0" cy="8.8" r=".7"/>
<circle cx="109.7" cy="4.7" r=".7"/>
<circle cx="110.8" cy="4.5" r=".7"/>
<circle cx="125.5" cy="3.5" r=".7"/>
<circle cx="125.4" cy="6.0" r=".7"/>
<circle cx="138.7" cy="7.3" r=".7"/>
<circle cx="139.4" cy="5.2" r=".7"/>
<circle cx="158.5" cy="1.7" r=".7"/>
<circle cx="159.0" cy="-0.7" r=".7"/>
<circle cx="175.5" cy="5.2" r=".7"/>
<circle cx="177.1" cy="2.4" r=".7"/>
<circle cx="199.9" cy="3.2" r=".7"/>
<circle cx="200.9" cy="3.7" r=".7"/>
<circle cx="-2.8" cy="17.6" r=".7"/>
<circle cx="-1.9" cy="17.5" r=".7"/>
<circle cx="21.7" cy="11.2" r=".7"/>
<circle cx="21.6" cy="12.9" r=".7"/>
<circle cx="34.5" cy="15.8" r=".7"/>
<circle cx="34.0" cy="16.5" r=".7"/>
<circle cx="47.0" cy="12.0" r=".7"/>
<circle cx="49.3" cy="14.9" r=".7"/>
<circle cx="55.9" cy="19.1" r=".7"/>
<circle cx="57.2" cy="20.8" r=".7"/>
<circle cx="74.5" cy="15.1" r=".7"/>
<circle cx="73.7" cy="15.8" r=".7"/>
<circle cx="80.3" cy="12.5" r=".7"/>
<circle cx="82.3" cy="10.5" r=".7"/>
<circle cx="93.2" cy="10.3" r=".7"/>
<circle cx="95.1" cy="12.8" r=".7"/>
<circle cx="117.9" cy="18.4" r=".7"/>
<circle cx="119.9" cy="19.2" r=".7"/>
<circle cx="127.5" cy="17.4" r=".7"/>
<circle cx="128.6" cy="19.5" r=".7"/>
<circle cx="143.6" cy="12.3" r=".7"/>
<circle cx="142.4" cy="9.9" r=".7"/>
<circle cx="153.9" cy="17.6" r=".7"/>
<circle cx="152.0" cy="14.5" r=".7"/>
<circle cx="175.5" cy="8.3" r=".7"/>
<circle cx="178.6" cy="11.0" r=".7"/>
<circle cx="194.3" cy="18.5" r=".7"/>
<circle cx="197.1" cy="17.4" r=".7"/>
<circle cx="4.6" cy="19.5" r=".7"/>
<circle cx="6.7" cy="19.6" r=".7"/>
<circle cx="9.4" cy="32.6" r=".7"/>
<circle cx="6.9" cy="32.5" r=".7"/>
<circle cx="23.8" cy="23.8" r=".7"/>
<circle cx="26.0" cy="23.3" r=".7"/>
<circle cx="55.0" cy="21.4" r=".7"/>
<circle cx="55.6" cy="23.2" r=".7"/>
<circle cx="62.3" cy="27.4" r=".7"/>
<circle cx="61.0" cy="27.9" r=".7"/>
<circle cx="72.7" cy="25.1" r=".7"/>
<circle cx="70.4" cy="26.3" r=".7"/>
<circle cx="118.9" cy="28.9" r=".7"/>
<circle cx="116.1" cy="28.3" r=".7"/>
<circle cx="123.0" cy="22.4" r=".7"/>
<circle cx="126.9" cy="24.5" r=".7"/>
<circle cx="140.9" cy="28.6" r=".7"/>
<circle cx="137.3" cy="26.8" r=".7"/>
<circle cx="149.9" cy="26.0" r=".7"/>
<circle cx="152.6" cy="25.3" r=".7"/>
<circle cx="161.5" cy="22.3" r=".7"/>
<circle cx="160.9" cy="21.2" r=".7"/>
<circle cx="176.1" cy="24.5" r=".7"/>
<circle cx="175.7" cy="24.5" r=".7"/>
<circle cx="190.4" cy="22.7" r=".7"/>
<circle cx="193.1" cy="23.4" r=".7"/>
<circle cx="199.6" cy="24.0" r=".7"/>
<circle cx="196.9" cy="24.5" r=".7"/>
<circle cx="-4.7" cy="38.8" r=".7"/>
<circle cx="-5.2" cy="39.3" r=".7"/>
<circle cx="4.2" cy="33.0" r=".7"/>
<circle cx="2.4" cy="32.7" r=".7"/>
<circle cx="18.4" cy="41.2" r=".7"/>
<circle cx="16.6" cy="41.4" r=".7"/>
<circle cx="32.8" cy="33.5" r=".7"/>
<circle cx="28.8" cy="33.0" r=".7"/>
<circle cx="44.1" cy="32.6" r=".7"/>
<circle cx="44.0" cy="33.8" r=".7"/>
<circle cx="60.2" cy="36.6" r=".7"/>
<circle cx="60.2" cy="34.6" r=".7"/>
<circle cx="64.3" cy="40.2" r=".7"/>
<circle cx="64.7" cy="40.2" r=".7"/>
<circle cx="123.0" cy="31.1" r=".7"/>
<circle cx="124.3" cy="31.4" r=".7"/>
<circle cx="134.7" cy="41.6" r=".7"/>
<circle cx="137.1" cy="38.5" r=".7"/>
<circle cx="144.0" cy="38.3" r=".7"/>
<circle cx="141.1" cy="38.7" r=".7"/>
<circle cx="158.8" cy="40.5" r=".7"/>
<circle cx="161.7" cy="43.4" r=".7"/>
<circle cx="170.3" cy="32.0" r=".7"/>
<circle cx="169.3" cy="33.2" r=".7"/>
<circle cx="180.9" cy="37.9" r=".7"/>
<circle cx="178.6" cy="39.6" r=".7"/>
<circle cx="197.3" cy="36.7" r=".7"/>
<circle cx="197.4" cy="36.4" r=".7"/>
<circle cx="17.0" cy="44.0" r=".7"/>
<circle cx="15.4" cy="46.9" r=".7"/>
<circle cx="24.2" cy="50.1" r=".7"/>
<circle cx="24.7" cy="50.6" r=".7"/>
<circle cx="47.8" cy="42.1" r=".7"/>
<circle cx="50.8" cy="42.6" r=".7"/>
<circle cx="65.7" cy="49.3" r=".7"/>
<circle cx="63.2" cy="48.7" r=".7"/>
<circle cx="73.1" cy="48.8" r=".7"/>
<circle cx="74.3" cy="51.2" r=".7"/>
<circle cx="123.9" cy="49.3" r=".7"/>
<circle cx="124.5" cy="47.9" r=".7"/>
<circle cx="139.9" cy="51.1" r=".7"/>
<circle cx="142.2" cy="50.0" r=".7"/>
<circle cx="147.3" cy="49.5" r=".7"/>
<circle cx="149.0" cy="49.2" r=".7"/>
<circle cx="158.3" cy="51.3" r=".7"/>
<circle cx="161.7" cy="50.9" r=".7"/>
<circle cx="179.9" cy="51.4" r=".7"/>
<circle cx="176.7" cy="51.0" r=".7"/>
<circle cx="184.4" cy="52.9" r=".7"/>
<circle cx="188.0" cy="52.8" r=".7"/>
<circle cx="203.2" cy="44.4" r=".7"/>
<circle cx="202.0" cy="45.6" r=".7"/>
<circle cx="-8.8" cy="56.4" r=".7"/>
<circle cx="-4.8" cy="57.3" r=".7"/>
<circle cx="6.4" cy="62.3" r=".7"/>
<circle cx="7.4" cy="61.5" r=".7"/>
<circle cx="18.3" cy="61.3" r=".7"/>
<circle cx="21.8" cy="59.7" r=".7"/>
<circle cx="33.8" cy="55.3" r=".7"/>
<circle cx="31.8" cy="56.1" r=".7"/>
<circle cx="41.6" cy="55.7" r=".7"/>
<circle cx="40.4" cy="54.1" r=".7"/>
<circle cx="64.8" cy="62.9" r=".7"/>
<circle cx="63.1" cy="61.4" r=".7"/>
<circle cx="76.0" cy="59.3" r=".7"/>
<circle cx="78.7" cy="59.8" r=".7"/>
<circle cx="91.8" cy="62.6" r=".7"/>
<circle cx="93.1" cy="60.4" r=".7"/>
<circle cx="105.7" cy="57.5" r=".7"/>
<circle cx="105.2" cy="57.0" r=".7"/>
<circle cx="113.8" cy="57.3" r=".7"/>
<circle cx="114.2" cy="55.9" r=".7"/>
<circle cx="133.9" cy="55.2" r=".7"/>
<circle cx="135.9" cy="54.1" r=".7"/>
<circle cx="143.5" cy="64.3" r=".7"/>
<circle cx="144.0" cy="61.5" r=".7"/>
<circle cx="151.0" cy="59.5" r=".7"/>
<circle cx="155.0" cy="56.5" r=".7"/>
<circle cx="171.9" cy="59.3" r=".7"/>
<circle cx="173.2" cy="61.7" r=".7"/>
<circle cx="187.1" cy="61.6" r=".7"/>
<circle cx="183.7" cy="62.9" r=".7"/>
<circle cx="192.7" cy="61.0" r=".7"/>
<circle cx="189.9" cy="58.9" r=".7"/>
<circle cx="15.3" cy="73.1" r=".7"/>
<circle cx="15.6" cy="74.5" r=".7"/>
<circle cx="37.0" cy="67.4" r=".7"/>
<circle cx="38.5" cy="67.9" r=".7"/>
<circle cx="48.5" cy="66.5" r=".7"/>
<circle cx="47.1" cy="67.4" r=".7"/>
<circle cx="61.1" cy="66.9" r=".7"/>
<circle cx="58.6" cy="66.9" r=".7"/>
<circle cx="89.6" cy="72.8" r=".7"/>
<circle cx="91.9" cy="73.7" r=".7"/>
<circle cx="104.8" cy="64.4" r=".7"/>
<circle cx="104.4" cy="66.2" r=".7"/>
<circle cx="109.9" cy="72.7" r=".7"/>
<circle cx="108.9" cy="73.2" r=".7"/>
<circle cx="128.1" cy="71.2" r=".7"/>
<circle cx="124.2" cy="74.2" r=".7"/>
<circle cx="139.3" cy="72.0" r=".7"/>
<circle cx="138.7" cy="73.4" r=".7"/>
<circle cx="150.2" cy="69.9" r=".7"/>
<circle cx="150.7" cy="66.8" r=".7"/>
<circle cx="163.2" cy="75.4" r=".7"/>
<circle cx="166.3" cy="74.7" r=".7"/>
<circle cx="171.1" cy="65.8" r=".7"/>
<circle cx="170.4" cy="65.1" r=".7"/>
<circle cx="188.5" cy="64.5" r=".7"/>
<circle cx="188.0" cy="65.6" r=".7"/>
<circle cx="196.2" cy="69.4" r=".7"/>
<circle cx="199.6" cy="69.6" r=".7"/>
<circle cx="-1.3" cy="80.9" r=".7"/>
<circle cx="-2.5" cy="79.4" r=".7"/>
<circle cx="9.2" cy="78.4" r=".7"/>
<circle cx="8.9" cy="79.5" r=".7"/>
<circle cx="19.7" cy="77.4" r=".7"/>
<circle cx="21.4" cy="79.5" r=".7"/>
<circle cx="26.9" cy="81.8" r=".7"/>
<circle cx="26.9" cy="81.8" r=".7"/>
<circle cx="39.7" cy="79.2" r=".7"/>
<circle cx="39.9" cy="80.0" r=".7"/>
<circle cx="53.8" cy="79.0" r=".7"/>
<circle cx="55.1" cy="80.4" r=".7"/>
<circle cx="68.0" cy="83.1" r=".7"/>
<circle cx="68.3" cy="82.2" r=".7"/>
<circle cx="78.6" cy="81.1" r=".7"/>
<circle cx="79.0" cy="82.0" r=".7"/>
<circle cx="97.8" cy="78.6" r=".7"/>
<circle cx="97.9" cy="78.9" r=".7"/>
<circle cx="104.2" cy="74.2" r=".7"/>
<circle cx="107.5" cy="76.9" r=".7"/>
<circle cx="121.5" cy="80.4" r=".7"/>
<circle cx="121.3" cy="79.3" r=".7"/>
<circle cx="130.6" cy="77.4" r=".7"/>
<circle cx="127.8" cy="79.5" r=".7"/>
<circle cx="158.5" cy="79.5" r=".7"/>
<circle cx="160.7" cy="79.3" r=".7"/>
<circle cx="181.7" cy="81.9" r=".7"/>
<circle cx="179.9" cy="84.1" r=".7"/>
<circle cx="197.4" cy="75.7" r=".7"/>
<circle cx="194.6" cy="73.7" r=".7"/>
<circle cx="-0.0" cy="89.3" r=".7"/>
<circle cx="1.0" cy="87.1" r=".7"/>
<circle cx="17.2" cy="87.5" r=".7"/>
<circle cx="15.6" cy="85.5" r=".7"/>
<circle cx="26.0" cy="91.7" r=".7"/>
<circle cx="24.5" cy="91.5" r=".7"/>
<circle cx="55.9" cy="87.0" r=".7"/>
<circle cx="55.3" cy="87.3" r=".7"/>
<circle cx="62.1" cy="89.3" r=".7"/>
<circle cx="59.7" cy="88.0" r=".7"/>
<circle cx="71.1" cy="84.6" r=".7"/>
<circle cx="72.2" cy="86.2" r=".7"/>
<circle cx="92.3" cy="94.7" r=".7"/>
<circle cx="93.1" cy="94.1" r=".7"/>
<circle cx="97.1" cy="91.5" r=".7"/>
<circle cx="99.0" cy="92.7" r=".7"/>
<circle cx="114.2" cy="86.1" r=".7"/>
<circle cx="113.2" cy="88.9" r=".7"/>
<circle cx="123.8" cy="86.6" r=".7"/>
<circle cx="123.4" cy="87.4" r=".7"/>
<circle cx="138.9" cy="86.9" r=".7"/>
<circle cx="134.0" cy="87.6" r=".7"/>
<circle cx="175.3" cy="87.2" r=".7"/>
<circle cx="171.9" cy="89.1" r=".7"/>
<circle cx="183.8" cy="95.7" r=".7"/>
<circle cx="186.6" cy="94.9" r=".7"/>
<circle cx="202.7" cy="91.5" r=".7"/>
<circle cx="201.5" cy="89.1" r=".7"/>
<circle cx="-2.8" cy="103.1" r=".7"/>
<circle cx="-5.3" cy="104.5" r=".7"/>
<circle cx="3.3" cy="107.3" r=".7"/>
<circle cx="5.0" cy="107.7" r=".7"/>
<circle cx="40.6" cy="103.0" r=".7"/>
<circle cx="43.5" cy="105.6" r=".7"/>
<circle cx="61.5" cy="102.6" r=".7"/>
<circle cx="60.8" cy="104.2" r=".7"/>
<circle cx="69.6" cy="101.0" r=".7"/>
<circle cx="72.0" cy="103.7" r=".7"/>
<circle cx="82.0" cy="97.6" r=".7"/>
<circle cx="83.5" cy="98.0" r=".7"/>
<circle cx="91.3" cy="99.9" r=".7"/>
<circle cx="89.5" cy="100.5" r=".7"/>
<circle cx="110.0" cy="95.9" r=".7"/>
<circle cx="107.4" cy="95.2" r=".7"/>
<circle cx="116.3" cy="102.9" r=".7"/>
<circle cx="116.5" cy="100.5" r=".7"/>
<circle cx="127.6" cy="99.4" r=".7"/>
<circle cx="131.0" cy="101.0" r=".7"/>
<circle cx="144.4" cy="98.1" r=".7"/>
<circle cx="144.5" cy="97.8" r=".7"/>
<circle cx="151.8" cy="104.4" r=".7"/>
<circle cx="154.7" cy="105.8" r=".7"/>
<circle cx="165.3" cy="101.0" r=".7"/>
<circle cx="164.5" cy="102.2" r=".7"/>
<circle cx="184.5" cy="98.8" r=".7"/>
<circle cx="183.4" cy="99.6" r=".7"/>
<circle cx="196.1" cy="100.3" r=".7"/>
<circle cx="196.5" cy="100.7" r=".7"/>
<circle cx="1.1" cy="114.9" r=".7"/>
<circle cx="3.8" cy="114.8" r=".7"/>
<circle cx="15.0" cy="118.0" r=".7"/>
<circle cx="18.6" cy="117.0" r=".7"/>
<circle cx="49.8" cy="117.9" r=".7"/>
<circle cx="50.2" cy="117.3" r=".7"/>
<circle cx="55.6" cy="109.2" r=".7"/>
<circle cx="55.6" cy="110.4" r=".7"/>
<circle cx="85.1" cy="113.5" r=".7"/>
<circle cx="85.5" cy="115.2" r=".7"/>
<circle cx="115.0" cy="113.1" r=".7"/>
<circle cx="117.0" cy="113.5" r=".7"/>
<circle cx="123.7" cy="107.3" r=".7"/>
<circle cx="124.9" cy="108.0" r=".7"/>
<circle cx="148.1" cy="110.4" r=".7"/>
<circle cx="149.0" cy="109.3" r=".7"/>
<circle cx="158.8" cy="116.1" r=".7"/>
<circle cx="157.3" cy="116.6" r=".7"/>
<circle cx="170.8" cy="108.7" r=".7"/>
<circle cx="173.3" cy="108.0" r=".7"/>
<circle cx="202.4" cy="112.9" r=".7"/>
<circle cx="202.4" cy="110.8" r=".7"/>
<circle cx="-5.1" cy="119.2" r=".7"/>
<circle cx="-3.4" cy="120.9" r=".7"/>
<circle cx="7.5" cy="124.1" r=".7"/>
<circle cx="9.7" cy="123.9" r=".7"/>
<circle cx="25.8" cy="124.0" r=".7"/>
<circle cx="22.9" cy="124.3" r=".7"/>
<circle cx="41.5" cy="119.0" r=".7"/>
<circle cx="41.6" cy="117.0" r=".7"/>
<circle cx="61.7" cy="118.8" r=".7"/>
<circle cx="61.8" cy="118.5" r=".7"/>
<circle cx="65.4" cy="120.7" r=".7"/>
<circle cx="66.6" cy="119.8" r=".7"/>
<circle cx="81.7" cy="124.9" r=".7"/>
<circle cx="80.4" cy="126.0" r=".7"/>
<circle cx="96.7" cy="120.7" r=".7"/>
<circle cx="99.7" cy="120.1" r=".7"/>
<circle cx="106.4" cy="118.4" r=".7"/>
<circle cx="104.3" cy="116.4" r=".7"/>
<circle cx="116.7" cy="126.0" r=".7"/>
<circle cx="117.3" cy="128.3" r=".7"/>
<circle cx="124.2" cy="124.4" r=".7"/>
<circle cx="128.1" cy="125.5" r=".7"/>
<circle cx="146.4" cy="120.0" r=".7"/>
<circle cx="146.6" cy="120.1" r=".7"/>
<circle cx="159.3" cy="119.2" r=".7"/>
<circle cx="161.4" cy="117.3" r=".7"/>
<circle cx="171.4" cy="125.0" r=".7"/>
<circle cx="173.3" cy="126.8" r=".7"/>
<circle cx="185.7" cy="120.9" r=".7"/>
<circle cx="185.4" cy="122.0" r=".7"/>
<circle cx="190.7" cy="120.9" r=".7"/>
<circle cx="191.2" cy="123.5" r=".7"/>
<circle cx="0.0" cy="133.9" r=".7"/>
<circle cx="-0.7" cy="135.5" r=".7"/>
<circle cx="9.0" cy="136.2" r=".7"/>
<circle cx="11.0" cy="134.1" r=".7"/>
<circle cx="26.4" cy="130.5" r=".7"/>
<circle cx="22.8" cy="131.3" r=".7"/>
<circle cx="32.7" cy="129.9" r=".7"/>
<circle cx="35.5" cy="131.4" r=".7"/>
<circle cx="60.5" cy="133.0" r=".7"/>
<circle cx="57.0" cy="132.5" r=".7"/>
<circle cx="80.8" cy="134.9" r=".7"/>
<circle cx="77.4" cy="137.0" r=".7"/>
<circle cx="102.9" cy="135.9" r=".7"/>
<circle cx="103.9" cy="134.6" r=".7"/>
<circle cx="111.4" cy="136.3" r=".7"/>
<circle cx="112.9" cy="132.4" r=".7"/>
<circle cx="125.7" cy="137.7" r=".7"/>
<circle cx="121.9" cy="136.7" r=".7"/>
<circle cx="137.6" cy="135.5" r=".7"/>
<circle cx="138.4" cy="132.9" r=".7"/>
<circle cx="147.8" cy="134.6" r=".7"/>
<circle cx="149.3" cy="135.0" r=".7"/>
<circle cx="159.1" cy="133.8" r=".7"/>
<circle cx="161.8" cy="133.3" r=".7"/>
<circle cx="176.0" cy="135.1" r=".7"/>
<circle cx="177.0" cy="137.4" r=".7"/>
<circle cx="186.2" cy="131.3" r=".7"/>
<circle cx="185.9" cy="129.8" r=".7"/>
<circle cx="203.0" cy="134.6" r=".7"/>
<circle cx="199.2" cy="133.1" r=".7"/>
</g>
<circle cx="130.5" cy="39" r="3.5999999999999996" fill="none" stroke="#4a5160" stroke-width="1.4" stroke-opacity="0.85"/>
<circle cx="130.5" cy="39" r="2.3" fill="#eeeed2"/>
<circle cx="61.3" cy="69.7" r="2.3" fill="#dcdca8" stroke="#7d8466" stroke-width="0.8" stroke-opacity="0.7"/>
<circle cx="60" cy="76.7" r="2.2" fill="#dcdca8" stroke="#7d8466" stroke-width="0.8" stroke-opacity="0.7"/>
<circle cx="139.4" cy="51.6" r="2.3" fill="#dcdca8" stroke="#7d8466" stroke-width="0.8" stroke-opacity="0.7"/>
</g>
</svg>
<svg x="480" y="529" width="192" height="129" viewBox="0 0 192 129"><rect width="192" height="129" fill="#bcc7c3"/>
<g filter="url(#soft)">
<g fill="#adb29c" fill-opacity="0.32" stroke="#e8eeec" stroke-opacity="0.9" stroke-width="1.7" stroke-linejoin="round">
<polygon id="c368" points="-0.4,3.3 -8.9,1.1 -14.1,0.0 -16.0,-5.0 -18.4,-12.6 -10.7,-12.8 -5.2,-10.0 -3.9,-4.9"/>
<polygon id="c369" points="-6.0,-4.6 -5.2,-11.0 1.4,-16.0 9.0,-19.7 13.5,-16.4 14.0,-10.9 7.9,-5.3 0.6,-3.4"/>
<polygon id="c370" points="13.3,-3.2 13.4,-7.2 16.7,-11.6 21.5,-12.6 25.7,-12.3 25.3,-8.3 21.8,-4.7 17.4,-2.9"/>
<polygon id="c371" points="41.6,-7.0 38.3,-4.4 33.2,-5.0 29.0,-8.2 29.3,-12.4 31.8,-16.0 38.0,-16.0 41.6,-11.3"/>
<polygon id="c372" points="61.0,3.8 55.9,2.7 53.9,-2.2 53.0,-7.4 57.3,-9.7 62.0,-9.7 63.9,-5.0 65.2,0.4"/>
<polygon id="c373" points="74.0,9.8 72.9,-0.2 73.2,-6.0 75.8,-12.0 81.4,-15.4 83.0,-8.4 84.1,-2.8 80.5,2.6"/>
<polygon id="c374" points="96.2,-12.1 95.0,-8.8 91.4,-7.6 87.5,-8.5 86.9,-12.2 87.7,-15.7 91.5,-17.0 95.8,-16.1"/>
<polygon id="c375" points="100.2,0.2 95.9,-2.8 92.6,-8.3 93.2,-16.3 98.6,-19.4 103.4,-15.5 106.8,-9.4 105.6,-1.5"/>
<polygon id="c376" points="122.7,-1.3 117.4,-1.6 113.2,-1.9 110.8,-5.8 109.1,-11.3 115.1,-10.6 119.1,-9.8 121.7,-6.2"/>
<polygon id="c377" points="137.4,-7.0 134.7,-4.9 129.7,-5.4 126.1,-8.4 125.1,-11.6 127.4,-13.9 132.6,-13.4 138.0,-10.6"/>
<polygon id="c378" points="156.4,-5.9 152.5,-6.9 149.4,-10.2 147.6,-14.6 148.2,-19.0 152.4,-17.3 156.2,-14.4 157.6,-9.5"/>
<polygon id="c379" points="148.6,-1.4 152.0,-6.5 158.0,-9.8 165.2,-9.5 169.6,-5.8 167.7,-0.3 160.3,1.6 154.3,1.3"/>
<polygon id="c380" points="181.5,4.8 176.3,4.1 172.0,-1.0 168.5,-6.6 163.7,-19.3 174.4,-11.3 179.2,-6.3 182.1,-0.5"/>
<polygon id="c381" points="196.6,1.0 191.9,1.4 187.0,-0.7 186.4,-6.0 189.6,-9.2 193.5,-10.0 197.5,-7.8 198.7,-3.2"/>
<polygon id="c382" points="199.2,-9.6 202.2,-13.9 207.8,-16.3 214.9,-15.3 216.8,-10.0 213.5,-5.8 208.0,-3.6 201.9,-5.1"/>
<polygon id="c383" points="15.8,10.4 22.5,2.3 25.8,-2.7 31.4,-2.2 40.3,-3.6 36.5,3.6 31.4,7.1 26.6,8.0"/>
<polygon id="c384" points="46.8,14.4 43.4,16.4 37.9,14.1 35.6,8.7 36.7,4.8 40.8,4.1 46.1,5.6 48.6,11.0"/>
<polygon id="c385" points="68.0,17.8 67.3,12.2 70.3,6.3 75.7,0.8 81.3,1.9 81.4,7.8 79.9,14.2 73.6,18.6"/>
<polygon id="c386" points="84.1,16.4 79.9,15.1 79.1,8.1 79.9,1.1 84.1,0.1 88.0,1.7 90.0,8.1 88.0,14.5"/>
<polygon id="c387" points="90.0,5.6 89.7,1.2 93.2,-3.9 99.3,-7.0 102.3,-4.3 103.0,-0.5 99.5,3.9 94.3,6.6"/>
<polygon id="c388" points="115.5,14.6 111.4,16.7 106.2,15.0 103.3,10.5 103.3,5.5 108.1,3.6 113.3,5.5 116.1,10.0"/>
<polygon id="c389" points="123.2,9.1 120.7,4.5 122.6,-3.1 128.0,-7.0 132.1,-7.2 135.4,-4.3 133.3,2.7 128.5,8.0"/>
<polygon id="c390" points="152.2,10.1 144.3,8.4 139.8,4.9 136.5,0.5 135.4,-6.1 142.3,-4.0 147.3,-2.9 150.4,2.3"/>
<polygon id="c391" points="153.1,18.3 148.6,12.7 146.1,9.5 147.5,5.7 149.8,0.5 153.5,4.9 156.8,7.5 154.7,11.1"/>
<polygon id="c392" points="173.6,13.1 166.1,13.2 160.9,13.9 158.4,9.4 152.1,3.1 160.3,2.3 165.5,4.2 170.2,7.0"/>
<polygon id="c393" points="175.5,12.9 173.8,7.6 178.3,1.5 184.6,-1.0 188.6,1.3 191.6,5.4 186.7,11.0 180.7,14.1"/>
<polygon id="c394" points="191.9,14.9 187.8,11.6 186.7,4.4 190.1,-2.4 195.5,-4.6 200.2,-1.0 200.1,6.9 197.0,13.3"/>
<polygon id="c395" points="6.6,16.5 -3.6,19.5 -11.1,19.0 -18.3,17.4 -26.4,12.0 -15.6,10.2 -9.8,8.9 -2.6,10.9"/>
<polygon id="c396" points="10.8,24.4 7.6,22.6 5.0,18.6 6.5,14.3 8.4,10.4 11.4,13.6 14.4,17.0 13.4,21.9"/>
<polygon id="c397" points="16.2,25.1 15.6,21.3 17.2,17.6 21.5,15.5 25.7,18.1 26.0,22.7 23.1,25.7 19.3,28.2"/>
<polygon id="c398" points="26.6,23.5 24.2,19.1 27.8,14.6 33.2,12.0 38.8,14.2 39.4,20.3 35.8,25.1 30.2,27.1"/>
<polygon id="c399" points="77.9,14.4 70.0,16.8 64.6,17.0 59.4,15.0 55.4,10.4 61.3,8.0 66.2,8.3 70.0,10.2"/>
<polygon id="c400" points="82.8,19.5 78.6,22.4 72.6,23.5 67.6,19.8 66.0,15.3 69.1,11.7 75.7,10.9 80.3,15.0"/>
<polygon id="c401" points="85.9,19.5 83.9,15.4 85.3,10.0 90.4,6.2 95.5,7.9 96.1,13.0 95.8,18.6 90.4,21.5"/>
<polygon id="c402" points="110.7,17.2 106.6,19.3 101.2,20.5 98.5,15.6 97.8,11.2 101.1,7.8 106.8,8.3 111.6,12.2"/>
<polygon id="c403" points="116.4,27.7 112.4,23.9 109.5,18.5 111.2,12.6 114.4,8.2 118.8,10.9 121.4,17.2 120.4,24.2"/>
<polygon id="c404" points="132.6,27.5 128.5,25.6 128.7,20.7 131.6,17.5 135.5,16.9 139.2,18.9 139.4,23.5 136.4,26.5"/>
<polygon id="c405" points="151.9,24.0 148.8,27.1 143.4,28.5 137.9,25.5 138.3,20.9 139.4,16.1 145.9,17.5 150.6,19.8"/>
<polygon id="c406" points="145.7,24.2 153.0,18.1 157.2,13.9 164.0,14.0 172.3,16.6 166.9,23.4 160.8,26.4 155.1,25.6"/>
<polygon id="c407" points="178.7,31.8 177.4,21.5 178.9,12.4 184.9,8.0 193.1,-1.2 192.1,11.0 192.6,18.4 187.0,24.2"/>
<polygon id="c408" points="9.1,34.2 2.6,34.8 -2.4,35.2 -6.6,31.9 -11.6,27.1 -4.3,26.8 0.7,26.4 6.2,29.4"/>
<polygon id="c409" points="24.0,34.7 15.4,33.0 11.3,32.0 6.9,28.8 3.3,21.8 11.4,22.4 16.5,23.7 19.3,27.8"/>
<polygon id="c410" points="35.6,33.5 30.1,36.0 24.1,34.2 22.8,28.6 22.6,23.2 27.9,22.1 33.7,22.1 35.7,27.7"/>
<polygon id="c411" points="44.1,43.0 39.2,36.1 35.6,30.4 36.0,22.2 39.6,15.1 44.6,22.4 48.2,28.3 46.5,34.9"/>
<polygon id="c412" points="70.2,31.5 65.8,32.5 60.5,30.3 58.8,24.4 61.4,19.9 66.4,18.8 70.5,22.7 72.7,27.7"/>
<polygon id="c413" points="97.1,27.9 96.9,23.9 98.4,20.4 102.0,19.0 104.8,20.6 106.3,23.5 104.8,27.1 101.0,28.4"/>
<polygon id="c414" points="121.9,35.5 116.6,37.1 110.4,33.1 105.9,26.6 107.9,20.9 113.8,20.5 119.8,24.1 124.2,30.3"/>
<polygon id="c415" points="136.7,40.9 129.3,37.0 125.8,32.8 124.3,28.2 122.4,18.8 130.3,22.9 134.9,26.9 135.5,32.4"/>
<polygon id="c416" points="139.6,41.2 134.6,39.5 132.7,34.5 135.0,30.3 138.7,27.1 143.7,28.8 144.2,33.8 143.5,38.1"/>
<polygon id="c417" points="152.2,41.2 150.2,30.6 149.2,26.0 150.5,20.2 157.0,12.6 159.5,22.8 160.4,27.9 158.4,33.4"/>
<polygon id="c418" points="163.7,30.6 163.6,27.1 167.1,24.0 171.5,24.2 173.5,26.7 173.0,29.7 170.6,32.8 166.5,32.6"/>
<polygon id="c419" points="178.0,34.5 177.5,27.3 178.5,22.5 181.2,18.6 186.7,13.1 186.9,20.9 187.5,26.1 183.6,30.3"/>
<polygon id="c420" points="196.9,34.8 196.8,30.4 197.5,26.2 201.3,23.0 205.4,22.7 205.7,27.0 205.1,31.6 201.0,33.3"/>
<polygon id="c421" points="-3.4,44.3 -6.8,43.9 -9.5,41.1 -10.7,37.0 -9.2,33.0 -5.0,33.4 -2.5,37.4 -1.0,41.6"/>
<polygon id="c422" points="2.0,44.6 -1.9,42.8 -1.9,38.2 0.4,35.0 4.0,34.4 7.4,36.0 8.4,40.3 5.8,43.7"/>
<polygon id="c423" points="11.9,48.5 11.1,41.2 13.4,33.4 20.4,29.0 32.6,21.9 27.9,35.8 25.1,42.6 19.3,46.4"/>
<polygon id="c424" points="49.7,48.7 46.8,47.9 44.9,44.7 46.2,41.4 48.7,39.2 51.4,41.2 53.3,43.9 52.7,47.6"/>
<polygon id="c425" points="69.4,56.3 63.5,49.0 60.8,42.2 61.4,35.1 65.1,28.6 70.3,34.2 72.9,40.4 72.5,47.3"/>
<polygon id="c426" points="78.7,51.6 74.6,47.2 76.2,38.9 78.0,30.5 83.0,31.2 87.0,33.5 87.2,41.2 84.4,49.5"/>
<polygon id="c427" points="90.4,46.3 85.8,41.4 82.8,37.3 82.3,31.1 84.9,22.8 90.4,30.5 92.5,35.0 93.1,40.4"/>
<polygon id="c428" points="115.6,48.3 103.9,43.5 97.9,41.4 93.4,35.8 89.4,27.3 98.6,29.7 104.5,33.2 108.1,38.0"/>
<polygon id="c429" points="102.3,49.4 107.3,42.2 111.6,38.5 116.4,40.2 122.0,41.8 119.0,46.8 116.5,51.3 111.6,49.8"/>
<polygon id="c430" points="138.2,55.1 132.9,55.1 128.6,48.5 127.6,40.7 131.6,36.9 137.4,36.0 142.7,43.3 142.7,51.9"/>
<polygon id="c431" points="156.8,49.7 150.7,50.6 145.4,50.8 142.0,47.2 135.0,42.0 143.7,42.4 148.6,41.6 153.5,45.0"/>
<polygon id="c432" points="153.0,58.7 152.1,50.4 154.3,43.0 158.5,36.6 165.0,33.1 166.2,40.4 164.7,47.8 160.0,54.5"/>
<polygon id="c433" points="187.2,43.6 190.7,38.8 198.6,37.1 207.0,37.1 207.9,41.7 205.9,45.6 199.6,48.3 193.2,46.6"/>
<polygon id="c434" points="1.6,65.1 -2.9,58.4 -5.5,54.0 -3.1,49.5 0.8,42.8 4.7,49.6 6.3,53.5 5.8,58.3"/>
<polygon id="c435" points="49.2,57.1 50.0,53.9 53.1,53.3 56.2,53.7 57.0,56.8 56.6,60.1 53.3,60.7 50.1,60.2"/>
<polygon id="c436" points="57.2,66.1 59.8,56.2 64.3,49.9 69.7,44.2 78.3,40.7 76.7,49.7 73.0,57.1 66.8,60.0"/>
<polygon id="c437" points="72.3,57.6 71.6,52.0 74.8,45.0 82.2,41.6 88.8,42.5 90.3,48.9 84.6,55.6 78.0,58.7"/>
<polygon id="c438" points="89.3,59.3 87.7,55.6 89.9,50.7 94.5,47.3 98.7,48.6 100.4,52.6 97.2,57.1 93.2,60.9"/>
<polygon id="c439" points="121.8,59.2 120.7,52.5 121.7,47.1 126.2,44.5 133.2,41.3 132.9,49.1 132.3,53.9 128.4,57.4"/>
<polygon id="c440" points="155.6,65.2 145.4,64.4 139.2,62.0 134.8,58.0 130.8,51.5 137.7,50.1 145.0,51.6 150.1,57.0"/>
<polygon id="c441" points="172.6,54.8 168.3,57.7 162.1,55.2 157.8,51.2 156.6,45.9 162.1,45.1 167.6,45.2 170.8,49.8"/>
<polygon id="c442" points="196.1,71.7 189.3,65.0 185.0,60.4 184.0,53.4 186.4,46.6 192.7,50.4 196.1,56.1 197.7,62.8"/>
<polygon id="c443" points="-18.8,61.1 -14.9,56.6 -8.9,53.8 -3.0,55.9 0.8,59.5 -1.9,64.0 -7.8,68.0 -14.1,64.9"/>
<polygon id="c444" points="5.1,68.5 1.3,64.9 -1.4,59.8 0.8,53.8 5.4,51.6 9.7,54.3 12.3,60.0 9.6,65.9"/>
<polygon id="c445" points="66.5,73.8 57.5,75.7 50.6,75.6 44.9,72.2 36.7,66.1 46.7,64.6 53.3,65.4 59.4,67.9"/>
<polygon id="c446" points="62.1,78.9 57.2,76.4 54.4,68.2 58.5,61.5 62.9,57.6 67.6,61.0 70.0,68.8 66.6,75.7"/>
<polygon id="c447" points="74.9,65.1 74.0,62.0 75.6,57.5 80.1,55.6 83.7,56.2 85.3,59.6 82.0,63.9 77.9,66.8"/>
<polygon id="c448" points="97.8,75.7 92.1,73.5 89.3,71.3 86.5,68.0 87.0,62.9 92.1,63.8 95.0,66.5 96.3,69.6"/>
<polygon id="c449" points="118.2,74.9 111.3,72.2 107.4,69.8 103.5,65.8 102.4,60.0 108.8,62.4 113.4,63.4 115.7,68.2"/>
<polygon id="c450" points="121.0,67.7 123.2,62.2 126.1,58.7 130.4,56.5 137.3,55.4 134.8,61.7 131.6,66.0 126.7,67.7"/>
<polygon id="c451" points="154.7,81.9 148.8,75.2 145.1,72.4 145.5,67.9 145.0,61.2 149.8,65.6 153.3,68.5 153.1,72.9"/>
<polygon id="c452" points="165.3,68.7 161.6,71.4 155.7,68.4 149.8,63.8 150.9,58.6 155.7,56.7 162.8,58.2 166.0,64.3"/>
<polygon id="c453" points="195.9,74.6 189.5,70.8 185.1,65.8 186.1,59.7 187.3,49.8 194.6,56.1 198.3,61.3 199.0,68.0"/>
<polygon id="c454" points="206.6,76.5 202.0,75.5 200.4,70.2 202.6,65.2 207.1,64.5 211.1,66.0 213.2,70.7 210.5,74.9"/>
<polygon id="c455" points="-10.7,79.4 -6.7,72.3 -1.5,68.7 4.7,66.9 12.5,68.4 7.9,75.2 3.4,79.0 -1.9,79.1"/>
<polygon id="c456" points="15.6,85.8 12.3,83.0 13.4,78.3 16.9,75.4 21.6,74.5 24.0,78.7 23.9,83.8 19.8,87.0"/>
<polygon id="c457" points="42.6,81.0 39.6,76.9 37.9,71.0 41.8,65.6 46.6,65.6 50.2,68.5 50.3,74.3 47.4,79.2"/>
<polygon id="c458" points="63.1,80.3 59.7,80.9 55.4,79.2 53.8,74.3 56.5,71.5 59.9,70.4 63.1,73.4 65.9,77.6"/>
<polygon id="c459" points="81.2,75.8 78.1,78.0 72.0,76.4 66.6,72.3 67.1,68.4 70.1,65.8 76.7,67.5 81.5,71.9"/>
<polygon id="c460" points="66.9,81.4 70.4,74.3 76.8,71.1 83.3,69.8 96.3,70.0 87.9,79.2 81.1,82.2 74.8,83.4"/>
<polygon id="c461" points="109.3,77.4 109.2,73.6 112.1,70.9 116.1,70.2 119.2,72.4 118.7,76.2 116.8,80.2 112.1,79.9"/>
<polygon id="c462" points="115.5,80.5 116.4,74.6 120.4,70.8 124.8,69.2 131.7,68.2 129.3,74.6 126.8,79.3 121.6,80.4"/>
<polygon id="c463" points="135.1,80.5 135.3,75.0 139.7,68.4 147.3,66.9 152.4,68.5 153.2,73.7 147.5,79.7 139.6,83.6"/>
<polygon id="c464" points="147.6,87.2 145.6,83.8 148.5,78.3 152.8,73.8 157.1,74.1 157.2,78.7 156.2,83.9 151.5,86.4"/>
<polygon id="c465" points="161.9,82.1 163.3,76.2 164.3,72.0 168.5,70.2 176.3,66.7 172.7,74.9 171.3,78.6 167.6,81.7"/>
<polygon id="c466" points="173.7,81.7 177.8,77.8 183.5,75.1 190.9,75.7 191.9,79.9 191.0,83.9 184.6,85.6 178.2,85.1"/>
<polygon id="c467" points="205.1,82.3 201.0,83.4 195.9,80.2 194.7,75.0 194.2,69.5 199.5,69.3 204.1,73.3 208.0,78.7"/>
<polygon id="c468" points="-2.6,100.9 -7.6,96.0 -10.8,91.3 -9.2,85.7 -5.9,76.5 -0.6,85.0 2.5,89.5 0.4,94.3"/>
<polygon id="c469" points="17.8,98.3 12.2,98.0 6.7,94.6 5.7,88.5 6.7,82.9 12.4,82.3 17.6,86.8 18.1,92.5"/>
<polygon id="c470" points="18.4,94.3 16.2,89.4 22.6,85.0 29.0,82.7 32.9,85.7 32.4,90.5 28.8,95.6 22.2,97.1"/>
<polygon id="c471" points="33.7,99.1 29.1,98.8 25.7,95.6 24.0,90.5 27.6,87.3 32.0,87.7 36.1,90.2 36.6,95.4"/>
<polygon id="c472" points="51.7,91.9 47.5,91.2 46.7,87.1 47.3,83.1 50.9,80.9 54.9,82.5 55.7,86.4 55.8,90.8"/>
<polygon id="c473" points="64.0,86.5 61.6,88.9 56.8,89.2 54.7,85.0 53.6,81.0 57.0,78.8 61.6,80.0 65.2,83.0"/>
<polygon id="c474" points="78.6,101.9 71.7,99.6 67.2,96.7 66.3,91.2 67.6,83.7 74.4,87.8 78.3,89.9 79.7,94.7"/>
<polygon id="c475" points="77.8,94.1 84.0,86.4 87.1,81.1 94.1,78.9 104.9,77.1 97.7,86.1 92.9,90.3 87.1,92.7"/>
<polygon id="c476" points="122.9,88.7 113.1,91.6 105.3,91.6 99.8,87.6 92.9,81.7 102.0,79.9 108.1,79.5 115.7,81.6"/>
<polygon id="c477" points="109.5,99.5 112.7,93.3 116.3,89.2 121.4,87.6 132.9,83.7 125.1,92.9 121.9,97.5 116.7,98.2"/>
<polygon id="c478" points="142.8,91.3 138.0,91.0 133.1,87.6 130.1,81.4 131.3,75.8 137.0,75.7 142.5,80.6 144.6,86.9"/>
<polygon id="c479" points="161.4,88.5 153.3,91.0 147.9,93.5 142.9,89.8 136.1,84.1 143.9,80.4 150.4,79.5 156.0,82.7"/>
<polygon id="c480" points="153.2,87.5 156.0,83.5 161.1,81.6 167.1,81.9 168.3,86.1 167.7,90.3 162.1,92.5 157.1,90.6"/>
<polygon id="c481" points="175.8,96.9 172.3,98.2 167.9,98.0 164.8,93.9 167.2,90.3 170.1,86.9 174.1,89.9 176.5,93.2"/>
<polygon id="c482" points="184.7,95.0 181.3,92.8 179.0,88.7 181.0,83.9 185.2,82.0 189.7,83.8 190.1,89.1 188.7,93.8"/>
<polygon id="c483" points="205.4,95.5 200.9,94.7 198.0,89.5 199.6,84.5 202.7,82.1 206.7,82.7 209.9,87.2 208.0,91.9"/>
<polygon id="c484" points="24.7,107.7 21.4,111.1 15.7,112.0 11.0,108.0 10.8,102.6 14.3,98.5 20.2,99.7 25.4,102.6"/>
<polygon id="c485" points="14.1,105.9 23.7,99.3 30.6,97.5 36.8,97.2 45.6,99.1 39.0,104.8 32.9,108.2 26.5,107.0"/>
<polygon id="c486" points="44.2,103.9 40.2,101.7 39.9,95.9 40.3,89.9 44.6,89.6 47.7,91.6 50.0,96.2 47.4,100.6"/>
<polygon id="c487" points="46.6,110.7 51.0,101.1 54.4,95.1 60.9,92.1 69.0,90.8 67.3,98.7 63.0,104.8 56.7,107.5"/>
<polygon id="c488" points="91.6,106.8 81.2,110.0 72.7,110.0 65.2,106.7 52.7,99.3 68.5,98.4 75.1,97.6 81.6,100.6"/>
<polygon id="c489" points="94.7,102.9 87.9,102.7 83.5,102.8 79.0,99.7 77.8,95.6 81.9,94.1 86.8,95.3 91.3,97.9"/>
<polygon id="c490" points="102.7,103.0 99.0,104.5 93.7,102.4 91.1,98.7 90.2,95.3 93.6,94.3 98.3,95.1 100.7,99.0"/>
<polygon id="c491" points="99.0,107.7 98.5,102.2 105.9,98.3 112.4,97.4 117.1,99.5 118.3,104.8 110.9,109.2 103.8,110.2"/>
<polygon id="c492" points="113.7,115.5 116.8,106.3 118.2,101.0 123.0,98.0 127.7,97.5 128.5,102.1 126.1,107.2 121.9,109.4"/>
<polygon id="c493" points="140.4,102.7 139.3,99.1 140.5,94.8 144.1,91.7 148.7,90.4 149.6,94.9 148.0,99.8 144.1,103.3"/>
<polygon id="c494" points="148.8,99.7 153.1,94.5 157.1,92.2 161.2,92.9 168.0,94.2 164.0,99.4 159.9,102.1 155.5,101.3"/>
<polygon id="c495" points="165.2,105.6 163.8,100.9 169.1,94.5 177.0,92.4 182.6,94.3 183.1,100.1 176.2,105.5 168.9,108.7"/>
<polygon id="c496" points="182.2,112.2 181.4,108.5 183.0,104.4 186.3,102.2 190.1,101.1 191.4,104.6 189.9,109.2 186.1,111.5"/>
<polygon id="c497" points="194.9,107.6 190.2,104.1 189.3,100.3 188.8,96.5 191.3,89.8 195.9,95.6 197.6,98.6 197.9,102.5"/>
<polygon id="c498" points="-3.5,125.8 -8.1,122.7 -10.8,119.6 -12.3,115.1 -11.1,109.4 -6.3,113.4 -3.7,116.3 -1.8,121.0"/>
<polygon id="c499" points="-0.6,123.5 -4.6,120.5 -3.4,113.1 0.1,107.9 4.3,106.5 8.4,108.8 7.8,116.3 4.2,122.6"/>
<polygon id="c500" points="17.4,126.2 16.1,119.6 15.9,111.8 22.1,105.4 28.5,103.7 30.5,110.2 27.8,117.7 23.5,123.8"/>
<polygon id="c501" points="46.6,116.8 49.3,110.9 50.9,107.0 55.4,105.4 61.3,105.8 58.3,111.5 57.1,115.4 52.8,116.9"/>
<polygon id="c502" points="64.5,111.7 63.0,108.7 65.3,105.1 69.1,103.9 73.1,104.3 73.8,108.3 70.8,111.3 67.5,112.6"/>
<polygon id="c503" points="73.6,120.0 71.4,114.8 72.2,108.3 77.0,102.5 82.3,103.7 85.7,107.7 83.7,114.5 79.0,118.0"/>
<polygon id="c504" points="72.1,112.0 86.6,106.0 92.8,103.2 98.9,104.9 108.6,107.7 101.5,113.4 94.3,116.0 86.6,115.2"/>
<polygon id="c505" points="107.1,127.1 103.0,123.2 99.9,118.5 102.9,113.4 107.8,110.6 112.2,114.1 113.7,119.0 112.6,124.6"/>
<polygon id="c506" points="128.7,116.7 124.4,119.8 118.8,122.5 112.6,119.0 111.9,113.5 115.6,109.9 121.5,108.2 127.6,111.3"/>
<polygon id="c507" points="149.8,114.6 158.2,110.0 162.6,107.9 168.0,108.0 172.4,111.1 168.3,114.9 163.9,116.5 158.3,117.2"/>
<polygon id="c508" points="184.1,121.8 177.7,122.7 171.8,123.1 167.7,118.7 163.0,112.9 170.6,112.4 176.1,113.0 181.5,116.3"/>
<polygon id="c509" points="187.3,117.3 182.6,115.8 179.6,110.3 180.6,104.7 183.7,101.4 188.0,102.9 190.6,107.8 190.9,113.9"/>
<polygon id="c510" points="190.7,116.3 196.7,111.1 199.6,108.8 203.7,108.0 210.0,108.9 205.6,113.7 202.5,116.3 198.2,116.9"/>
<polygon id="c511" points="-25.2,130.9 -12.8,124.8 -5.7,121.3 1.0,124.0 13.9,126.3 1.9,131.6 -4.0,135.7 -12.0,134.1"/>
<polygon id="c512" points="-4.6,133.8 0.5,122.8 4.5,116.7 10.9,111.5 23.7,105.3 15.7,118.7 12.5,124.7 6.6,127.8"/>
<polygon id="c513" points="18.5,135.0 18.8,125.6 21.2,119.8 24.2,113.8 31.8,107.5 30.9,117.8 29.8,124.0 25.6,127.9"/>
<polygon id="c514" points="21.9,133.5 32.6,126.6 36.8,123.8 43.1,122.1 54.0,123.1 45.5,130.3 39.6,132.5 34.0,133.5"/>
<polygon id="c515" points="66.1,121.4 65.7,125.1 61.0,125.3 56.9,124.5 55.6,121.3 57.3,118.4 61.1,117.6 64.4,118.8"/>
<polygon id="c516" points="70.9,138.5 69.8,130.0 69.2,124.3 73.5,120.6 79.9,115.5 83.0,122.5 81.4,129.0 77.5,133.0"/>
<polygon id="c517" points="83.4,130.2 84.5,127.6 87.9,125.1 92.1,126.9 93.9,129.7 92.5,132.8 88.4,134.3 84.1,133.3"/>
<polygon id="c518" points="100.1,126.6 96.2,127.0 91.7,122.6 90.9,116.1 94.1,113.9 97.7,113.4 102.3,117.6 102.1,123.4"/>
<polygon id="c519" points="109.2,135.8 106.4,134.0 103.9,129.5 105.6,123.6 109.5,122.3 113.1,124.1 113.3,129.7 112.5,134.7"/>
<polygon id="c520" points="114.8,131.9 116.1,122.9 118.3,118.6 122.0,115.5 130.0,112.7 129.9,120.9 128.5,126.6 123.2,128.3"/>
<polygon id="c521" points="190.3,128.9 183.9,131.4 179.7,133.5 175.7,130.7 171.4,126.7 175.8,123.0 180.9,123.0 184.3,125.2"/>
<polygon id="c522" points="199.2,134.1 194.5,131.8 190.6,129.5 190.0,124.8 189.8,118.5 195.3,120.6 198.6,124.6 200.1,129.1"/>
<polygon id="c523" points="-12.3,151.6 -9.7,141.7 -7.8,137.3 -4.3,134.0 2.3,130.3 2.0,137.6 -0.5,142.3 -4.0,145.3"/>
<polygon id="c524" points="-5.1,147.0 -0.4,138.8 3.2,133.1 10.2,131.3 19.1,131.1 14.1,139.1 11.2,145.1 4.5,145.3"/>
<polygon id="c525" points="16.3,142.1 13.8,135.4 12.4,132.4 13.4,128.5 17.6,123.0 20.9,129.0 21.9,133.0 20.4,136.8"/>
<polygon id="c526" points="35.9,142.6 35.2,138.5 37.0,134.7 40.7,132.2 44.6,133.2 45.0,137.2 44.4,141.5 40.0,144.1"/>
<polygon id="c527" points="37.3,157.0 39.6,140.4 38.4,133.3 43.6,127.2 51.2,119.5 51.7,130.5 52.0,138.3 46.9,145.0"/>
<polygon id="c528" points="75.0,140.0 68.0,141.7 59.5,140.7 53.0,134.6 51.7,128.6 57.5,126.3 65.7,128.2 73.2,133.4"/>
<polygon id="c529" points="92.1,142.9 82.4,144.2 77.9,145.0 72.6,143.5 64.6,139.2 74.2,137.7 79.0,136.8 83.5,138.9"/>
<polygon id="c530" points="90.7,150.8 86.9,145.9 84.8,143.1 86.0,139.9 88.4,135.6 92.0,138.8 93.9,141.8 93.2,145.3"/>
<polygon id="c531" points="98.1,137.1 95.6,134.9 98.1,130.9 101.4,127.8 104.4,129.4 105.6,132.3 104.0,135.8 100.8,138.2"/>
<polygon id="c532" points="100.3,133.2 107.9,128.5 113.5,127.6 119.4,128.2 122.1,133.1 118.0,136.9 113.5,139.0 108.0,137.8"/>
<polygon id="c533" points="128.3,146.2 128.0,138.5 128.8,133.8 132.6,130.9 138.5,129.3 139.3,135.5 138.1,139.5 135.3,143.2"/>
<polygon id="c534" points="148.3,154.4 145.5,146.6 145.1,139.6 148.6,134.3 154.9,121.5 156.7,134.7 155.8,141.8 153.6,147.5"/>
<polygon id="c535" points="155.5,140.3 152.4,135.2 155.4,129.1 161.1,127.0 167.1,127.2 168.2,133.0 165.9,138.3 160.9,142.3"/>
<polygon id="c536" points="185.1,144.8 182.1,147.2 177.8,147.1 175.0,144.0 174.2,140.1 177.4,137.6 182.0,137.3 185.2,140.8"/>
<polygon id="c537" points="201.3,139.8 193.7,141.8 189.4,142.1 185.8,140.2 180.9,136.1 187.1,134.1 191.2,132.3 195.3,135.0"/>
<polygon id="c538" points="199.6,143.7 199.5,137.1 199.9,133.8 201.8,130.5 206.9,128.0 207.2,133.9 207.0,137.1 204.6,139.2"/>
</g><g fill="none" stroke="#5c634c" stroke-opacity="0.6" stroke-width="0.7" stroke-linejoin="round">
<use href="#c368"/>
<use href="#c369"/>
<use href="#c370"/>
<use href="#c371"/>
<use href="#c372"/>
<use href="#c373"/>
<use href="#c374"/>
<use href="#c375"/>
<use href="#c376"/>
<use href="#c377"/>
<use href="#c378"/>
<use href="#c379"/>
<use href="#c380"/>
<use href="#c381"/>
<use href="#c382"/>
<use href="#c383"/>
<use href="#c384"/>
<use href="#c385"/>
<use href="#c386"/>
<use href="#c387"/>
<use href="#c388"/>
<use href="#c389"/>
<use href="#c390"/>
<use href="#c391"/>
<use href="#c392"/>
<use href="#c393"/>
<use href="#c394"/>
<use href="#c395"/>
<use href="#c396"/>
<use href="#c397"/>
<use href="#c398"/>
<use href="#c399"/>
<use href="#c400"/>
<use href="#c401"/>
<use href="#c402"/>
<use href="#c403"/>
<use href="#c404"/>
<use href="#c405"/>
<use href="#c406"/>
<use href="#c407"/>
<use href="#c408"/>
<use href="#c409"/>
<use href="#c410"/>
<use href="#c411"/>
<use href="#c412"/>
<use href="#c413"/>
<use href="#c414"/>
<use href="#c415"/>
<use href="#c416"/>
<use href="#c417"/>
<use href="#c418"/>
<use href="#c419"/>
<use href="#c420"/>
<use href="#c421"/>
<use href="#c422"/>
<use href="#c423"/>
<use href="#c424"/>
<use href="#c425"/>
<use href="#c426"/>
<use href="#c427"/>
<use href="#c428"/>
<use href="#c429"/>
<use href="#c430"/>
<use href="#c431"/>
<use href="#c432"/>
<use href="#c433"/>
<use href="#c434"/>
<use href="#c435"/>
<use href="#c436"/>
<use href="#c437"/>
<use href="#c438"/>
<use href="#c439"/>
<use href="#c440"/>
<use href="#c441"/>
<use href="#c442"/>
<use href="#c443"/>
<use href="#c444"/>
<use href="#c445"/>
<use href="#c446"/>
<use href="#c447"/>
<use href="#c448"/>
<use href="#c449"/>
<use href="#c450"/>
<use href="#c451"/>
<use href="#c452"/>
<use href="#c453"/>
<use href="#c454"/>
<use href="#c455"/>
<use href="#c456"/>
<use href="#c457"/>
<use href="#c458"/>
<use href="#c459"/>
<use href="#c460"/>
<use href="#c461"/>
<use href="#c462"/>
<use href="#c463"/>
<use href="#c464"/>
<use href="#c465"/>
<use href="#c466"/>
<use href="#c467"/>
<use href="#c468"/>
<use href="#c469"/>
<use href="#c470"/>
<use href="#c471"/>
<use href="#c472"/>
<use href="#c473"/>
<use href="#c474"/>
<use href="#c475"/>
<use href="#c476"/>
<use href="#c477"/>
<use href="#c478"/>
<use href="#c479"/>
<use href="#c480"/>
<use href="#c481"/>
<use href="#c482"/>
<use href="#c483"/>
<use href="#c484"/>
<use href="#c485"/>
<use href="#c486"/>
<use href="#c487"/>
<use href="#c488"/>
<use href="#c489"/>
<use href="#c490"/>
<use href="#c491"/>
<use href="#c492"/>
<use href="#c493"/>
<use href="#c494"/>
<use href="#c495"/>
<use href="#c496"/>
<use href="#c497"/>
<use href="#c498"/>
<use href="#c499"/>
<use href="#c500"/>
<use href="#c501"/>
<use href="#c502"/>
<use href="#c503"/>
<use href="#c504"/>
<use href="#c505"/>
<use href="#c506"/>
<use href="#c507"/>
<use href="#c508"/>
<use href="#c509"/>
<use href="#c510"/>
<use href="#c511"/>
<use href="#c512"/>
<use href="#c513"/>
<use href="#c514"/>
<use href="#c515"/>
<use href="#c516"/>
<use href="#c517"/>
<use href="#c518"/>
<use href="#c519"/>
<use href="#c520"/>
<use href="#c521"/>
<use href="#c522"/>
<use href="#c523"/>
<use href="#c524"/>
<use href="#c525"/>
<use href="#c526"/>
<use href="#c527"/>
<use href="#c528"/>
<use href="#c529"/>
<use href="#c530"/>
<use href="#c531"/>
<use href="#c532"/>
<use href="#c533"/>
<use href="#c534"/>
<use href="#c535"/>
<use href="#c536"/>
<use href="#c537"/>
<use href="#c538"/>
</g><g fill="#8d946e" fill-opacity="0.35">
<ellipse cx="-9.7" cy="-4.9" rx="3.3" ry="2.8"/>
<ellipse cx="4.5" cy="-11.0" rx="3.2" ry="2.7"/>
<ellipse cx="19.5" cy="-7.8" rx="2.2" ry="1.8"/>
<ellipse cx="35.3" cy="-9.8" rx="2.9" ry="2.4"/>
<ellipse cx="59.0" cy="-3.6" rx="3.0" ry="2.5"/>
<ellipse cx="78.2" cy="-4.5" rx="2.9" ry="2.5"/>
<ellipse cx="91.5" cy="-12.2" rx="2.5" ry="2.1"/>
<ellipse cx="99.5" cy="-8.9" rx="3.5" ry="2.9"/>
<ellipse cx="116.3" cy="-6.0" rx="2.4" ry="2.0"/>
<ellipse cx="131.1" cy="-9.4" rx="2.2" ry="1.9"/>
<ellipse cx="152.5" cy="-12.1" rx="2.2" ry="1.8"/>
<ellipse cx="159.3" cy="-3.6" rx="3.1" ry="2.6"/>
<ellipse cx="175.4" cy="-3.5" rx="2.4" ry="2.1"/>
<ellipse cx="192.7" cy="-4.6" rx="3.1" ry="2.6"/>
<ellipse cx="207.9" cy="-9.8" rx="3.3" ry="2.8"/>
<ellipse cx="29.0" cy="2.9" rx="2.7" ry="2.3"/>
<ellipse cx="42.0" cy="9.8" rx="2.7" ry="2.3"/>
<ellipse cx="74.6" cy="9.9" rx="3.2" ry="2.7"/>
<ellipse cx="84.1" cy="8.1" rx="2.6" ry="2.2"/>
<ellipse cx="96.6" cy="0.3" rx="2.6" ry="2.2"/>
<ellipse cx="109.8" cy="10.3" rx="3.4" ry="2.9"/>
<ellipse cx="128.2" cy="-0.0" rx="2.8" ry="2.4"/>
<ellipse cx="143.2" cy="1.4" rx="2.6" ry="2.2"/>
<ellipse cx="151.2" cy="8.5" rx="2.5" ry="2.1"/>
<ellipse cx="163.5" cy="8.4" rx="2.7" ry="2.2"/>
<ellipse cx="182.7" cy="6.5" rx="3.2" ry="2.7"/>
<ellipse cx="193.6" cy="5.7" rx="3.3" ry="2.7"/>
<ellipse cx="-10.5" cy="14.2" rx="2.7" ry="2.3"/>
<ellipse cx="9.6" cy="17.8" rx="2.1" ry="1.7"/>
<ellipse cx="20.4" cy="22.0" rx="2.8" ry="2.3"/>
<ellipse cx="31.7" cy="19.7" rx="3.4" ry="2.9"/>
<ellipse cx="65.5" cy="12.2" rx="2.3" ry="1.9"/>
<ellipse cx="74.1" cy="17.3" rx="3.1" ry="2.6"/>
<ellipse cx="90.4" cy="14.1" rx="3.2" ry="2.7"/>
<ellipse cx="104.1" cy="14.2" rx="3.0" ry="2.6"/>
<ellipse cx="115.4" cy="17.9" rx="2.7" ry="2.3"/>
<ellipse cx="134.1" cy="22.1" rx="2.9" ry="2.4"/>
<ellipse cx="144.8" cy="22.4" rx="3.0" ry="2.5"/>
<ellipse cx="159.1" cy="20.4" rx="3.1" ry="2.6"/>
<ellipse cx="185.9" cy="15.5" rx="3.2" ry="2.7"/>
<ellipse cx="-0.9" cy="30.8" rx="2.2" ry="1.8"/>
<ellipse cx="13.6" cy="28.2" rx="2.5" ry="2.1"/>
<ellipse cx="28.9" cy="28.2" rx="3.4" ry="2.9"/>
<ellipse cx="41.9" cy="29.3" rx="2.8" ry="2.4"/>
<ellipse cx="66.0" cy="26.1" rx="3.4" ry="2.9"/>
<ellipse cx="101.5" cy="23.7" rx="2.3" ry="1.9"/>
<ellipse cx="115.2" cy="28.5" rx="3.3" ry="2.8"/>
<ellipse cx="129.8" cy="30.3" rx="2.8" ry="2.3"/>
<ellipse cx="139.2" cy="34.1" rx="3.0" ry="2.5"/>
<ellipse cx="154.6" cy="26.9" rx="3.2" ry="2.7"/>
<ellipse cx="168.9" cy="28.5" rx="2.1" ry="1.8"/>
<ellipse cx="182.3" cy="24.0" rx="2.4" ry="2.0"/>
<ellipse cx="201.1" cy="28.8" rx="2.1" ry="1.8"/>
<ellipse cx="-6.0" cy="39.2" rx="2.3" ry="1.9"/>
<ellipse cx="3.0" cy="39.2" rx="2.5" ry="2.1"/>
<ellipse cx="19.8" cy="38.4" rx="3.5" ry="2.9"/>
<ellipse cx="49.3" cy="44.3" rx="2.1" ry="1.7"/>
<ellipse cx="67.1" cy="41.3" rx="3.0" ry="2.5"/>
<ellipse cx="81.2" cy="40.0" rx="3.1" ry="2.6"/>
<ellipse cx="88.0" cy="36.1" rx="2.7" ry="2.3"/>
<ellipse cx="101.4" cy="37.0" rx="2.8" ry="2.4"/>
<ellipse cx="114.1" cy="44.9" rx="3.0" ry="2.5"/>
<ellipse cx="135.0" cy="46.1" rx="3.5" ry="2.9"/>
<ellipse cx="147.0" cy="46.2" rx="2.1" ry="1.7"/>
<ellipse cx="159.3" cy="45.3" rx="3.0" ry="2.5"/>
<ellipse cx="199.1" cy="42.5" rx="2.9" ry="2.4"/>
<ellipse cx="1.2" cy="53.7" rx="3.1" ry="2.6"/>
<ellipse cx="53.2" cy="56.9" rx="2.2" ry="1.8"/>
<ellipse cx="68.1" cy="53.0" rx="2.8" ry="2.3"/>
<ellipse cx="80.0" cy="50.6" rx="3.4" ry="2.9"/>
<ellipse cx="93.8" cy="54.1" rx="2.5" ry="2.1"/>
<ellipse cx="127.2" cy="50.7" rx="3.1" ry="2.6"/>
<ellipse cx="141.7" cy="57.5" rx="3.0" ry="2.5"/>
<ellipse cx="164.8" cy="50.5" rx="2.9" ry="2.4"/>
<ellipse cx="190.9" cy="58.1" rx="2.9" ry="2.4"/>
<ellipse cx="-8.4" cy="60.2" rx="3.3" ry="2.8"/>
<ellipse cx="5.3" cy="59.9" rx="3.0" ry="2.6"/>
<ellipse cx="52.1" cy="70.1" rx="2.7" ry="2.3"/>
<ellipse cx="62.5" cy="68.5" rx="3.5" ry="2.9"/>
<ellipse cx="79.1" cy="60.9" rx="2.1" ry="1.8"/>
<ellipse cx="92.1" cy="68.9" rx="2.2" ry="1.8"/>
<ellipse cx="110.0" cy="67.1" rx="2.2" ry="1.8"/>
<ellipse cx="128.6" cy="62.0" rx="2.2" ry="1.8"/>
<ellipse cx="149.3" cy="70.4" rx="2.0" ry="1.7"/>
<ellipse cx="158.7" cy="64.1" rx="3.1" ry="2.6"/>
<ellipse cx="192.0" cy="63.5" rx="3.1" ry="2.6"/>
<ellipse cx="206.8" cy="70.4" rx="2.8" ry="2.4"/>
<ellipse cx="1.0" cy="73.8" rx="2.9" ry="2.4"/>
<ellipse cx="18.2" cy="80.8" rx="2.7" ry="2.3"/>
<ellipse cx="44.7" cy="72.8" rx="3.0" ry="2.5"/>
<ellipse cx="59.8" cy="75.9" rx="2.5" ry="2.1"/>
<ellipse cx="74.2" cy="72.1" rx="2.4" ry="2.0"/>
<ellipse cx="79.0" cy="76.7" rx="3.5" ry="2.9"/>
<ellipse cx="114.2" cy="74.9" rx="2.5" ry="2.1"/>
<ellipse cx="123.3" cy="74.6" rx="2.7" ry="2.3"/>
<ellipse cx="143.9" cy="74.4" rx="3.2" ry="2.7"/>
<ellipse cx="152.1" cy="80.9" rx="2.2" ry="1.9"/>
<ellipse cx="168.1" cy="75.5" rx="2.4" ry="2.0"/>
<ellipse cx="184.1" cy="80.7" rx="2.6" ry="2.2"/>
<ellipse cx="200.3" cy="76.6" rx="2.8" ry="2.3"/>
<ellipse cx="-4.0" cy="90.4" rx="3.0" ry="2.5"/>
<ellipse cx="12.3" cy="90.6" rx="3.0" ry="2.5"/>
<ellipse cx="25.6" cy="90.0" rx="3.2" ry="2.7"/>
<ellipse cx="30.6" cy="93.1" rx="2.9" ry="2.4"/>
<ellipse cx="51.3" cy="86.7" rx="2.5" ry="2.1"/>
<ellipse cx="59.5" cy="84.1" rx="2.4" ry="2.1"/>
<ellipse cx="73.2" cy="93.0" rx="3.0" ry="2.6"/>
<ellipse cx="90.3" cy="86.3" rx="2.6" ry="2.2"/>
<ellipse cx="106.8" cy="85.0" rx="3.1" ry="2.6"/>
<ellipse cx="119.0" cy="93.1" rx="2.3" ry="1.9"/>
<ellipse cx="137.6" cy="84.2" rx="2.9" ry="2.4"/>
<ellipse cx="149.2" cy="86.4" rx="3.2" ry="2.7"/>
<ellipse cx="161.5" cy="86.7" rx="2.7" ry="2.2"/>
<ellipse cx="171.4" cy="93.5" rx="2.7" ry="2.3"/>
<ellipse cx="184.9" cy="88.9" rx="2.7" ry="2.3"/>
<ellipse cx="204.0" cy="88.4" rx="2.7" ry="2.2"/>
<ellipse cx="18.1" cy="105.3" rx="3.2" ry="2.7"/>
<ellipse cx="31.6" cy="102.1" rx="2.7" ry="2.3"/>
<ellipse cx="44.4" cy="96.0" rx="2.7" ry="2.3"/>
<ellipse cx="58.7" cy="100.0" rx="3.4" ry="2.8"/>
<ellipse cx="74.0" cy="103.4" rx="3.3" ry="2.8"/>
<ellipse cx="85.2" cy="98.8" rx="2.1" ry="1.7"/>
<ellipse cx="96.0" cy="98.8" rx="2.0" ry="1.7"/>
<ellipse cx="108.3" cy="103.5" rx="3.3" ry="2.8"/>
<ellipse cx="122.4" cy="104.3" rx="2.3" ry="1.9"/>
<ellipse cx="144.1" cy="97.2" rx="2.4" ry="2.0"/>
<ellipse cx="158.5" cy="96.9" rx="2.3" ry="1.9"/>
<ellipse cx="173.0" cy="100.5" rx="3.3" ry="2.8"/>
<ellipse cx="186.2" cy="106.6" rx="2.0" ry="1.7"/>
<ellipse cx="193.3" cy="99.5" rx="2.4" ry="2.0"/>
<ellipse cx="-7.2" cy="117.9" rx="2.2" ry="1.8"/>
<ellipse cx="1.9" cy="114.6" rx="2.8" ry="2.4"/>
<ellipse cx="22.8" cy="115.2" rx="3.3" ry="2.8"/>
<ellipse cx="54.0" cy="111.2" rx="2.3" ry="2.0"/>
<ellipse cx="68.3" cy="108.5" rx="2.2" ry="1.9"/>
<ellipse cx="78.1" cy="111.5" rx="3.1" ry="2.6"/>
<ellipse cx="93.5" cy="109.4" rx="3.3" ry="2.7"/>
<ellipse cx="107.5" cy="118.8" rx="3.3" ry="2.8"/>
<ellipse cx="120.2" cy="115.1" rx="3.2" ry="2.7"/>
<ellipse cx="163.3" cy="112.5" rx="2.4" ry="2.0"/>
<ellipse cx="174.1" cy="117.6" rx="2.5" ry="2.1"/>
<ellipse cx="185.4" cy="109.0" rx="2.8" ry="2.3"/>
<ellipse cx="201.0" cy="112.4" rx="2.3" ry="2.0"/>
<ellipse cx="-4.8" cy="128.5" rx="3.3" ry="2.8"/>
<ellipse cx="8.5" cy="120.7" rx="3.0" ry="2.5"/>
<ellipse cx="25.0" cy="121.6" rx="2.5" ry="2.1"/>
<ellipse cx="38.2" cy="128.2" rx="2.7" ry="2.3"/>
<ellipse cx="61.0" cy="121.4" rx="2.2" ry="1.8"/>
<ellipse cx="75.5" cy="126.7" rx="3.5" ry="2.9"/>
<ellipse cx="88.2" cy="130.0" rx="2.1" ry="1.8"/>
<ellipse cx="97.0" cy="120.1" rx="2.5" ry="2.1"/>
<ellipse cx="109.3" cy="129.6" rx="2.4" ry="2.0"/>
<ellipse cx="122.6" cy="122.0" rx="3.3" ry="2.8"/>
<ellipse cx="180.4" cy="127.7" rx="2.5" ry="2.1"/>
<ellipse cx="194.8" cy="126.9" rx="2.3" ry="1.9"/>
<ellipse cx="-4.2" cy="139.8" rx="2.5" ry="2.1"/>
<ellipse cx="7.1" cy="139.0" rx="3.1" ry="2.6"/>
<ellipse cx="16.9" cy="132.7" rx="2.4" ry="2.0"/>
<ellipse cx="40.4" cy="137.8" rx="2.5" ry="2.1"/>
<ellipse cx="45.2" cy="135.8" rx="3.1" ry="2.6"/>
<ellipse cx="62.8" cy="134.0" rx="3.3" ry="2.8"/>
<ellipse cx="78.4" cy="141.1" rx="2.2" ry="1.8"/>
<ellipse cx="89.4" cy="142.4" rx="2.1" ry="1.7"/>
<ellipse cx="101.1" cy="133.4" rx="2.1" ry="1.7"/>
<ellipse cx="113.5" cy="133.1" rx="3.1" ry="2.6"/>
<ellipse cx="133.9" cy="136.9" rx="3.0" ry="2.5"/>
<ellipse cx="151.0" cy="140.8" rx="2.9" ry="2.5"/>
<ellipse cx="161.0" cy="134.0" rx="3.4" ry="2.9"/>
<ellipse cx="179.8" cy="142.5" rx="2.5" ry="2.1"/>
<ellipse cx="190.2" cy="137.8" rx="2.5" ry="2.1"/>
<ellipse cx="203.4" cy="135.5" rx="2.3" ry="1.9"/>
</g><g fill="#5e6650" fill-opacity="0.5">
<circle cx="-11.3" cy="-4.8" r=".7"/>
<circle cx="-7.7" cy="-2.9" r=".7"/>
<circle cx="1.5" cy="-11.9" r=".7"/>
<circle cx="3.6" cy="-10.5" r=".7"/>
<circle cx="21.0" cy="-7.5" r=".7"/>
<circle cx="19.7" cy="-8.4" r=".7"/>
<circle cx="36.8" cy="-11.8" r=".7"/>
<circle cx="36.1" cy="-9.1" r=".7"/>
<circle cx="56.4" cy="-5.7" r=".7"/>
<circle cx="57.1" cy="-1.9" r=".7"/>
<circle cx="78.6" cy="-6.3" r=".7"/>
<circle cx="80.6" cy="-5.7" r=".7"/>
<circle cx="89.2" cy="-10.8" r=".7"/>
<circle cx="93.9" cy="-13.2" r=".7"/>
<circle cx="101.4" cy="-7.0" r=".7"/>
<circle cx="102.8" cy="-6.5" r=".7"/>
<circle cx="114.2" cy="-6.7" r=".7"/>
<circle cx="115.0" cy="-7.4" r=".7"/>
<circle cx="133.3" cy="-9.0" r=".7"/>
<circle cx="130.0" cy="-10.4" r=".7"/>
<circle cx="150.8" cy="-11.1" r=".7"/>
<circle cx="153.7" cy="-13.1" r=".7"/>
<circle cx="157.7" cy="-4.4" r=".7"/>
<circle cx="157.3" cy="-2.9" r=".7"/>
<circle cx="175.2" cy="-3.2" r=".7"/>
<circle cx="177.6" cy="-4.5" r=".7"/>
<circle cx="190.8" cy="-4.8" r=".7"/>
<circle cx="193.8" cy="-5.3" r=".7"/>
<circle cx="208.5" cy="-10.5" r=".7"/>
<circle cx="207.8" cy="-12.2" r=".7"/>
<circle cx="29.2" cy="3.0" r=".7"/>
<circle cx="26.4" cy="3.7" r=".7"/>
<circle cx="44.6" cy="8.4" r=".7"/>
<circle cx="40.7" cy="10.3" r=".7"/>
<circle cx="77.6" cy="10.9" r=".7"/>
<circle cx="74.5" cy="9.2" r=".7"/>
<circle cx="84.3" cy="8.2" r=".7"/>
<circle cx="82.3" cy="9.6" r=".7"/>
<circle cx="98.3" cy="-0.7" r=".7"/>
<circle cx="97.8" cy="2.3" r=".7"/>
<circle cx="110.9" cy="10.6" r=".7"/>
<circle cx="111.3" cy="8.8" r=".7"/>
<circle cx="126.9" cy="-1.4" r=".7"/>
<circle cx="128.2" cy="0.8" r=".7"/>
<circle cx="144.1" cy="-0.2" r=".7"/>
<circle cx="143.4" cy="2.3" r=".7"/>
<circle cx="150.7" cy="8.7" r=".7"/>
<circle cx="153.6" cy="8.9" r=".7"/>
<circle cx="161.1" cy="6.5" r=".7"/>
<circle cx="161.0" cy="7.5" r=".7"/>
<circle cx="183.3" cy="7.4" r=".7"/>
<circle cx="185.3" cy="6.2" r=".7"/>
<circle cx="193.3" cy="8.0" r=".7"/>
<circle cx="193.8" cy="4.7" r=".7"/>
<circle cx="-11.5" cy="13.8" r=".7"/>
<circle cx="-9.5" cy="15.5" r=".7"/>
<circle cx="8.4" cy="18.4" r=".7"/>
<circle cx="11.5" cy="17.3" r=".7"/>
<circle cx="19.0" cy="20.5" r=".7"/>
<circle cx="19.0" cy="20.2" r=".7"/>
<circle cx="32.7" cy="21.3" r=".7"/>
<circle cx="29.3" cy="19.4" r=".7"/>
<circle cx="67.6" cy="12.4" r=".7"/>
<circle cx="63.4" cy="13.9" r=".7"/>
<circle cx="75.1" cy="18.1" r=".7"/>
<circle cx="71.4" cy="15.7" r=".7"/>
<circle cx="88.1" cy="12.4" r=".7"/>
<circle cx="88.7" cy="15.8" r=".7"/>
<circle cx="103.6" cy="15.7" r=".7"/>
<circle cx="104.5" cy="14.8" r=".7"/>
<circle cx="113.8" cy="20.0" r=".7"/>
<circle cx="117.4" cy="17.9" r=".7"/>
<circle cx="132.6" cy="23.2" r=".7"/>
<circle cx="134.4" cy="21.8" r=".7"/>
<circle cx="145.1" cy="24.0" r=".7"/>
<circle cx="143.1" cy="24.2" r=".7"/>
<circle cx="160.3" cy="22.5" r=".7"/>
<circle cx="157.3" cy="18.3" r=".7"/>
<circle cx="186.1" cy="13.5" r=".7"/>
<circle cx="183.0" cy="17.6" r=".7"/>
<circle cx="0.0" cy="32.4" r=".7"/>
<circle cx="0.7" cy="31.6" r=".7"/>
<circle cx="11.9" cy="29.7" r=".7"/>
<circle cx="13.3" cy="27.9" r=".7"/>
<circle cx="29.9" cy="27.7" r=".7"/>
<circle cx="29.5" cy="28.0" r=".7"/>
<circle cx="44.0" cy="28.8" r=".7"/>
<circle cx="41.4" cy="29.4" r=".7"/>
<circle cx="65.9" cy="25.6" r=".7"/>
<circle cx="63.8" cy="24.5" r=".7"/>
<circle cx="100.3" cy="25.2" r=".7"/>
<circle cx="103.0" cy="22.4" r=".7"/>
<circle cx="114.1" cy="26.0" r=".7"/>
<circle cx="118.2" cy="31.1" r=".7"/>
<circle cx="129.0" cy="31.4" r=".7"/>
<circle cx="129.0" cy="30.5" r=".7"/>
<circle cx="141.9" cy="35.6" r=".7"/>
<circle cx="140.6" cy="32.7" r=".7"/>
<circle cx="153.0" cy="25.1" r=".7"/>
<circle cx="152.0" cy="25.5" r=".7"/>
<circle cx="168.5" cy="28.1" r=".7"/>
<circle cx="169.3" cy="27.3" r=".7"/>
<circle cx="180.5" cy="25.6" r=".7"/>
<circle cx="180.3" cy="23.0" r=".7"/>
<circle cx="201.8" cy="30.0" r=".7"/>
<circle cx="202.6" cy="28.1" r=".7"/>
<circle cx="-4.7" cy="39.2" r=".7"/>
<circle cx="-4.3" cy="39.3" r=".7"/>
<circle cx="1.2" cy="40.8" r=".7"/>
<circle cx="4.2" cy="39.4" r=".7"/>
<circle cx="18.5" cy="37.7" r=".7"/>
<circle cx="17.2" cy="39.1" r=".7"/>
<circle cx="47.5" cy="43.9" r=".7"/>
<circle cx="47.5" cy="45.2" r=".7"/>
<circle cx="65.5" cy="42.4" r=".7"/>
<circle cx="68.6" cy="41.1" r=".7"/>
<circle cx="82.4" cy="40.1" r=".7"/>
<circle cx="81.1" cy="39.3" r=".7"/>
<circle cx="87.1" cy="36.0" r=".7"/>
<circle cx="88.1" cy="38.1" r=".7"/>
<circle cx="104.0" cy="38.0" r=".7"/>
<circle cx="99.8" cy="36.8" r=".7"/>
<circle cx="115.7" cy="43.2" r=".7"/>
<circle cx="115.9" cy="47.0" r=".7"/>
<circle cx="137.3" cy="44.0" r=".7"/>
<circle cx="132.3" cy="44.6" r=".7"/>
<circle cx="148.4" cy="47.5" r=".7"/>
<circle cx="146.8" cy="45.3" r=".7"/>
<circle cx="161.9" cy="46.4" r=".7"/>
<circle cx="162.1" cy="44.5" r=".7"/>
<circle cx="200.1" cy="42.7" r=".7"/>
<circle cx="199.1" cy="42.8" r=".7"/>
<circle cx="0.9" cy="55.1" r=".7"/>
<circle cx="0.9" cy="54.3" r=".7"/>
<circle cx="54.9" cy="58.0" r=".7"/>
<circle cx="52.0" cy="58.0" r=".7"/>
<circle cx="67.5" cy="53.8" r=".7"/>
<circle cx="70.3" cy="55.2" r=".7"/>
<circle cx="76.6" cy="50.1" r=".7"/>
<circle cx="78.8" cy="50.2" r=".7"/>
<circle cx="95.0" cy="56.1" r=".7"/>
<circle cx="94.6" cy="53.0" r=".7"/>
<circle cx="129.8" cy="49.5" r=".7"/>
<circle cx="124.2" cy="48.3" r=".7"/>
<circle cx="143.7" cy="56.4" r=".7"/>
<circle cx="143.2" cy="56.0" r=".7"/>
<circle cx="165.4" cy="49.1" r=".7"/>
<circle cx="163.3" cy="50.9" r=".7"/>
<circle cx="188.6" cy="56.6" r=".7"/>
<circle cx="189.7" cy="57.8" r=".7"/>
<circle cx="-10.9" cy="59.2" r=".7"/>
<circle cx="-10.1" cy="59.4" r=".7"/>
<circle cx="7.7" cy="58.0" r=".7"/>
<circle cx="2.9" cy="60.3" r=".7"/>
<circle cx="49.5" cy="69.6" r=".7"/>
<circle cx="52.2" cy="71.1" r=".7"/>
<circle cx="64.4" cy="68.7" r=".7"/>
<circle cx="64.7" cy="68.2" r=".7"/>
<circle cx="80.5" cy="61.6" r=".7"/>
<circle cx="79.2" cy="61.7" r=".7"/>
<circle cx="91.7" cy="67.5" r=".7"/>
<circle cx="90.0" cy="69.1" r=".7"/>
<circle cx="108.1" cy="68.0" r=".7"/>
<circle cx="108.6" cy="65.9" r=".7"/>
<circle cx="126.6" cy="60.5" r=".7"/>
<circle cx="130.5" cy="62.9" r=".7"/>
<circle cx="149.7" cy="70.0" r=".7"/>
<circle cx="148.2" cy="69.6" r=".7"/>
<circle cx="155.6" cy="66.2" r=".7"/>
<circle cx="159.8" cy="66.4" r=".7"/>
<circle cx="194.2" cy="65.1" r=".7"/>
<circle cx="189.3" cy="64.6" r=".7"/>
<circle cx="206.2" cy="70.6" r=".7"/>
<circle cx="205.5" cy="71.2" r=".7"/>
<circle cx="1.1" cy="73.0" r=".7"/>
<circle cx="2.2" cy="73.6" r=".7"/>
<circle cx="16.2" cy="79.4" r=".7"/>
<circle cx="20.6" cy="81.4" r=".7"/>
<circle cx="46.8" cy="72.0" r=".7"/>
<circle cx="44.3" cy="72.6" r=".7"/>
<circle cx="59.6" cy="74.6" r=".7"/>
<circle cx="61.4" cy="76.0" r=".7"/>
<circle cx="76.5" cy="71.5" r=".7"/>
<circle cx="72.7" cy="70.3" r=".7"/>
<circle cx="77.4" cy="78.9" r=".7"/>
<circle cx="79.9" cy="78.4" r=".7"/>
<circle cx="114.2" cy="75.8" r=".7"/>
<circle cx="111.7" cy="76.3" r=".7"/>
<circle cx="122.0" cy="73.3" r=".7"/>
<circle cx="125.7" cy="75.7" r=".7"/>
<circle cx="141.3" cy="75.3" r=".7"/>
<circle cx="143.1" cy="74.3" r=".7"/>
<circle cx="153.9" cy="82.2" r=".7"/>
<circle cx="150.8" cy="81.2" r=".7"/>
<circle cx="168.5" cy="75.8" r=".7"/>
<circle cx="166.3" cy="76.8" r=".7"/>
<circle cx="185.0" cy="82.6" r=".7"/>
<circle cx="184.3" cy="79.6" r=".7"/>
<circle cx="200.9" cy="74.4" r=".7"/>
<circle cx="202.2" cy="75.3" r=".7"/>
<circle cx="-6.7" cy="89.1" r=".7"/>
<circle cx="-6.5" cy="92.4" r=".7"/>
<circle cx="11.5" cy="92.5" r=".7"/>
<circle cx="11.3" cy="90.1" r=".7"/>
<circle cx="28.7" cy="90.2" r=".7"/>
<circle cx="28.4" cy="87.9" r=".7"/>
<circle cx="32.8" cy="94.0" r=".7"/>
<circle cx="29.8" cy="91.7" r=".7"/>
<circle cx="51.6" cy="85.2" r=".7"/>
<circle cx="49.4" cy="86.6" r=".7"/>
<circle cx="61.6" cy="85.8" r=".7"/>
<circle cx="59.8" cy="84.4" r=".7"/>
<circle cx="72.7" cy="94.0" r=".7"/>
<circle cx="71.6" cy="91.8" r=".7"/>
<circle cx="91.3" cy="87.3" r=".7"/>
<circle cx="90.7" cy="87.7" r=".7"/>
<circle cx="106.8" cy="86.6" r=".7"/>
<circle cx="104.3" cy="83.3" r=".7"/>
<circle cx="120.5" cy="94.9" r=".7"/>
<circle cx="117.2" cy="92.8" r=".7"/>
<circle cx="137.0" cy="84.5" r=".7"/>
<circle cx="136.0" cy="85.5" r=".7"/>
<circle cx="152.0" cy="88.7" r=".7"/>
<circle cx="146.5" cy="84.4" r=".7"/>
<circle cx="164.0" cy="85.0" r=".7"/>
<circle cx="160.1" cy="88.7" r=".7"/>
<circle cx="169.5" cy="94.9" r=".7"/>
<circle cx="169.1" cy="92.4" r=".7"/>
<circle cx="185.2" cy="90.6" r=".7"/>
<circle cx="182.3" cy="87.7" r=".7"/>
<circle cx="205.6" cy="87.2" r=".7"/>
<circle cx="201.6" cy="86.8" r=".7"/>
<circle cx="20.2" cy="104.4" r=".7"/>
<circle cx="17.9" cy="105.5" r=".7"/>
<circle cx="32.4" cy="101.6" r=".7"/>
<circle cx="29.4" cy="103.2" r=".7"/>
<circle cx="46.9" cy="95.8" r=".7"/>
<circle cx="42.9" cy="97.2" r=".7"/>
<circle cx="61.2" cy="97.6" r=".7"/>
<circle cx="61.7" cy="99.9" r=".7"/>
<circle cx="73.2" cy="102.8" r=".7"/>
<circle cx="72.2" cy="104.8" r=".7"/>
<circle cx="83.2" cy="97.7" r=".7"/>
<circle cx="85.5" cy="97.9" r=".7"/>
<circle cx="97.3" cy="97.6" r=".7"/>
<circle cx="95.2" cy="99.2" r=".7"/>
<circle cx="109.9" cy="103.2" r=".7"/>
<circle cx="110.6" cy="105.7" r=".7"/>
<circle cx="121.2" cy="104.8" r=".7"/>
<circle cx="121.4" cy="106.0" r=".7"/>
<circle cx="144.0" cy="96.4" r=".7"/>
<circle cx="146.2" cy="98.1" r=".7"/>
<circle cx="158.2" cy="96.6" r=".7"/>
<circle cx="157.4" cy="95.8" r=".7"/>
<circle cx="171.9" cy="99.0" r=".7"/>
<circle cx="171.1" cy="98.4" r=".7"/>
<circle cx="184.6" cy="106.9" r=".7"/>
<circle cx="186.1" cy="105.7" r=".7"/>
<circle cx="191.1" cy="101.4" r=".7"/>
<circle cx="191.0" cy="98.8" r=".7"/>
<circle cx="-7.0" cy="119.6" r=".7"/>
<circle cx="-7.8" cy="119.4" r=".7"/>
<circle cx="2.1" cy="116.0" r=".7"/>
<circle cx="-0.6" cy="113.2" r=".7"/>
<circle cx="23.4" cy="115.5" r=".7"/>
<circle cx="19.7" cy="113.7" r=".7"/>
<circle cx="54.2" cy="109.7" r=".7"/>
<circle cx="54.0" cy="109.7" r=".7"/>
<circle cx="67.3" cy="107.6" r=".7"/>
<circle cx="66.3" cy="107.1" r=".7"/>
<circle cx="80.2" cy="110.3" r=".7"/>
<circle cx="77.7" cy="112.9" r=".7"/>
<circle cx="96.4" cy="108.3" r=".7"/>
<circle cx="90.4" cy="110.6" r=".7"/>
<circle cx="106.6" cy="118.2" r=".7"/>
<circle cx="104.5" cy="116.2" r=".7"/>
<circle cx="118.3" cy="117.2" r=".7"/>
<circle cx="121.3" cy="117.0" r=".7"/>
<circle cx="162.6" cy="113.6" r=".7"/>
<circle cx="161.0" cy="112.7" r=".7"/>
<circle cx="173.7" cy="119.2" r=".7"/>
<circle cx="176.4" cy="116.6" r=".7"/>
<circle cx="183.9" cy="109.1" r=".7"/>
<circle cx="185.1" cy="110.3" r=".7"/>
<circle cx="199.4" cy="112.0" r=".7"/>
<circle cx="198.9" cy="110.9" r=".7"/>
<circle cx="-5.7" cy="127.2" r=".7"/>
<circle cx="-2.7" cy="129.4" r=".7"/>
<circle cx="6.3" cy="122.3" r=".7"/>
<circle cx="5.9" cy="119.0" r=".7"/>
<circle cx="25.0" cy="122.0" r=".7"/>
<circle cx="24.7" cy="120.1" r=".7"/>
<circle cx="37.9" cy="129.2" r=".7"/>
<circle cx="39.2" cy="126.8" r=".7"/>
<circle cx="61.5" cy="121.6" r=".7"/>
<circle cx="61.0" cy="120.6" r=".7"/>
<circle cx="75.7" cy="127.4" r=".7"/>
<circle cx="73.4" cy="127.1" r=".7"/>
<circle cx="88.9" cy="128.8" r=".7"/>
<circle cx="87.9" cy="129.9" r=".7"/>
<circle cx="97.5" cy="119.8" r=".7"/>
<circle cx="99.1" cy="120.8" r=".7"/>
<circle cx="110.1" cy="129.3" r=".7"/>
<circle cx="109.1" cy="130.7" r=".7"/>
<circle cx="120.4" cy="124.5" r=".7"/>
<circle cx="121.3" cy="122.7" r=".7"/>
<circle cx="181.2" cy="129.7" r=".7"/>
<circle cx="182.9" cy="126.4" r=".7"/>
<circle cx="195.5" cy="126.9" r=".7"/>
<circle cx="195.6" cy="125.7" r=".7"/>
<circle cx="-3.9" cy="141.7" r=".7"/>
<circle cx="-6.2" cy="140.1" r=".7"/>
<circle cx="8.0" cy="140.7" r=".7"/>
<circle cx="9.3" cy="136.6" r=".7"/>
<circle cx="15.0" cy="132.3" r=".7"/>
<circle cx="17.5" cy="133.9" r=".7"/>
<circle cx="40.2" cy="137.7" r=".7"/>
<circle cx="42.3" cy="138.9" r=".7"/>
<circle cx="47.5" cy="133.4" r=".7"/>
<circle cx="44.1" cy="134.7" r=".7"/>
<circle cx="64.2" cy="131.8" r=".7"/>
<circle cx="61.0" cy="134.3" r=".7"/>
<circle cx="76.2" cy="139.6" r=".7"/>
<circle cx="77.1" cy="140.9" r=".7"/>
<circle cx="87.4" cy="142.0" r=".7"/>
<circle cx="91.3" cy="144.0" r=".7"/>
<circle cx="100.4" cy="133.9" r=".7"/>
<circle cx="100.7" cy="131.9" r=".7"/>
<circle cx="113.3" cy="132.1" r=".7"/>
<circle cx="112.1" cy="131.4" r=".7"/>
<circle cx="135.2" cy="137.1" r=".7"/>
<circle cx="134.6" cy="138.3" r=".7"/>
<circle cx="148.3" cy="143.1" r=".7"/>
<circle cx="153.9" cy="143.0" r=".7"/>
<circle cx="161.9" cy="132.9" r=".7"/>
<circle cx="160.9" cy="135.3" r=".7"/>
<circle cx="179.7" cy="142.1" r=".7"/>
<circle cx="178.7" cy="143.4" r=".7"/>
<circle cx="187.9" cy="139.2" r=".7"/>
<circle cx="189.3" cy="138.9" r=".7"/>
<circle cx="201.4" cy="135.2" r=".7"/>
<circle cx="202.9" cy="137.3" r=".7"/>
</g>
<circle cx="58.9" cy="110.7" r="3.7" fill="none" stroke="#4a5160" stroke-width="1.4" stroke-opacity="0.85"/>
<circle cx="58.9" cy="110.7" r="2.4" fill="#eeeed2"/>
</g>
</svg>
<svg x="73" y="673.5" width="192" height="130" viewBox="0 0 192 130"><rect width="192" height="130" fill="#bcc6c2"/>
<g filter="url(#soft)"><g fill="#6e776f" fill-opacity="0.45">
<circle cx="31.7" cy="89.7" r="0.6"/>
<circle cx="92.0" cy="28.1" r="0.7"/>
<circle cx="155.1" cy="66.6" r="0.6"/>
<circle cx="45.3" cy="0.4" r="0.5"/>
<circle cx="112.4" cy="9.0" r="0.7"/>
<circle cx="44.6" cy="30.3" r="0.4"/>
<circle cx="191.5" cy="96.0" r="0.7"/>
<circle cx="118.3" cy="4.4" r="0.5"/>
<circle cx="95.5" cy="15.1" r="0.7"/>
<circle cx="70.7" cy="20.1" r="0.7"/>
<circle cx="24.0" cy="120.6" r="0.6"/>
<circle cx="106.0" cy="44.6" r="0.6"/>
<circle cx="35.9" cy="4.8" r="0.7"/>
<circle cx="45.1" cy="101.4" r="0.5"/>
<circle cx="186.0" cy="116.2" r="0.7"/>
<circle cx="146.5" cy="75.5" r="0.7"/>
<circle cx="23.5" cy="61.9" r="0.7"/>
<circle cx="38.6" cy="120.0" r="0.7"/>
<circle cx="78.6" cy="47.5" r="0.6"/>
<circle cx="74.1" cy="129.3" r="0.5"/>
<circle cx="5.2" cy="12.1" r="0.7"/>
<circle cx="190.6" cy="64.5" r="0.6"/>
<circle cx="105.7" cy="97.3" r="0.5"/>
<circle cx="116.9" cy="72.3" r="0.6"/>
<circle cx="34.7" cy="22.1" r="0.5"/>
<circle cx="178.0" cy="45.1" r="0.6"/>
<circle cx="58.9" cy="13.4" r="0.4"/>
<circle cx="156.2" cy="101.0" r="0.5"/>
<circle cx="131.2" cy="87.9" r="0.7"/>
<circle cx="184.0" cy="52.9" r="0.7"/>
<circle cx="184.6" cy="76.8" r="0.7"/>
<circle cx="94.3" cy="48.8" r="0.5"/>
<circle cx="168.2" cy="21.1" r="0.4"/>
<circle cx="154.6" cy="100.6" r="0.6"/>
<circle cx="160.7" cy="6.8" r="0.5"/>
<circle cx="55.7" cy="54.5" r="0.5"/>
<circle cx="13.3" cy="44.0" r="0.7"/>
<circle cx="188.8" cy="97.0" r="0.6"/>
<circle cx="48.4" cy="124.7" r="0.6"/>
<circle cx="139.9" cy="3.7" r="0.5"/>
<circle cx="160.9" cy="103.4" r="0.7"/>
<circle cx="115.5" cy="55.4" r="0.6"/>
<circle cx="163.1" cy="40.0" r="0.6"/>
<circle cx="53.0" cy="99.9" r="0.4"/>
<circle cx="131.6" cy="124.0" r="0.4"/>
<circle cx="114.0" cy="83.7" r="0.7"/>
<circle cx="112.2" cy="33.4" r="0.5"/>
<circle cx="184.1" cy="117.7" r="0.4"/>
<circle cx="18.2" cy="12.2" r="0.4"/>
<circle cx="85.8" cy="18.3" r="0.7"/>
<circle cx="125.8" cy="16.4" r="0.6"/>
<circle cx="62.3" cy="64.2" r="0.5"/>
<circle cx="31.9" cy="23.9" r="0.5"/>
<circle cx="136.3" cy="71.5" r="0.4"/>
<circle cx="136.5" cy="113.6" r="0.7"/>
<circle cx="151.8" cy="1.0" r="0.6"/>
<circle cx="12.2" cy="99.3" r="0.5"/>
<circle cx="136.6" cy="32.9" r="0.6"/>
<circle cx="60.2" cy="5.4" r="0.5"/>
<circle cx="59.4" cy="117.1" r="0.5"/>
<circle cx="96.6" cy="71.4" r="0.7"/>
<circle cx="18.9" cy="78.2" r="0.6"/>
<circle cx="141.0" cy="125.7" r="0.5"/>
<circle cx="134.3" cy="68.4" r="0.6"/>
<circle cx="12.2" cy="105.9" r="0.7"/>
<circle cx="68.2" cy="41.4" r="0.7"/>
<circle cx="20.7" cy="9.9" r="0.4"/>
<circle cx="156.4" cy="98.8" r="0.6"/>
<circle cx="119.3" cy="2.6" r="0.6"/>
<circle cx="85.0" cy="67.3" r="0.5"/>
<circle cx="77.1" cy="29.3" r="0.4"/>
<circle cx="83.3" cy="32.1" r="0.6"/>
<circle cx="156.9" cy="94.1" r="0.6"/>
<circle cx="45.4" cy="50.1" r="0.6"/>
<circle cx="121.3" cy="125.2" r="0.4"/>
<circle cx="92.1" cy="63.9" r="0.7"/>
<circle cx="171.0" cy="101.3" r="0.6"/>
<circle cx="145.6" cy="86.8" r="0.7"/>
<circle cx="134.2" cy="88.8" r="0.5"/>
<circle cx="176.0" cy="50.2" r="0.6"/>
<circle cx="158.4" cy="125.3" r="0.7"/>
<circle cx="1.2" cy="40.6" r="0.5"/>
<circle cx="75.1" cy="18.9" r="0.6"/>
<circle cx="15.3" cy="39.3" r="0.7"/>
<circle cx="142.5" cy="60.1" r="0.4"/>
<circle cx="183.6" cy="91.5" r="0.5"/>
<circle cx="64.4" cy="83.4" r="0.6"/>
<circle cx="50.1" cy="123.7" r="0.5"/>
<circle cx="48.8" cy="109.9" r="0.5"/>
<circle cx="130.8" cy="26.0" r="0.6"/>
<circle cx="53.3" cy="49.3" r="0.7"/>
<circle cx="89.7" cy="56.8" r="0.6"/>
<circle cx="53.9" cy="22.7" r="0.5"/>
<circle cx="52.3" cy="24.5" r="0.7"/>
<circle cx="6.6" cy="105.4" r="0.7"/>
<circle cx="135.3" cy="2.5" r="0.6"/>
<circle cx="7.5" cy="79.0" r="0.6"/>
<circle cx="46.1" cy="1.0" r="0.6"/>
<circle cx="18.1" cy="40.2" r="0.6"/>
<circle cx="171.7" cy="48.1" r="0.4"/>
<circle cx="152.0" cy="106.9" r="0.6"/>
<circle cx="9.4" cy="24.4" r="0.5"/>
<circle cx="106.0" cy="29.3" r="0.7"/>
<circle cx="162.0" cy="120.3" r="0.7"/>
<circle cx="3.4" cy="75.7" r="0.4"/>
<circle cx="172.7" cy="97.1" r="0.7"/>
<circle cx="36.2" cy="7.8" r="0.7"/>
<circle cx="116.5" cy="80.6" r="0.6"/>
<circle cx="153.6" cy="43.9" r="0.5"/>
<circle cx="67.8" cy="38.7" r="0.6"/>
<circle cx="170.9" cy="9.2" r="0.4"/>
<circle cx="98.3" cy="88.1" r="0.5"/>
<circle cx="51.8" cy="7.6" r="0.4"/>
<circle cx="95.1" cy="88.5" r="0.6"/>
<circle cx="30.4" cy="13.5" r="0.7"/>
<circle cx="103.4" cy="53.1" r="0.6"/>
<circle cx="139.7" cy="68.2" r="0.4"/>
<circle cx="158.8" cy="27.8" r="0.4"/>
<circle cx="67.6" cy="69.2" r="0.6"/>
<circle cx="33.4" cy="92.3" r="0.6"/>
<circle cx="31.1" cy="110.6" r="0.7"/>
<circle cx="174.0" cy="88.3" r="0.5"/>
<circle cx="149.3" cy="117.4" r="0.6"/>
<circle cx="174.4" cy="126.1" r="0.5"/>
<circle cx="180.8" cy="121.8" r="0.7"/>
<circle cx="2.2" cy="45.7" r="0.6"/>
<circle cx="116.6" cy="98.2" r="0.6"/>
<circle cx="31.0" cy="121.0" r="0.6"/>
<circle cx="169.3" cy="26.9" r="0.7"/>
<circle cx="106.5" cy="100.8" r="0.7"/>
<circle cx="169.5" cy="47.1" r="0.4"/>
<circle cx="77.9" cy="23.2" r="0.6"/>
<circle cx="156.5" cy="47.1" r="0.4"/>
<circle cx="5.2" cy="55.0" r="0.6"/>
<circle cx="5.0" cy="86.5" r="0.5"/>
<circle cx="20.6" cy="120.6" r="0.6"/>
<circle cx="171.9" cy="66.8" r="0.4"/>
<circle cx="46.1" cy="55.2" r="0.6"/>
<circle cx="148.0" cy="97.7" r="0.6"/>
<circle cx="48.6" cy="55.9" r="0.5"/>
<circle cx="94.0" cy="34.5" r="0.6"/>
<circle cx="88.1" cy="4.6" r="0.7"/>
<circle cx="112.6" cy="104.4" r="0.7"/>
<circle cx="140.3" cy="129.1" r="0.5"/>
<circle cx="75.6" cy="0.5" r="0.6"/>
<circle cx="111.6" cy="74.9" r="0.7"/>
<circle cx="37.8" cy="29.5" r="0.7"/>
<circle cx="156.0" cy="62.8" r="0.4"/>
<circle cx="71.1" cy="107.4" r="0.6"/>
<circle cx="88.6" cy="50.6" r="0.6"/>
<circle cx="114.9" cy="90.1" r="0.7"/>
<circle cx="144.2" cy="48.7" r="0.5"/>
<circle cx="150.1" cy="103.1" r="0.7"/>
<circle cx="38.2" cy="110.2" r="0.7"/>
<circle cx="14.8" cy="40.0" r="0.6"/>
<circle cx="28.1" cy="108.1" r="0.5"/>
<circle cx="131.0" cy="38.5" r="0.5"/>
<circle cx="39.7" cy="64.7" r="0.6"/>
<circle cx="41.8" cy="89.2" r="0.5"/>
<circle cx="124.7" cy="47.9" r="0.5"/>
<circle cx="27.1" cy="7.5" r="0.6"/>
<circle cx="79.4" cy="16.0" r="0.7"/>
<circle cx="125.7" cy="2.8" r="0.7"/>
<circle cx="114.2" cy="57.7" r="0.6"/>
<circle cx="184.7" cy="48.6" r="0.6"/>
<circle cx="122.1" cy="47.5" r="0.5"/>
<circle cx="145.0" cy="82.6" r="0.6"/>
<circle cx="98.6" cy="29.1" r="0.7"/>
<circle cx="3.8" cy="83.6" r="0.6"/>
<circle cx="42.5" cy="76.3" r="0.6"/>
<circle cx="16.7" cy="63.7" r="0.5"/>
<circle cx="153.4" cy="42.5" r="0.5"/>
<circle cx="41.4" cy="6.3" r="0.5"/>
<circle cx="29.1" cy="81.1" r="0.7"/>
<circle cx="42.4" cy="14.5" r="0.6"/>
<circle cx="22.2" cy="52.7" r="0.7"/>
<circle cx="39.0" cy="91.0" r="0.6"/>
<circle cx="16.3" cy="31.5" r="0.6"/>
<circle cx="18.5" cy="26.5" r="0.6"/>
<circle cx="157.1" cy="67.7" r="0.6"/>
<circle cx="1.7" cy="39.3" r="0.5"/>
<circle cx="175.4" cy="46.5" r="0.7"/>
<circle cx="6.6" cy="64.8" r="0.7"/>
<circle cx="148.1" cy="75.4" r="0.5"/>
<circle cx="177.8" cy="10.4" r="0.7"/>
<circle cx="149.0" cy="93.6" r="0.6"/>
<circle cx="31.5" cy="44.3" r="0.6"/>
<circle cx="125.9" cy="50.6" r="0.7"/>
<circle cx="10.3" cy="37.3" r="0.4"/>
<circle cx="62.4" cy="103.1" r="0.7"/>
<circle cx="28.7" cy="40.1" r="0.4"/>
<circle cx="127.1" cy="57.5" r="0.5"/>
<circle cx="71.8" cy="112.5" r="0.5"/>
<circle cx="132.6" cy="81.6" r="0.6"/>
<circle cx="106.8" cy="47.3" r="0.5"/>
<circle cx="94.9" cy="39.6" r="0.5"/>
<circle cx="35.8" cy="118.7" r="0.5"/>
<circle cx="38.4" cy="4.1" r="0.5"/>
<circle cx="166.7" cy="43.8" r="0.6"/>
<circle cx="44.3" cy="84.6" r="0.6"/>
<circle cx="141.4" cy="68.7" r="0.5"/>
<circle cx="53.8" cy="77.3" r="0.7"/>
<circle cx="132.8" cy="62.4" r="0.5"/>
<circle cx="171.2" cy="110.0" r="0.5"/>
<circle cx="130.4" cy="100.4" r="0.6"/>
<circle cx="185.2" cy="114.3" r="0.5"/>
<circle cx="191.4" cy="42.6" r="0.5"/>
<circle cx="187.5" cy="21.7" r="0.5"/>
<circle cx="120.2" cy="35.5" r="0.5"/>
<circle cx="152.5" cy="79.6" r="0.7"/>
<circle cx="151.7" cy="113.4" r="0.7"/>
<circle cx="158.1" cy="127.2" r="0.6"/>
<circle cx="134.7" cy="66.8" r="0.7"/>
<circle cx="125.8" cy="56.0" r="0.6"/>
<circle cx="56.6" cy="16.8" r="0.5"/>
<circle cx="26.3" cy="0.5" r="0.4"/>
<circle cx="87.2" cy="99.2" r="0.4"/>
<circle cx="122.2" cy="14.5" r="0.6"/>
<circle cx="56.8" cy="58.0" r="0.6"/>
<circle cx="79.4" cy="50.9" r="0.7"/>
<circle cx="22.2" cy="45.4" r="0.6"/>
<circle cx="160.3" cy="127.3" r="0.5"/>
<circle cx="120.0" cy="40.6" r="0.6"/>
<circle cx="162.5" cy="17.6" r="0.5"/>
<circle cx="179.8" cy="45.8" r="0.6"/>
<circle cx="157.2" cy="36.2" r="0.7"/>
<circle cx="0.7" cy="44.3" r="0.5"/>
<circle cx="66.4" cy="27.7" r="0.4"/>
<circle cx="154.2" cy="22.6" r="0.6"/>
<circle cx="106.4" cy="110.4" r="0.7"/>
<circle cx="119.4" cy="22.0" r="0.7"/>
<circle cx="18.7" cy="120.7" r="0.5"/>
<circle cx="48.5" cy="28.2" r="0.5"/>
<circle cx="152.0" cy="111.1" r="0.7"/>
<circle cx="140.0" cy="31.7" r="0.5"/>
<circle cx="58.4" cy="56.3" r="0.7"/>
<circle cx="191.2" cy="10.9" r="0.7"/>
<circle cx="176.3" cy="59.9" r="0.6"/>
<circle cx="150.6" cy="24.3" r="0.6"/>
<circle cx="188.5" cy="114.4" r="0.7"/>
<circle cx="16.3" cy="92.9" r="0.6"/>
<circle cx="174.6" cy="21.7" r="0.6"/>
<circle cx="23.2" cy="104.6" r="0.7"/>
<circle cx="6.0" cy="40.2" r="0.4"/>
<circle cx="122.0" cy="81.9" r="0.4"/>
<circle cx="182.6" cy="125.5" r="0.6"/>
<circle cx="110.2" cy="47.2" r="0.6"/>
<circle cx="76.5" cy="57.3" r="0.7"/>
<circle cx="35.8" cy="38.8" r="0.7"/>
<circle cx="43.2" cy="8.9" r="0.7"/>
<circle cx="30.6" cy="53.4" r="0.5"/>
<circle cx="50.2" cy="45.8" r="0.6"/>
<circle cx="22.3" cy="69.3" r="0.4"/>
<circle cx="15.1" cy="26.3" r="0.5"/>
<circle cx="65.6" cy="37.9" r="0.7"/>
<circle cx="126.3" cy="61.5" r="0.7"/>
<circle cx="131.7" cy="41.0" r="0.6"/>
<circle cx="143.1" cy="69.5" r="0.7"/>
<circle cx="121.5" cy="120.6" r="0.5"/>
<circle cx="128.9" cy="127.0" r="0.6"/>
<circle cx="173.8" cy="12.3" r="0.7"/>
<circle cx="51.0" cy="97.5" r="0.5"/>
<circle cx="102.7" cy="32.3" r="0.5"/>
<circle cx="166.2" cy="83.6" r="0.6"/>
<circle cx="22.2" cy="38.1" r="0.7"/>
<circle cx="39.0" cy="69.9" r="0.6"/>
<circle cx="98.0" cy="72.1" r="0.7"/>
<circle cx="150.0" cy="30.8" r="0.6"/>
<circle cx="80.6" cy="88.9" r="0.6"/>
<circle cx="50.1" cy="90.0" r="0.6"/>
<circle cx="2.9" cy="37.9" r="0.5"/>
<circle cx="37.8" cy="87.2" r="0.7"/>
<circle cx="178.9" cy="81.9" r="0.7"/>
<circle cx="94.4" cy="76.3" r="0.7"/>
<circle cx="11.5" cy="47.1" r="0.5"/>
<circle cx="65.5" cy="55.6" r="0.4"/>
<circle cx="130.4" cy="124.4" r="0.5"/>
<circle cx="35.7" cy="43.5" r="0.7"/>
<circle cx="43.5" cy="100.2" r="0.5"/>
<circle cx="114.2" cy="93.8" r="0.6"/>
<circle cx="16.2" cy="124.4" r="0.7"/>
<circle cx="92.3" cy="111.7" r="0.6"/>
<circle cx="32.4" cy="51.6" r="0.7"/>
<circle cx="89.0" cy="5.4" r="0.5"/>
<circle cx="35.8" cy="76.2" r="0.6"/>
<circle cx="86.0" cy="52.5" r="0.7"/>
<circle cx="65.8" cy="87.4" r="0.5"/>
<circle cx="98.7" cy="23.3" r="0.4"/>
<circle cx="64.7" cy="15.0" r="0.5"/>
<circle cx="125.4" cy="71.4" r="0.7"/>
<circle cx="91.6" cy="10.9" r="0.7"/>
<circle cx="77.2" cy="97.7" r="0.7"/>
<circle cx="100.7" cy="32.6" r="0.5"/>
<circle cx="95.7" cy="41.5" r="0.4"/>
<circle cx="76.5" cy="85.3" r="0.7"/>
<circle cx="146.2" cy="114.9" r="0.7"/>
<circle cx="79.0" cy="83.8" r="0.4"/>
<circle cx="152.5" cy="92.0" r="0.5"/>
<circle cx="90.7" cy="35.3" r="0.7"/>
<circle cx="81.9" cy="101.5" r="0.7"/>
<circle cx="149.3" cy="49.4" r="0.5"/>
<circle cx="181.6" cy="117.6" r="0.5"/>
<circle cx="69.5" cy="102.5" r="0.7"/>
<circle cx="54.4" cy="58.0" r="0.7"/>
<circle cx="17.3" cy="35.6" r="0.6"/>
<circle cx="174.2" cy="123.1" r="0.6"/>
<circle cx="151.7" cy="126.4" r="0.5"/>
<circle cx="43.7" cy="33.7" r="0.7"/>
<circle cx="26.8" cy="71.1" r="0.7"/>
<circle cx="38.6" cy="81.7" r="0.6"/>
<circle cx="185.5" cy="66.8" r="0.6"/>
<circle cx="173.5" cy="97.8" r="0.5"/>
<circle cx="154.3" cy="51.9" r="0.7"/>
<circle cx="184.9" cy="64.1" r="0.5"/>
<circle cx="43.6" cy="35.9" r="0.5"/>
<circle cx="32.3" cy="94.9" r="0.4"/>
<circle cx="115.0" cy="77.7" r="0.7"/>
<circle cx="108.9" cy="120.5" r="0.5"/>
<circle cx="17.9" cy="75.7" r="0.5"/>
<circle cx="189.7" cy="119.8" r="0.6"/>
<circle cx="160.1" cy="31.8" r="0.6"/>
<circle cx="73.5" cy="44.9" r="0.5"/>
<circle cx="91.7" cy="85.0" r="0.4"/>
<circle cx="103.5" cy="16.6" r="0.7"/>
<circle cx="105.9" cy="76.6" r="0.5"/>
<circle cx="135.5" cy="92.3" r="0.7"/>
<circle cx="111.5" cy="35.1" r="0.6"/>
<circle cx="9.7" cy="96.7" r="0.5"/>
<circle cx="138.1" cy="17.2" r="0.6"/>
<circle cx="32.5" cy="4.8" r="0.5"/>
<circle cx="162.9" cy="50.5" r="0.6"/>
<circle cx="151.7" cy="127.2" r="0.5"/>
<circle cx="133.3" cy="101.6" r="0.7"/>
<circle cx="66.6" cy="61.7" r="0.7"/>
<circle cx="48.2" cy="63.1" r="0.6"/>
<circle cx="163.4" cy="31.7" r="0.6"/>
<circle cx="41.7" cy="20.4" r="0.6"/>
<circle cx="124.4" cy="83.2" r="0.7"/>
<circle cx="31.5" cy="68.9" r="0.6"/>
<circle cx="49.7" cy="119.3" r="0.5"/>
<circle cx="50.0" cy="5.2" r="0.6"/>
<circle cx="126.3" cy="29.1" r="0.7"/>
<circle cx="121.9" cy="26.2" r="0.7"/>
<circle cx="163.8" cy="40.8" r="0.7"/>
<circle cx="25.0" cy="45.2" r="0.5"/>
<circle cx="183.4" cy="38.8" r="0.5"/>
<circle cx="39.8" cy="106.5" r="0.5"/>
<circle cx="162.8" cy="44.3" r="0.6"/>
<circle cx="168.3" cy="34.7" r="0.6"/>
<circle cx="122.1" cy="75.1" r="0.5"/>
<circle cx="124.0" cy="40.9" r="0.5"/>
<circle cx="1.7" cy="78.8" r="0.6"/>
<circle cx="153.5" cy="20.4" r="0.6"/>
<circle cx="87.0" cy="68.3" r="0.7"/>
<circle cx="99.7" cy="56.6" r="0.6"/>
<circle cx="28.4" cy="113.5" r="0.6"/>
<circle cx="8.1" cy="62.6" r="0.7"/>
<circle cx="187.9" cy="55.4" r="0.5"/>
<circle cx="179.8" cy="37.0" r="0.4"/>
<circle cx="47.4" cy="61.2" r="0.6"/>
<circle cx="12.8" cy="43.5" r="0.7"/>
<circle cx="66.1" cy="22.8" r="0.6"/>
<circle cx="83.8" cy="90.4" r="0.6"/>
<circle cx="156.0" cy="66.6" r="0.7"/>
<circle cx="156.1" cy="93.8" r="0.6"/>
<circle cx="117.0" cy="49.0" r="0.4"/>
<circle cx="169.9" cy="105.0" r="0.7"/>
<circle cx="165.0" cy="71.6" r="0.7"/>
<circle cx="90.9" cy="127.5" r="0.4"/>
<circle cx="72.7" cy="74.2" r="0.7"/>
<circle cx="100.0" cy="102.7" r="0.5"/>
<circle cx="130.0" cy="103.6" r="0.6"/>
<circle cx="4.0" cy="85.4" r="0.4"/>
<circle cx="58.2" cy="14.9" r="0.7"/>
<circle cx="32.3" cy="93.5" r="0.4"/>
<circle cx="39.7" cy="90.4" r="0.7"/>
<circle cx="13.7" cy="79.9" r="0.5"/>
<circle cx="119.4" cy="10.0" r="0.4"/>
<circle cx="15.1" cy="115.8" r="0.6"/>
<circle cx="117.6" cy="17.3" r="0.6"/>
</g>
<ellipse cx="4.2" cy="15.4" rx="4.2" ry="3.2" transform="rotate(36 4.2 15.4)" fill="#abb4a0" stroke="#e4ebe9" stroke-width="1.3" paint-order="stroke"/>
<circle cx="4.8" cy="16.1" r="1.8" fill="#7f8a74" fill-opacity="0.6"/>
<ellipse cx="25.2" cy="23.8" rx="4.3" ry="3.3" transform="rotate(102 25.2 23.8)" fill="#abb4a0" stroke="#e4ebe9" stroke-width="1.3" paint-order="stroke"/>
<circle cx="25.5" cy="23.5" r="1.8" fill="#7f8a74" fill-opacity="0.6"/>
<ellipse cx="26.6" cy="40.6" rx="4.1" ry="3.1" transform="rotate(56 26.6 40.6)" fill="#abb4a0" stroke="#e4ebe9" stroke-width="1.3" paint-order="stroke"/>
<circle cx="26.9" cy="40.9" r="1.7" fill="#7f8a74" fill-opacity="0.6"/>
<ellipse cx="42.0" cy="30.8" rx="4.3" ry="3.3" transform="rotate(142 42.0 30.8)" fill="#abb4a0" stroke="#e4ebe9" stroke-width="1.3" paint-order="stroke"/>
<circle cx="41.2" cy="30.2" r="1.8" fill="#7f8a74" fill-opacity="0.6"/>
<ellipse cx="72.9" cy="8.4" rx="3.7" ry="2.8" transform="rotate(71 72.9 8.4)" fill="#abb4a0" stroke="#e4ebe9" stroke-width="1.3" paint-order="stroke"/>
<circle cx="73.3" cy="7.9" r="1.5" fill="#7f8a74" fill-opacity="0.6"/>
<ellipse cx="119.1" cy="14.0" rx="3.9" ry="2.9" transform="rotate(81 119.1 14.0)" fill="#abb4a0" stroke="#e4ebe9" stroke-width="1.3" paint-order="stroke"/>
<circle cx="118.7" cy="14.3" r="1.6" fill="#7f8a74" fill-opacity="0.6"/>
<ellipse cx="151.3" cy="5.6" rx="3.7" ry="2.8" transform="rotate(176 151.3 5.6)" fill="#abb4a0" stroke="#e4ebe9" stroke-width="1.3" paint-order="stroke"/>
<circle cx="150.6" cy="6.4" r="1.5" fill="#7f8a74" fill-opacity="0.6"/>
<ellipse cx="138.7" cy="23.8" rx="3.9" ry="3.0" transform="rotate(83 138.7 23.8)" fill="#abb4a0" stroke="#e4ebe9" stroke-width="1.3" paint-order="stroke"/>
<circle cx="137.9" cy="24.1" r="1.6" fill="#7f8a74" fill-opacity="0.6"/>
<ellipse cx="106.5" cy="36.4" rx="4.1" ry="3.1" transform="rotate(63 106.5 36.4)" fill="#abb4a0" stroke="#e4ebe9" stroke-width="1.3" paint-order="stroke"/>
<circle cx="106.9" cy="36.5" r="1.7" fill="#7f8a74" fill-opacity="0.6"/>
<ellipse cx="130.3" cy="33.1" rx="3.4" ry="2.5" transform="rotate(155 130.3 33.1)" fill="#abb4a0" stroke="#e4ebe9" stroke-width="1.3" paint-order="stroke"/>
<circle cx="129.9" cy="33.0" r="1.4" fill="#7f8a74" fill-opacity="0.6"/>
<ellipse cx="131.7" cy="44.3" rx="4.1" ry="3.1" transform="rotate(158 131.7 44.3)" fill="#abb4a0" stroke="#e4ebe9" stroke-width="1.3" paint-order="stroke"/>
<circle cx="132.4" cy="44.0" r="1.7" fill="#7f8a74" fill-opacity="0.6"/>
<ellipse cx="155.5" cy="35.0" rx="4.1" ry="3.2" transform="rotate(28 155.5 35.0)" fill="#abb4a0" stroke="#e4ebe9" stroke-width="1.3" paint-order="stroke"/>
<circle cx="155.7" cy="34.9" r="1.7" fill="#7f8a74" fill-opacity="0.6"/>
<ellipse cx="159.8" cy="42.0" rx="4.2" ry="3.2" transform="rotate(130 159.8 42.0)" fill="#abb4a0" stroke="#e4ebe9" stroke-width="1.3" paint-order="stroke"/>
<circle cx="160.1" cy="42.7" r="1.7" fill="#7f8a74" fill-opacity="0.6"/>
<ellipse cx="149.9" cy="43.4" rx="3.6" ry="2.7" transform="rotate(80 149.9 43.4)" fill="#abb4a0" stroke="#e4ebe9" stroke-width="1.3" paint-order="stroke"/>
<circle cx="149.1" cy="43.1" r="1.5" fill="#7f8a74" fill-opacity="0.6"/>
<ellipse cx="145.7" cy="50.4" rx="3.5" ry="2.6" transform="rotate(132 145.7 50.4)" fill="#abb4a0" stroke="#e4ebe9" stroke-width="1.3" paint-order="stroke"/>
<circle cx="145.0" cy="51.3" r="1.4" fill="#7f8a74" fill-opacity="0.6"/>
<ellipse cx="157.0" cy="21.0" rx="3.9" ry="3.0" transform="rotate(80 157.0 21.0)" fill="#abb4a0" stroke="#e4ebe9" stroke-width="1.3" paint-order="stroke"/>
<circle cx="156.2" cy="20.9" r="1.6" fill="#7f8a74" fill-opacity="0.6"/>
<ellipse cx="165.4" cy="22.4" rx="3.9" ry="2.9" transform="rotate(26 165.4 22.4)" fill="#abb4a0" stroke="#e4ebe9" stroke-width="1.3" paint-order="stroke"/>
<circle cx="166.3" cy="22.1" r="1.6" fill="#7f8a74" fill-opacity="0.6"/>
<ellipse cx="168.2" cy="30.8" rx="3.7" ry="2.8" transform="rotate(51 168.2 30.8)" fill="#abb4a0" stroke="#e4ebe9" stroke-width="1.3" paint-order="stroke"/>
<circle cx="167.9" cy="30.4" r="1.5" fill="#7f8a74" fill-opacity="0.6"/>
<ellipse cx="182.2" cy="25.2" rx="4.2" ry="3.2" transform="rotate(13 182.2 25.2)" fill="#abb4a0" stroke="#e4ebe9" stroke-width="1.3" paint-order="stroke"/>
<circle cx="181.9" cy="25.4" r="1.7" fill="#7f8a74" fill-opacity="0.6"/>
<ellipse cx="190.6" cy="28.0" rx="3.8" ry="2.9" transform="rotate(58 190.6 28.0)" fill="#abb4a0" stroke="#e4ebe9" stroke-width="1.3" paint-order="stroke"/>
<circle cx="190.6" cy="27.2" r="1.6" fill="#7f8a74" fill-opacity="0.6"/>
<ellipse cx="95.3" cy="51.8" rx="3.6" ry="2.7" transform="rotate(78 95.3 51.8)" fill="#abb4a0" stroke="#e4ebe9" stroke-width="1.3" paint-order="stroke"/>
<circle cx="95.8" cy="51.7" r="1.5" fill="#7f8a74" fill-opacity="0.6"/>
<ellipse cx="103.7" cy="54.7" rx="3.7" ry="2.8" transform="rotate(118 103.7 54.7)" fill="#abb4a0" stroke="#e4ebe9" stroke-width="1.3" paint-order="stroke"/>
<circle cx="103.3" cy="54.8" r="1.5" fill="#7f8a74" fill-opacity="0.6"/>
<ellipse cx="119.1" cy="60.3" rx="3.5" ry="2.6" transform="rotate(111 119.1 60.3)" fill="#abb4a0" stroke="#e4ebe9" stroke-width="1.3" paint-order="stroke"/>
<circle cx="119.2" cy="60.6" r="1.4" fill="#7f8a74" fill-opacity="0.6"/>
<ellipse cx="116.3" cy="74.3" rx="4.2" ry="3.2" transform="rotate(143 116.3 74.3)" fill="#abb4a0" stroke="#e4ebe9" stroke-width="1.3" paint-order="stroke"/>
<circle cx="117.3" cy="73.7" r="1.7" fill="#7f8a74" fill-opacity="0.6"/>
<ellipse cx="131.7" cy="81.3" rx="4.3" ry="3.2" transform="rotate(80 131.7 81.3)" fill="#abb4a0" stroke="#e4ebe9" stroke-width="1.3" paint-order="stroke"/>
<circle cx="131.5" cy="81.2" r="1.8" fill="#7f8a74" fill-opacity="0.6"/>
<ellipse cx="157.0" cy="78.5" rx="4.2" ry="3.2" transform="rotate(172 157.0 78.5)" fill="#abb4a0" stroke="#e4ebe9" stroke-width="1.3" paint-order="stroke"/>
<circle cx="157.6" cy="78.1" r="1.8" fill="#7f8a74" fill-opacity="0.6"/>
<ellipse cx="165.4" cy="72.9" rx="3.4" ry="2.6" transform="rotate(37 165.4 72.9)" fill="#abb4a0" stroke="#e4ebe9" stroke-width="1.3" paint-order="stroke"/>
<circle cx="165.7" cy="73.3" r="1.4" fill="#7f8a74" fill-opacity="0.6"/>
<ellipse cx="169.6" cy="60.3" rx="3.4" ry="2.5" transform="rotate(1 169.6 60.3)" fill="#abb4a0" stroke="#e4ebe9" stroke-width="1.3" paint-order="stroke"/>
<circle cx="170.6" cy="59.9" r="1.4" fill="#7f8a74" fill-opacity="0.6"/>
<ellipse cx="176.6" cy="67.3" rx="3.3" ry="2.5" transform="rotate(84 176.6 67.3)" fill="#abb4a0" stroke="#e4ebe9" stroke-width="1.3" paint-order="stroke"/>
<circle cx="175.8" cy="67.9" r="1.4" fill="#7f8a74" fill-opacity="0.6"/>
<ellipse cx="172.4" cy="82.7" rx="3.8" ry="2.9" transform="rotate(110 172.4 82.7)" fill="#abb4a0" stroke="#e4ebe9" stroke-width="1.3" paint-order="stroke"/>
<circle cx="173.2" cy="81.9" r="1.6" fill="#7f8a74" fill-opacity="0.6"/>
<ellipse cx="180.8" cy="89.7" rx="3.5" ry="2.6" transform="rotate(142 180.8 89.7)" fill="#abb4a0" stroke="#e4ebe9" stroke-width="1.3" paint-order="stroke"/>
<circle cx="181.0" cy="89.6" r="1.4" fill="#7f8a74" fill-opacity="0.6"/>
<ellipse cx="185.0" cy="50.4" rx="3.7" ry="2.8" transform="rotate(111 185.0 50.4)" fill="#abb4a0" stroke="#e4ebe9" stroke-width="1.3" paint-order="stroke"/>
<circle cx="185.9" cy="51.3" r="1.5" fill="#7f8a74" fill-opacity="0.6"/>
<ellipse cx="187.8" cy="64.5" rx="4.2" ry="3.2" transform="rotate(176 187.8 64.5)" fill="#abb4a0" stroke="#e4ebe9" stroke-width="1.3" paint-order="stroke"/>
<circle cx="187.0" cy="63.5" r="1.8" fill="#7f8a74" fill-opacity="0.6"/>
<ellipse cx="190.6" cy="72.9" rx="4.1" ry="3.1" transform="rotate(44 190.6 72.9)" fill="#abb4a0" stroke="#e4ebe9" stroke-width="1.3" paint-order="stroke"/>
<circle cx="190.6" cy="72.8" r="1.7" fill="#7f8a74" fill-opacity="0.6"/>
<ellipse cx="71.5" cy="74.3" rx="4.3" ry="3.3" transform="rotate(80 71.5 74.3)" fill="#abb4a0" stroke="#e4ebe9" stroke-width="1.3" paint-order="stroke"/>
<circle cx="70.7" cy="73.7" r="1.8" fill="#7f8a74" fill-opacity="0.6"/>
<ellipse cx="35.0" cy="85.5" rx="4.2" ry="3.2" transform="rotate(147 35.0 85.5)" fill="#abb4a0" stroke="#e4ebe9" stroke-width="1.3" paint-order="stroke"/>
<circle cx="34.3" cy="86.4" r="1.8" fill="#7f8a74" fill-opacity="0.6"/>
<ellipse cx="82.7" cy="96.7" rx="3.7" ry="2.8" transform="rotate(131 82.7 96.7)" fill="#abb4a0" stroke="#e4ebe9" stroke-width="1.3" paint-order="stroke"/>
<circle cx="82.8" cy="97.4" r="1.5" fill="#7f8a74" fill-opacity="0.6"/>
<ellipse cx="96.7" cy="98.1" rx="3.8" ry="2.9" transform="rotate(5 96.7 98.1)" fill="#abb4a0" stroke="#e4ebe9" stroke-width="1.3" paint-order="stroke"/>
<circle cx="96.8" cy="98.8" r="1.6" fill="#7f8a74" fill-opacity="0.6"/>
<ellipse cx="119.1" cy="96.7" rx="3.7" ry="2.8" transform="rotate(149 119.1 96.7)" fill="#abb4a0" stroke="#e4ebe9" stroke-width="1.3" paint-order="stroke"/>
<circle cx="119.0" cy="96.4" r="1.5" fill="#7f8a74" fill-opacity="0.6"/>
<ellipse cx="119.1" cy="103.7" rx="3.7" ry="2.8" transform="rotate(41 119.1 103.7)" fill="#abb4a0" stroke="#e4ebe9" stroke-width="1.3" paint-order="stroke"/>
<circle cx="119.1" cy="104.6" r="1.5" fill="#7f8a74" fill-opacity="0.6"/>
<ellipse cx="46.2" cy="114.9" rx="3.9" ry="2.9" transform="rotate(138 46.2 114.9)" fill="#abb4a0" stroke="#e4ebe9" stroke-width="1.3" paint-order="stroke"/>
<circle cx="45.6" cy="114.6" r="1.6" fill="#7f8a74" fill-opacity="0.6"/>
<ellipse cx="47.6" cy="121.9" rx="3.9" ry="2.9" transform="rotate(69 47.6 121.9)" fill="#abb4a0" stroke="#e4ebe9" stroke-width="1.3" paint-order="stroke"/>
<circle cx="46.7" cy="122.7" r="1.6" fill="#7f8a74" fill-opacity="0.6"/>
<ellipse cx="168.2" cy="110.7" rx="3.4" ry="2.6" transform="rotate(119 168.2 110.7)" fill="#abb4a0" stroke="#e4ebe9" stroke-width="1.3" paint-order="stroke"/>
<circle cx="169.1" cy="110.3" r="1.4" fill="#7f8a74" fill-opacity="0.6"/>
<ellipse cx="176.6" cy="99.5" rx="3.6" ry="2.7" transform="rotate(60 176.6 99.5)" fill="#abb4a0" stroke="#e4ebe9" stroke-width="1.3" paint-order="stroke"/>
<circle cx="176.7" cy="100.5" r="1.5" fill="#7f8a74" fill-opacity="0.6"/>
<ellipse cx="131.7" cy="126.1" rx="3.4" ry="2.6" transform="rotate(44 131.7 126.1)" fill="#abb4a0" stroke="#e4ebe9" stroke-width="1.3" paint-order="stroke"/>
<circle cx="132.5" cy="125.7" r="1.4" fill="#7f8a74" fill-opacity="0.6"/>
<ellipse cx="105.1" cy="128.9" rx="4.0" ry="3.0" transform="rotate(130 105.1 128.9)" fill="#abb4a0" stroke="#e4ebe9" stroke-width="1.3" paint-order="stroke"/>
<circle cx="104.1" cy="128.0" r="1.7" fill="#7f8a74" fill-opacity="0.6"/>
<ellipse cx="179.4" cy="46.2" rx="4.1" ry="3.1" transform="rotate(165 179.4 46.2)" fill="#abb4a0" stroke="#e4ebe9" stroke-width="1.3" paint-order="stroke"/>
<circle cx="179.8" cy="46.2" r="1.7" fill="#7f8a74" fill-opacity="0.6"/>
<line x1="81.3" y1="33.6" x2="93.9" y2="51.9" stroke="#8d978a" stroke-width="1.1"/>
</g></svg>
<svg x="277" y="673.5" width="191" height="130" viewBox="0 0 191 130"><rect width="191" height="130" fill="#bcc6c2"/>
<g filter="url(#soft)"><g fill="#6e776f" fill-opacity="0.45">
<circle cx="183.0" cy="18.2" r="0.4"/>
<circle cx="190.7" cy="24.0" r="0.4"/>
<circle cx="124.4" cy="44.9" r="0.7"/>
<circle cx="44.3" cy="124.7" r="0.5"/>
<circle cx="114.8" cy="121.2" r="0.6"/>
<circle cx="176.5" cy="92.1" r="0.4"/>
<circle cx="168.3" cy="76.6" r="0.5"/>
<circle cx="36.3" cy="110.5" r="0.6"/>
<circle cx="179.2" cy="100.6" r="0.7"/>
<circle cx="108.2" cy="90.8" r="0.6"/>
<circle cx="49.4" cy="124.4" r="0.5"/>
<circle cx="149.2" cy="124.1" r="0.6"/>
<circle cx="27.2" cy="107.3" r="0.6"/>
<circle cx="35.3" cy="6.4" r="0.6"/>
<circle cx="6.2" cy="120.3" r="0.6"/>
<circle cx="98.8" cy="53.2" r="0.6"/>
<circle cx="175.0" cy="39.9" r="0.5"/>
<circle cx="111.3" cy="38.7" r="0.6"/>
<circle cx="103.7" cy="56.4" r="0.6"/>
<circle cx="100.9" cy="11.5" r="0.7"/>
<circle cx="67.9" cy="56.1" r="0.5"/>
<circle cx="177.5" cy="123.8" r="0.6"/>
<circle cx="76.5" cy="12.6" r="0.7"/>
<circle cx="32.7" cy="71.1" r="0.5"/>
<circle cx="62.7" cy="46.4" r="0.5"/>
<circle cx="7.1" cy="69.6" r="0.7"/>
<circle cx="123.6" cy="26.2" r="0.6"/>
<circle cx="9.9" cy="53.4" r="0.7"/>
<circle cx="175.9" cy="59.9" r="0.7"/>
<circle cx="95.2" cy="68.1" r="0.6"/>
<circle cx="189.3" cy="96.7" r="0.6"/>
<circle cx="138.9" cy="83.6" r="0.5"/>
<circle cx="149.8" cy="106.6" r="0.6"/>
<circle cx="180.1" cy="2.4" r="0.6"/>
<circle cx="121.2" cy="44.3" r="0.5"/>
<circle cx="132.2" cy="56.5" r="0.5"/>
<circle cx="8.0" cy="125.7" r="0.5"/>
<circle cx="22.6" cy="28.1" r="0.5"/>
<circle cx="165.4" cy="23.5" r="0.5"/>
<circle cx="18.6" cy="61.1" r="0.5"/>
<circle cx="65.7" cy="95.5" r="0.7"/>
<circle cx="159.3" cy="5.0" r="0.5"/>
<circle cx="162.1" cy="4.3" r="0.5"/>
<circle cx="93.6" cy="49.7" r="0.7"/>
<circle cx="137.2" cy="60.4" r="0.5"/>
<circle cx="44.1" cy="34.6" r="0.4"/>
<circle cx="127.2" cy="20.5" r="0.7"/>
<circle cx="123.4" cy="7.4" r="0.6"/>
<circle cx="115.3" cy="5.5" r="0.6"/>
<circle cx="5.7" cy="99.6" r="0.4"/>
<circle cx="120.7" cy="128.1" r="0.7"/>
<circle cx="44.6" cy="69.5" r="0.4"/>
<circle cx="65.4" cy="112.3" r="0.7"/>
<circle cx="1.7" cy="49.4" r="0.6"/>
<circle cx="33.5" cy="104.3" r="0.7"/>
<circle cx="105.3" cy="47.1" r="0.7"/>
<circle cx="98.0" cy="24.5" r="0.5"/>
<circle cx="30.4" cy="109.0" r="0.6"/>
<circle cx="133.1" cy="106.3" r="0.7"/>
<circle cx="36.4" cy="52.7" r="0.7"/>
<circle cx="145.5" cy="50.3" r="0.6"/>
<circle cx="37.2" cy="21.0" r="0.4"/>
<circle cx="72.5" cy="30.7" r="0.6"/>
<circle cx="185.2" cy="19.9" r="0.6"/>
<circle cx="165.1" cy="77.8" r="0.6"/>
<circle cx="146.6" cy="2.8" r="0.7"/>
<circle cx="131.1" cy="104.9" r="0.7"/>
<circle cx="18.8" cy="8.7" r="0.5"/>
<circle cx="96.4" cy="122.0" r="0.7"/>
<circle cx="78.7" cy="80.9" r="0.7"/>
<circle cx="63.5" cy="126.2" r="0.7"/>
<circle cx="138.8" cy="117.2" r="0.7"/>
<circle cx="124.6" cy="41.8" r="0.5"/>
<circle cx="45.5" cy="7.5" r="0.7"/>
<circle cx="57.0" cy="3.1" r="0.5"/>
<circle cx="19.7" cy="57.9" r="0.5"/>
<circle cx="33.5" cy="62.0" r="0.5"/>
<circle cx="67.6" cy="105.7" r="0.5"/>
<circle cx="103.4" cy="114.1" r="0.7"/>
<circle cx="71.6" cy="5.3" r="0.7"/>
<circle cx="98.2" cy="28.3" r="0.4"/>
<circle cx="45.6" cy="40.4" r="0.4"/>
<circle cx="9.4" cy="129.3" r="0.7"/>
<circle cx="21.6" cy="62.5" r="0.7"/>
<circle cx="96.4" cy="9.0" r="0.5"/>
<circle cx="72.7" cy="118.9" r="0.6"/>
<circle cx="87.7" cy="82.0" r="0.4"/>
<circle cx="131.1" cy="105.0" r="0.6"/>
<circle cx="68.9" cy="37.2" r="0.4"/>
<circle cx="15.7" cy="20.1" r="0.6"/>
<circle cx="148.7" cy="28.2" r="0.6"/>
<circle cx="121.5" cy="81.8" r="0.4"/>
<circle cx="175.8" cy="76.1" r="0.5"/>
<circle cx="45.7" cy="89.6" r="0.7"/>
<circle cx="64.4" cy="51.7" r="0.6"/>
<circle cx="33.4" cy="52.8" r="0.7"/>
<circle cx="106.3" cy="107.0" r="0.5"/>
<circle cx="165.9" cy="101.7" r="0.5"/>
<circle cx="101.2" cy="88.6" r="0.6"/>
<circle cx="115.0" cy="31.2" r="0.6"/>
<circle cx="67.7" cy="103.7" r="0.5"/>
<circle cx="187.1" cy="75.5" r="0.5"/>
<circle cx="79.4" cy="16.7" r="0.7"/>
<circle cx="8.8" cy="78.6" r="0.5"/>
<circle cx="148.4" cy="16.5" r="0.6"/>
<circle cx="136.4" cy="30.3" r="0.4"/>
<circle cx="71.2" cy="84.4" r="0.5"/>
<circle cx="1.7" cy="57.4" r="0.7"/>
<circle cx="30.1" cy="122.3" r="0.6"/>
<circle cx="30.7" cy="13.0" r="0.5"/>
<circle cx="91.0" cy="22.8" r="0.4"/>
<circle cx="95.7" cy="33.0" r="0.6"/>
<circle cx="86.1" cy="90.7" r="0.6"/>
<circle cx="43.6" cy="23.4" r="0.7"/>
<circle cx="9.6" cy="16.0" r="0.4"/>
<circle cx="157.8" cy="70.3" r="0.7"/>
<circle cx="119.6" cy="43.6" r="0.6"/>
<circle cx="139.9" cy="30.1" r="0.7"/>
<circle cx="77.8" cy="5.5" r="0.5"/>
<circle cx="107.0" cy="19.1" r="0.7"/>
<circle cx="176.9" cy="66.5" r="0.7"/>
<circle cx="131.8" cy="69.9" r="0.5"/>
<circle cx="182.0" cy="119.5" r="0.6"/>
<circle cx="73.5" cy="9.6" r="0.6"/>
<circle cx="163.3" cy="50.6" r="0.5"/>
<circle cx="117.1" cy="103.1" r="0.5"/>
<circle cx="53.9" cy="83.5" r="0.4"/>
<circle cx="156.0" cy="41.0" r="0.7"/>
<circle cx="86.9" cy="21.5" r="0.4"/>
<circle cx="21.6" cy="33.8" r="0.7"/>
<circle cx="151.7" cy="82.1" r="0.5"/>
<circle cx="126.8" cy="95.2" r="0.5"/>
<circle cx="15.6" cy="61.0" r="0.5"/>
<circle cx="36.0" cy="50.8" r="0.4"/>
<circle cx="171.5" cy="36.5" r="0.7"/>
<circle cx="140.8" cy="1.4" r="0.7"/>
<circle cx="154.6" cy="68.3" r="0.7"/>
<circle cx="91.4" cy="3.3" r="0.5"/>
<circle cx="59.3" cy="111.5" r="0.7"/>
<circle cx="22.5" cy="45.5" r="0.4"/>
<circle cx="43.6" cy="45.8" r="0.5"/>
<circle cx="28.6" cy="85.5" r="0.5"/>
<circle cx="170.0" cy="62.6" r="0.6"/>
<circle cx="146.3" cy="44.8" r="0.5"/>
<circle cx="23.4" cy="38.3" r="0.5"/>
<circle cx="140.4" cy="46.1" r="0.6"/>
<circle cx="52.6" cy="9.1" r="0.5"/>
<circle cx="75.0" cy="118.3" r="0.5"/>
<circle cx="40.4" cy="20.3" r="0.5"/>
<circle cx="183.4" cy="121.1" r="0.5"/>
<circle cx="9.5" cy="63.2" r="0.6"/>
<circle cx="21.3" cy="54.4" r="0.7"/>
<circle cx="0.3" cy="93.4" r="0.6"/>
<circle cx="150.2" cy="63.3" r="0.6"/>
<circle cx="99.0" cy="17.7" r="0.6"/>
<circle cx="45.7" cy="41.7" r="0.4"/>
<circle cx="30.3" cy="7.2" r="0.6"/>
<circle cx="45.1" cy="72.2" r="0.6"/>
<circle cx="44.5" cy="16.5" r="0.6"/>
<circle cx="129.2" cy="89.7" r="0.6"/>
<circle cx="110.8" cy="3.2" r="0.5"/>
<circle cx="152.9" cy="49.0" r="0.4"/>
<circle cx="80.4" cy="108.4" r="0.4"/>
<circle cx="21.4" cy="64.8" r="0.7"/>
<circle cx="74.6" cy="32.2" r="0.7"/>
<circle cx="18.0" cy="38.4" r="0.6"/>
<circle cx="162.2" cy="111.9" r="0.5"/>
<circle cx="50.9" cy="47.2" r="0.4"/>
<circle cx="52.1" cy="99.7" r="0.7"/>
<circle cx="51.6" cy="9.4" r="0.7"/>
<circle cx="184.5" cy="103.2" r="0.5"/>
<circle cx="142.1" cy="98.9" r="0.7"/>
<circle cx="94.1" cy="129.9" r="0.7"/>
<circle cx="44.9" cy="56.0" r="0.4"/>
<circle cx="71.6" cy="106.2" r="0.6"/>
<circle cx="100.1" cy="101.3" r="0.4"/>
<circle cx="67.6" cy="62.8" r="0.6"/>
<circle cx="130.8" cy="121.8" r="0.7"/>
<circle cx="104.2" cy="88.9" r="0.6"/>
<circle cx="188.4" cy="77.5" r="0.6"/>
<circle cx="75.6" cy="54.5" r="0.7"/>
<circle cx="71.2" cy="117.5" r="0.7"/>
<circle cx="182.4" cy="91.9" r="0.6"/>
<circle cx="70.1" cy="2.3" r="0.6"/>
<circle cx="143.5" cy="94.0" r="0.7"/>
<circle cx="6.8" cy="88.9" r="0.5"/>
<circle cx="74.2" cy="112.9" r="0.5"/>
<circle cx="89.2" cy="6.6" r="0.5"/>
<circle cx="40.1" cy="28.0" r="0.6"/>
<circle cx="9.1" cy="11.6" r="0.4"/>
<circle cx="140.1" cy="126.2" r="0.7"/>
<circle cx="98.3" cy="17.0" r="0.7"/>
<circle cx="24.7" cy="10.0" r="0.6"/>
<circle cx="164.7" cy="40.4" r="0.7"/>
<circle cx="63.4" cy="125.6" r="0.7"/>
<circle cx="165.2" cy="128.0" r="0.7"/>
<circle cx="37.5" cy="67.1" r="0.6"/>
<circle cx="138.0" cy="29.9" r="0.6"/>
<circle cx="54.3" cy="23.9" r="0.6"/>
<circle cx="153.5" cy="72.0" r="0.5"/>
<circle cx="43.1" cy="46.7" r="0.5"/>
<circle cx="51.9" cy="40.4" r="0.5"/>
<circle cx="56.2" cy="87.5" r="0.6"/>
<circle cx="119.7" cy="120.1" r="0.6"/>
<circle cx="24.8" cy="52.5" r="0.6"/>
<circle cx="142.6" cy="68.9" r="0.4"/>
<circle cx="90.9" cy="85.2" r="0.7"/>
<circle cx="85.2" cy="27.8" r="0.4"/>
<circle cx="96.1" cy="97.5" r="0.4"/>
<circle cx="99.9" cy="77.6" r="0.6"/>
<circle cx="44.2" cy="12.0" r="0.4"/>
<circle cx="58.3" cy="116.6" r="0.5"/>
<circle cx="188.5" cy="107.2" r="0.6"/>
<circle cx="84.0" cy="73.1" r="0.7"/>
<circle cx="63.9" cy="20.3" r="0.7"/>
<circle cx="120.5" cy="49.1" r="0.5"/>
<circle cx="19.3" cy="73.7" r="0.7"/>
<circle cx="95.2" cy="90.7" r="0.7"/>
<circle cx="63.2" cy="82.9" r="0.7"/>
<circle cx="136.7" cy="23.8" r="0.6"/>
<circle cx="123.1" cy="100.8" r="0.6"/>
<circle cx="174.3" cy="126.9" r="0.5"/>
<circle cx="91.6" cy="5.9" r="0.7"/>
<circle cx="20.4" cy="55.4" r="0.6"/>
<circle cx="82.0" cy="22.3" r="0.6"/>
<circle cx="42.7" cy="63.7" r="0.7"/>
<circle cx="57.1" cy="58.1" r="0.6"/>
<circle cx="101.6" cy="104.1" r="0.7"/>
<circle cx="184.7" cy="21.5" r="0.6"/>
<circle cx="22.6" cy="90.8" r="0.5"/>
<circle cx="162.3" cy="62.8" r="0.7"/>
<circle cx="5.9" cy="79.7" r="0.5"/>
<circle cx="159.1" cy="13.4" r="0.4"/>
<circle cx="131.3" cy="42.4" r="0.6"/>
<circle cx="77.2" cy="128.1" r="0.6"/>
<circle cx="159.0" cy="109.1" r="0.7"/>
<circle cx="85.4" cy="37.7" r="0.6"/>
<circle cx="170.8" cy="114.8" r="0.6"/>
<circle cx="173.2" cy="99.1" r="0.4"/>
<circle cx="121.0" cy="103.2" r="0.4"/>
<circle cx="72.1" cy="83.9" r="0.6"/>
<circle cx="101.2" cy="11.7" r="0.5"/>
<circle cx="165.9" cy="45.4" r="0.6"/>
<circle cx="112.8" cy="36.7" r="0.5"/>
<circle cx="96.6" cy="113.0" r="0.7"/>
<circle cx="33.8" cy="65.4" r="0.7"/>
<circle cx="171.2" cy="69.0" r="0.6"/>
<circle cx="123.3" cy="86.8" r="0.7"/>
<circle cx="188.2" cy="128.9" r="0.4"/>
<circle cx="136.9" cy="50.4" r="0.5"/>
<circle cx="19.1" cy="118.4" r="0.7"/>
<circle cx="101.0" cy="64.7" r="0.5"/>
<circle cx="177.1" cy="98.5" r="0.5"/>
<circle cx="109.6" cy="129.5" r="0.5"/>
<circle cx="71.3" cy="47.2" r="0.5"/>
<circle cx="22.4" cy="81.7" r="0.5"/>
<circle cx="130.0" cy="60.8" r="0.7"/>
<circle cx="142.6" cy="111.6" r="0.5"/>
<circle cx="151.8" cy="100.7" r="0.5"/>
<circle cx="0.2" cy="12.9" r="0.7"/>
<circle cx="184.9" cy="8.8" r="0.5"/>
<circle cx="76.8" cy="8.9" r="0.6"/>
<circle cx="163.8" cy="109.5" r="0.5"/>
<circle cx="173.9" cy="102.1" r="0.5"/>
<circle cx="163.0" cy="121.0" r="0.7"/>
<circle cx="143.5" cy="106.2" r="0.6"/>
<circle cx="1.7" cy="88.2" r="0.6"/>
<circle cx="28.3" cy="17.3" r="0.7"/>
<circle cx="172.7" cy="6.6" r="0.4"/>
<circle cx="133.3" cy="37.9" r="0.7"/>
<circle cx="88.3" cy="92.6" r="0.4"/>
<circle cx="148.3" cy="25.9" r="0.6"/>
<circle cx="92.8" cy="42.2" r="0.5"/>
<circle cx="85.5" cy="6.7" r="0.5"/>
<circle cx="24.9" cy="111.0" r="0.5"/>
<circle cx="187.9" cy="117.1" r="0.5"/>
<circle cx="163.5" cy="128.3" r="0.6"/>
<circle cx="92.3" cy="87.6" r="0.6"/>
<circle cx="50.2" cy="95.2" r="0.5"/>
<circle cx="73.4" cy="2.9" r="0.5"/>
<circle cx="154.0" cy="17.9" r="0.5"/>
<circle cx="75.5" cy="38.7" r="0.4"/>
<circle cx="10.4" cy="26.1" r="0.7"/>
<circle cx="148.3" cy="104.8" r="0.6"/>
<circle cx="190.6" cy="33.5" r="0.6"/>
<circle cx="85.9" cy="124.9" r="0.6"/>
<circle cx="138.2" cy="100.9" r="0.7"/>
<circle cx="146.1" cy="42.6" r="0.6"/>
<circle cx="152.2" cy="122.1" r="0.5"/>
<circle cx="139.5" cy="93.8" r="0.5"/>
<circle cx="22.7" cy="73.1" r="0.6"/>
<circle cx="62.8" cy="80.4" r="0.5"/>
<circle cx="109.4" cy="69.5" r="0.7"/>
<circle cx="137.6" cy="10.3" r="0.6"/>
<circle cx="24.2" cy="68.4" r="0.6"/>
<circle cx="134.5" cy="1.2" r="0.6"/>
<circle cx="33.4" cy="65.9" r="0.6"/>
<circle cx="93.3" cy="99.3" r="0.5"/>
<circle cx="91.0" cy="32.0" r="0.5"/>
<circle cx="120.7" cy="20.6" r="0.7"/>
<circle cx="71.5" cy="14.7" r="0.7"/>
<circle cx="4.0" cy="38.4" r="0.6"/>
<circle cx="3.0" cy="91.2" r="0.6"/>
<circle cx="186.4" cy="40.6" r="0.7"/>
<circle cx="187.3" cy="64.9" r="0.4"/>
<circle cx="65.2" cy="105.8" r="0.4"/>
<circle cx="121.0" cy="67.7" r="0.7"/>
<circle cx="70.7" cy="121.7" r="0.4"/>
<circle cx="79.6" cy="39.8" r="0.6"/>
<circle cx="41.5" cy="50.3" r="0.6"/>
<circle cx="176.3" cy="3.7" r="0.5"/>
<circle cx="28.2" cy="93.0" r="0.7"/>
<circle cx="3.1" cy="101.8" r="0.7"/>
<circle cx="88.4" cy="77.4" r="0.7"/>
<circle cx="177.1" cy="29.3" r="0.6"/>
<circle cx="15.1" cy="47.4" r="0.7"/>
<circle cx="119.9" cy="69.4" r="0.6"/>
<circle cx="87.2" cy="4.0" r="0.6"/>
<circle cx="179.7" cy="15.4" r="0.4"/>
<circle cx="119.3" cy="106.9" r="0.6"/>
<circle cx="16.0" cy="83.8" r="0.6"/>
<circle cx="44.4" cy="105.8" r="0.6"/>
<circle cx="150.2" cy="30.6" r="0.5"/>
<circle cx="126.6" cy="86.9" r="0.7"/>
<circle cx="180.2" cy="93.7" r="0.4"/>
<circle cx="88.9" cy="86.6" r="0.7"/>
<circle cx="60.0" cy="7.8" r="0.6"/>
<circle cx="36.9" cy="67.1" r="0.5"/>
<circle cx="167.8" cy="3.9" r="0.6"/>
<circle cx="167.8" cy="83.5" r="0.5"/>
<circle cx="104.6" cy="107.4" r="0.6"/>
<circle cx="173.1" cy="106.0" r="0.5"/>
<circle cx="23.6" cy="89.8" r="0.6"/>
<circle cx="156.2" cy="57.8" r="0.7"/>
<circle cx="27.5" cy="98.3" r="0.7"/>
<circle cx="154.7" cy="100.8" r="0.6"/>
<circle cx="32.6" cy="42.8" r="0.5"/>
<circle cx="55.8" cy="76.0" r="0.5"/>
<circle cx="125.8" cy="115.8" r="0.7"/>
<circle cx="0.7" cy="79.3" r="0.6"/>
<circle cx="82.6" cy="95.5" r="0.7"/>
<circle cx="46.8" cy="82.6" r="0.5"/>
<circle cx="84.1" cy="46.1" r="0.7"/>
<circle cx="173.9" cy="113.1" r="0.6"/>
<circle cx="135.6" cy="84.6" r="0.6"/>
<circle cx="26.0" cy="35.0" r="0.7"/>
<circle cx="113.7" cy="15.0" r="0.5"/>
<circle cx="25.5" cy="16.3" r="0.5"/>
<circle cx="55.7" cy="2.4" r="0.6"/>
<circle cx="177.4" cy="60.1" r="0.5"/>
<circle cx="72.9" cy="34.6" r="0.5"/>
<circle cx="37.1" cy="55.8" r="0.7"/>
<circle cx="69.9" cy="114.4" r="0.6"/>
<circle cx="121.6" cy="62.6" r="0.5"/>
<circle cx="169.1" cy="76.8" r="0.5"/>
<circle cx="58.6" cy="51.1" r="0.6"/>
<circle cx="72.0" cy="34.5" r="0.5"/>
<circle cx="189.8" cy="96.1" r="0.7"/>
<circle cx="170.9" cy="18.4" r="0.6"/>
<circle cx="138.3" cy="63.3" r="0.6"/>
<circle cx="120.8" cy="82.3" r="0.5"/>
<circle cx="10.4" cy="35.4" r="0.4"/>
<circle cx="59.1" cy="5.0" r="0.4"/>
<circle cx="125.4" cy="25.4" r="0.6"/>
<circle cx="80.1" cy="108.7" r="0.6"/>
<circle cx="166.5" cy="55.2" r="0.5"/>
<circle cx="177.4" cy="89.0" r="0.5"/>
<circle cx="166.5" cy="94.7" r="0.6"/>
<circle cx="5.3" cy="115.5" r="0.4"/>
<circle cx="3.2" cy="44.1" r="0.5"/>
<circle cx="46.1" cy="63.1" r="0.6"/>
<circle cx="129.9" cy="112.5" r="0.6"/>
<circle cx="165.4" cy="56.0" r="0.5"/>
<circle cx="135.7" cy="129.4" r="0.5"/>
<circle cx="117.2" cy="50.3" r="0.7"/>
<circle cx="6.3" cy="62.2" r="0.5"/>
<circle cx="70.5" cy="96.6" r="0.4"/>
<circle cx="52.6" cy="125.7" r="0.6"/>
<circle cx="2.6" cy="80.4" r="0.6"/>
<circle cx="177.4" cy="115.0" r="0.7"/>
<circle cx="50.6" cy="41.3" r="0.6"/>
<circle cx="66.1" cy="48.8" r="0.4"/>
<circle cx="37.9" cy="17.4" r="0.5"/>
<circle cx="133.8" cy="25.2" r="0.5"/>
<circle cx="15.8" cy="52.9" r="0.6"/>
<circle cx="114.8" cy="84.0" r="0.6"/>
<circle cx="132.9" cy="104.1" r="0.7"/>
<circle cx="0.1" cy="120.9" r="0.6"/>
<circle cx="189.6" cy="99.1" r="0.6"/>
<circle cx="8.7" cy="12.6" r="0.7"/>
<circle cx="1.3" cy="6.5" r="0.6"/>
<circle cx="116.0" cy="87.9" r="0.4"/>
<circle cx="183.0" cy="97.4" r="0.4"/>
<circle cx="108.8" cy="42.4" r="0.5"/>
<circle cx="117.3" cy="127.8" r="0.4"/>
<circle cx="153.7" cy="121.2" r="0.4"/>
<circle cx="171.4" cy="1.9" r="0.5"/>
<circle cx="4.5" cy="23.1" r="0.5"/>
<circle cx="107.3" cy="56.6" r="0.7"/>
<circle cx="144.2" cy="9.7" r="0.4"/>
<circle cx="53.3" cy="105.9" r="0.7"/>
<circle cx="160.1" cy="112.6" r="0.7"/>
<circle cx="106.8" cy="109.4" r="0.7"/>
<circle cx="156.2" cy="114.3" r="0.6"/>
<circle cx="16.6" cy="81.2" r="0.6"/>
<circle cx="181.2" cy="97.1" r="0.7"/>
<circle cx="174.3" cy="42.6" r="0.7"/>
<circle cx="108.7" cy="56.4" r="0.6"/>
<circle cx="94.8" cy="53.9" r="0.7"/>
<circle cx="49.0" cy="56.7" r="0.6"/>
<circle cx="185.4" cy="95.0" r="0.6"/>
<circle cx="71.6" cy="85.8" r="0.7"/>
<circle cx="3.4" cy="50.2" r="0.5"/>
<circle cx="148.1" cy="86.7" r="0.4"/>
<circle cx="171.3" cy="53.1" r="0.4"/>
<circle cx="18.9" cy="9.3" r="0.5"/>
<circle cx="15.7" cy="91.7" r="0.4"/>
<circle cx="82.6" cy="85.5" r="0.6"/>
<circle cx="55.7" cy="58.9" r="0.6"/>
<circle cx="110.5" cy="76.7" r="0.5"/>
<circle cx="130.0" cy="111.0" r="0.7"/>
<circle cx="118.2" cy="38.2" r="0.4"/>
<circle cx="82.1" cy="128.7" r="0.7"/>
<circle cx="135.4" cy="25.2" r="0.5"/>
<circle cx="29.6" cy="56.3" r="0.7"/>
<circle cx="39.8" cy="106.1" r="0.6"/>
<circle cx="51.0" cy="59.0" r="0.4"/>
<circle cx="121.2" cy="117.5" r="0.5"/>
<circle cx="185.2" cy="37.6" r="0.5"/>
<circle cx="132.8" cy="27.8" r="0.4"/>
<circle cx="95.4" cy="63.8" r="0.5"/>
<circle cx="33.2" cy="14.7" r="0.5"/>
<circle cx="28.7" cy="84.6" r="0.7"/>
<circle cx="114.2" cy="29.7" r="0.6"/>
<circle cx="182.4" cy="46.7" r="0.7"/>
<circle cx="1.0" cy="99.5" r="0.7"/>
<circle cx="103.8" cy="116.4" r="0.6"/>
<circle cx="149.4" cy="63.7" r="0.5"/>
<circle cx="51.9" cy="72.9" r="0.7"/>
<circle cx="6.7" cy="87.2" r="0.4"/>
<circle cx="122.9" cy="93.0" r="0.7"/>
<circle cx="124.7" cy="84.7" r="0.6"/>
<circle cx="128.7" cy="90.2" r="0.6"/>
<circle cx="161.8" cy="46.4" r="0.7"/>
<circle cx="36.8" cy="5.8" r="0.4"/>
<circle cx="104.8" cy="111.4" r="0.4"/>
<circle cx="169.1" cy="64.9" r="0.6"/>
<circle cx="31.5" cy="129.1" r="0.6"/>
<circle cx="45.8" cy="81.0" r="0.4"/>
<circle cx="124.2" cy="109.1" r="0.4"/>
<circle cx="48.3" cy="35.7" r="0.5"/>
<circle cx="118.5" cy="105.9" r="0.6"/>
<circle cx="132.8" cy="117.9" r="0.7"/>
<circle cx="72.5" cy="116.3" r="0.5"/>
<circle cx="157.2" cy="11.1" r="0.5"/>
<circle cx="19.7" cy="73.3" r="0.4"/>
<circle cx="116.0" cy="21.7" r="0.6"/>
<circle cx="94.7" cy="40.5" r="0.4"/>
<circle cx="144.7" cy="25.1" r="0.5"/>
<circle cx="175.5" cy="114.5" r="0.7"/>
<circle cx="121.7" cy="109.6" r="0.7"/>
<circle cx="158.8" cy="97.8" r="0.5"/>
<circle cx="144.7" cy="51.3" r="0.6"/>
<circle cx="4.9" cy="20.4" r="0.6"/>
<circle cx="16.3" cy="12.9" r="0.7"/>
<circle cx="171.3" cy="126.5" r="0.7"/>
<circle cx="57.4" cy="78.7" r="0.6"/>
<circle cx="15.8" cy="20.7" r="0.6"/>
<circle cx="81.0" cy="74.8" r="0.7"/>
<circle cx="13.8" cy="20.5" r="0.7"/>
<circle cx="22.2" cy="47.9" r="0.6"/>
<circle cx="50.8" cy="49.9" r="0.5"/>
<circle cx="154.6" cy="29.3" r="0.7"/>
<circle cx="87.7" cy="65.6" r="0.4"/>
<circle cx="169.3" cy="1.9" r="0.7"/>
<circle cx="3.5" cy="49.7" r="0.6"/>
<circle cx="116.8" cy="34.5" r="0.7"/>
<circle cx="65.8" cy="28.6" r="0.7"/>
<circle cx="125.7" cy="79.0" r="0.7"/>
<circle cx="168.6" cy="39.7" r="0.7"/>
<circle cx="170.3" cy="7.3" r="0.6"/>
<circle cx="165.8" cy="52.3" r="0.5"/>
<circle cx="92.8" cy="109.8" r="0.4"/>
<circle cx="125.6" cy="92.0" r="0.7"/>
<circle cx="123.5" cy="34.7" r="0.6"/>
<circle cx="139.5" cy="16.8" r="0.7"/>
<circle cx="114.6" cy="76.8" r="0.6"/>
<circle cx="118.0" cy="19.4" r="0.5"/>
<circle cx="0.5" cy="41.3" r="0.5"/>
<circle cx="113.7" cy="12.6" r="0.4"/>
<circle cx="99.0" cy="102.3" r="0.6"/>
<circle cx="10.9" cy="120.7" r="0.6"/>
<circle cx="174.7" cy="97.7" r="0.7"/>
<circle cx="156.7" cy="97.2" r="0.7"/>
<circle cx="128.6" cy="126.5" r="0.7"/>
<circle cx="31.7" cy="62.2" r="0.7"/>
<circle cx="129.3" cy="80.4" r="0.5"/>
<circle cx="15.9" cy="55.3" r="0.4"/>
<circle cx="31.7" cy="59.7" r="0.6"/>
<circle cx="121.0" cy="76.9" r="0.7"/>
<circle cx="108.6" cy="103.3" r="0.4"/>
<circle cx="88.5" cy="122.2" r="0.7"/>
<circle cx="159.0" cy="126.1" r="0.5"/>
<circle cx="93.8" cy="115.0" r="0.5"/>
<circle cx="98.7" cy="24.4" r="0.4"/>
<circle cx="173.6" cy="95.8" r="0.7"/>
<circle cx="170.9" cy="72.3" r="0.7"/>
<circle cx="148.7" cy="59.4" r="0.6"/>
<circle cx="39.0" cy="57.2" r="0.7"/>
<circle cx="6.3" cy="123.1" r="0.5"/>
<circle cx="96.4" cy="38.6" r="0.4"/>
<circle cx="118.3" cy="23.5" r="0.5"/>
<circle cx="159.2" cy="58.7" r="0.5"/>
<circle cx="26.0" cy="2.3" r="0.7"/>
<circle cx="92.7" cy="39.6" r="0.7"/>
<circle cx="100.8" cy="29.8" r="0.7"/>
<circle cx="78.3" cy="43.2" r="0.7"/>
<circle cx="79.9" cy="60.7" r="0.7"/>
<circle cx="123.7" cy="32.5" r="0.4"/>
<circle cx="12.3" cy="18.8" r="0.7"/>
</g>
<ellipse cx="20.9" cy="60.0" rx="3.2" ry="2.4" transform="rotate(96 20.9 60.0)" fill="#b3baa6" stroke="#e4ebe9" stroke-width="1.3" paint-order="stroke"/>
<circle cx="20.5" cy="59.0" r="1.3" fill="#7f8a74" fill-opacity="0.6"/>
<ellipse cx="11.2" cy="73.9" rx="3.7" ry="2.8" transform="rotate(120 11.2 73.9)" fill="#b3baa6" stroke="#e4ebe9" stroke-width="1.3" paint-order="stroke"/>
<circle cx="11.5" cy="74.2" r="1.5" fill="#7f8a74" fill-opacity="0.6"/>
<ellipse cx="156.2" cy="40.4" rx="2.9" ry="2.2" transform="rotate(148 156.2 40.4)" fill="#b3baa6" stroke="#e4ebe9" stroke-width="1.3" paint-order="stroke"/>
<circle cx="156.9" cy="39.9" r="1.2" fill="#7f8a74" fill-opacity="0.6"/>
<ellipse cx="157.6" cy="69.7" rx="3.6" ry="2.7" transform="rotate(174 157.6 69.7)" fill="#b3baa6" stroke="#e4ebe9" stroke-width="1.3" paint-order="stroke"/>
<circle cx="156.9" cy="70.5" r="1.5" fill="#7f8a74" fill-opacity="0.6"/>
<ellipse cx="177.9" cy="63.6" rx="2.9" ry="2.2" transform="rotate(135 177.9 63.6)" fill="#b3baa6" stroke="#e4ebe9" stroke-width="1.3" paint-order="stroke"/>
<circle cx="178.9" cy="62.9" r="1.2" fill="#7f8a74" fill-opacity="0.6"/>
<ellipse cx="99.0" cy="107.4" rx="3.3" ry="2.4" transform="rotate(4 99.0 107.4)" fill="#b3baa6" stroke="#e4ebe9" stroke-width="1.3" paint-order="stroke"/>
<circle cx="99.1" cy="106.5" r="1.3" fill="#7f8a74" fill-opacity="0.6"/>
<ellipse cx="55.2" cy="119.4" rx="3.3" ry="2.5" transform="rotate(34 55.2 119.4)" fill="#b3baa6" stroke="#e4ebe9" stroke-width="1.3" paint-order="stroke"/>
<circle cx="54.6" cy="119.7" r="1.3" fill="#7f8a74" fill-opacity="0.6"/>
<ellipse cx="27.9" cy="36.3" rx="3.1" ry="2.3" transform="rotate(28 27.9 36.3)" fill="#b3baa6" stroke="#e4ebe9" stroke-width="1.3" paint-order="stroke"/>
<circle cx="27.5" cy="36.0" r="1.3" fill="#7f8a74" fill-opacity="0.6"/>
<ellipse cx="128.3" cy="11.2" rx="3.4" ry="2.6" transform="rotate(105 128.3 11.2)" fill="#b3baa6" stroke="#e4ebe9" stroke-width="1.3" paint-order="stroke"/>
<circle cx="128.4" cy="11.5" r="1.4" fill="#7f8a74" fill-opacity="0.6"/>
<line x1="96" y1="52" x2="94" y2="58" stroke="#8d978a" stroke-width="1.1"/>
</g></svg>
<svg x="480" y="673.5" width="192" height="130" viewBox="0 0 192 130"><rect width="192" height="130" fill="#bcc6c2"/>
<g filter="url(#soft)"><g fill="#6e776f" fill-opacity="0.45">
<circle cx="177.6" cy="123.3" r="0.7"/>
<circle cx="16.0" cy="77.0" r="0.5"/>
<circle cx="101.8" cy="16.9" r="0.5"/>
<circle cx="85.4" cy="28.7" r="0.6"/>
<circle cx="4.8" cy="11.2" r="0.6"/>
<circle cx="80.9" cy="66.6" r="0.7"/>
<circle cx="68.9" cy="7.5" r="0.7"/>
<circle cx="113.1" cy="85.5" r="0.6"/>
<circle cx="186.4" cy="47.2" r="0.7"/>
<circle cx="70.8" cy="74.4" r="0.6"/>
<circle cx="60.4" cy="11.1" r="0.6"/>
<circle cx="137.8" cy="76.8" r="0.6"/>
<circle cx="123.3" cy="23.7" r="0.5"/>
<circle cx="62.1" cy="106.1" r="0.5"/>
<circle cx="21.9" cy="12.8" r="0.4"/>
<circle cx="52.9" cy="74.5" r="0.7"/>
<circle cx="63.5" cy="48.1" r="0.5"/>
<circle cx="58.5" cy="101.1" r="0.6"/>
<circle cx="49.6" cy="13.9" r="0.7"/>
<circle cx="135.8" cy="107.7" r="0.5"/>
<circle cx="104.7" cy="119.4" r="0.6"/>
<circle cx="181.5" cy="21.7" r="0.7"/>
<circle cx="10.7" cy="54.1" r="0.4"/>
<circle cx="155.4" cy="89.3" r="0.7"/>
<circle cx="154.6" cy="123.3" r="0.6"/>
<circle cx="189.7" cy="97.4" r="0.5"/>
<circle cx="187.1" cy="49.0" r="0.5"/>
<circle cx="14.6" cy="60.6" r="0.5"/>
<circle cx="179.2" cy="123.6" r="0.5"/>
<circle cx="19.9" cy="68.8" r="0.5"/>
<circle cx="104.4" cy="105.7" r="0.5"/>
<circle cx="81.0" cy="117.1" r="0.6"/>
<circle cx="65.8" cy="116.0" r="0.7"/>
<circle cx="171.9" cy="89.4" r="0.5"/>
<circle cx="133.1" cy="107.9" r="0.6"/>
<circle cx="45.8" cy="38.4" r="0.5"/>
<circle cx="148.2" cy="72.4" r="0.6"/>
<circle cx="158.7" cy="14.1" r="0.6"/>
<circle cx="63.8" cy="72.7" r="0.7"/>
<circle cx="47.7" cy="123.7" r="0.4"/>
<circle cx="107.9" cy="70.4" r="0.5"/>
<circle cx="107.7" cy="61.2" r="0.6"/>
<circle cx="137.9" cy="0.5" r="0.5"/>
<circle cx="150.8" cy="18.4" r="0.7"/>
<circle cx="39.1" cy="88.5" r="0.5"/>
<circle cx="86.3" cy="54.9" r="0.4"/>
<circle cx="134.3" cy="62.4" r="0.6"/>
<circle cx="103.5" cy="72.3" r="0.6"/>
<circle cx="57.2" cy="116.8" r="0.4"/>
<circle cx="168.3" cy="112.3" r="0.6"/>
<circle cx="149.2" cy="87.5" r="0.6"/>
<circle cx="56.0" cy="41.6" r="0.5"/>
<circle cx="58.0" cy="124.8" r="0.5"/>
<circle cx="74.4" cy="54.5" r="0.7"/>
<circle cx="91.7" cy="72.0" r="0.5"/>
<circle cx="53.4" cy="11.6" r="0.5"/>
<circle cx="50.7" cy="110.8" r="0.6"/>
<circle cx="21.2" cy="60.2" r="0.4"/>
<circle cx="108.7" cy="57.5" r="0.7"/>
<circle cx="49.8" cy="110.6" r="0.5"/>
<circle cx="188.7" cy="82.4" r="0.4"/>
<circle cx="155.0" cy="35.8" r="0.5"/>
<circle cx="28.1" cy="108.9" r="0.4"/>
<circle cx="141.7" cy="51.4" r="0.6"/>
<circle cx="56.3" cy="10.2" r="0.7"/>
<circle cx="125.7" cy="22.1" r="0.7"/>
<circle cx="175.1" cy="23.7" r="0.4"/>
<circle cx="117.3" cy="18.1" r="0.7"/>
<circle cx="90.0" cy="92.2" r="0.6"/>
<circle cx="148.0" cy="106.8" r="0.6"/>
<circle cx="113.5" cy="42.5" r="0.4"/>
<circle cx="17.8" cy="111.4" r="0.5"/>
<circle cx="81.9" cy="41.2" r="0.6"/>
<circle cx="102.4" cy="111.7" r="0.6"/>
<circle cx="69.5" cy="84.7" r="0.7"/>
<circle cx="177.7" cy="40.5" r="0.7"/>
<circle cx="188.4" cy="127.7" r="0.4"/>
<circle cx="73.0" cy="100.6" r="0.7"/>
<circle cx="7.6" cy="51.4" r="0.7"/>
<circle cx="145.6" cy="69.6" r="0.5"/>
<circle cx="78.1" cy="7.6" r="0.5"/>
<circle cx="82.1" cy="107.0" r="0.6"/>
<circle cx="79.6" cy="32.0" r="0.5"/>
<circle cx="128.8" cy="57.9" r="0.5"/>
<circle cx="157.8" cy="74.8" r="0.7"/>
<circle cx="103.0" cy="81.0" r="0.5"/>
<circle cx="116.8" cy="119.4" r="0.7"/>
<circle cx="126.9" cy="55.9" r="0.4"/>
<circle cx="161.3" cy="50.9" r="0.5"/>
<circle cx="11.0" cy="4.4" r="0.5"/>
<circle cx="187.1" cy="96.3" r="0.6"/>
<circle cx="128.3" cy="35.5" r="0.5"/>
<circle cx="115.7" cy="8.3" r="0.6"/>
<circle cx="98.8" cy="70.5" r="0.4"/>
<circle cx="13.0" cy="61.5" r="0.5"/>
<circle cx="123.2" cy="40.2" r="0.6"/>
<circle cx="144.0" cy="78.8" r="0.6"/>
<circle cx="37.9" cy="45.1" r="0.7"/>
<circle cx="51.6" cy="37.0" r="0.6"/>
<circle cx="104.8" cy="102.8" r="0.5"/>
<circle cx="184.9" cy="2.9" r="0.7"/>
<circle cx="109.4" cy="117.2" r="0.5"/>
<circle cx="132.3" cy="123.1" r="0.6"/>
<circle cx="21.6" cy="119.7" r="0.7"/>
<circle cx="21.3" cy="107.5" r="0.4"/>
<circle cx="15.6" cy="103.4" r="0.7"/>
<circle cx="183.8" cy="82.2" r="0.6"/>
<circle cx="52.2" cy="74.5" r="0.7"/>
<circle cx="124.2" cy="113.8" r="0.5"/>
<circle cx="141.1" cy="95.1" r="0.4"/>
<circle cx="157.5" cy="22.9" r="0.5"/>
<circle cx="11.8" cy="86.1" r="0.4"/>
<circle cx="187.3" cy="0.0" r="0.7"/>
<circle cx="145.8" cy="74.0" r="0.6"/>
<circle cx="153.2" cy="82.7" r="0.4"/>
<circle cx="153.0" cy="46.0" r="0.6"/>
<circle cx="98.4" cy="117.5" r="0.5"/>
<circle cx="163.9" cy="10.6" r="0.5"/>
<circle cx="128.8" cy="79.6" r="0.7"/>
<circle cx="39.9" cy="104.5" r="0.7"/>
<circle cx="27.4" cy="18.2" r="0.6"/>
<circle cx="187.3" cy="79.8" r="0.5"/>
<circle cx="97.3" cy="105.2" r="0.6"/>
<circle cx="103.1" cy="77.1" r="0.7"/>
<circle cx="153.7" cy="109.1" r="0.5"/>
<circle cx="115.2" cy="107.0" r="0.7"/>
<circle cx="182.7" cy="119.0" r="0.4"/>
<circle cx="97.6" cy="46.5" r="0.5"/>
<circle cx="96.2" cy="127.9" r="0.7"/>
<circle cx="19.0" cy="32.2" r="0.5"/>
<circle cx="169.9" cy="59.7" r="0.5"/>
<circle cx="105.6" cy="32.1" r="0.4"/>
<circle cx="113.8" cy="128.8" r="0.7"/>
<circle cx="141.4" cy="19.8" r="0.6"/>
<circle cx="122.3" cy="98.7" r="0.6"/>
<circle cx="10.2" cy="120.6" r="0.5"/>
<circle cx="141.8" cy="60.3" r="0.7"/>
<circle cx="64.8" cy="12.0" r="0.5"/>
<circle cx="92.2" cy="103.0" r="0.5"/>
<circle cx="128.0" cy="48.9" r="0.7"/>
<circle cx="33.5" cy="114.4" r="0.7"/>
<circle cx="4.6" cy="111.6" r="0.7"/>
<circle cx="133.1" cy="13.8" r="0.7"/>
<circle cx="148.2" cy="81.4" r="0.7"/>
<circle cx="181.8" cy="82.4" r="0.7"/>
<circle cx="27.6" cy="38.8" r="0.6"/>
<circle cx="100.4" cy="123.9" r="0.6"/>
<circle cx="119.3" cy="80.8" r="0.7"/>
<circle cx="76.9" cy="96.1" r="0.6"/>
<circle cx="77.3" cy="44.1" r="0.5"/>
<circle cx="2.1" cy="43.7" r="0.5"/>
<circle cx="15.6" cy="63.1" r="0.5"/>
<circle cx="177.8" cy="101.5" r="0.6"/>
<circle cx="162.6" cy="35.7" r="0.4"/>
<circle cx="117.1" cy="29.6" r="0.7"/>
<circle cx="81.6" cy="115.2" r="0.5"/>
<circle cx="18.0" cy="81.5" r="0.6"/>
<circle cx="49.2" cy="120.5" r="0.7"/>
<circle cx="132.0" cy="127.6" r="0.7"/>
<circle cx="28.4" cy="94.9" r="0.7"/>
<circle cx="140.5" cy="44.1" r="0.6"/>
<circle cx="112.9" cy="110.5" r="0.4"/>
<circle cx="72.0" cy="40.9" r="0.7"/>
<circle cx="22.4" cy="8.0" r="0.4"/>
<circle cx="22.3" cy="56.6" r="0.7"/>
<circle cx="68.2" cy="13.1" r="0.6"/>
<circle cx="63.9" cy="74.3" r="0.7"/>
<circle cx="87.5" cy="95.3" r="0.6"/>
<circle cx="163.5" cy="99.1" r="0.7"/>
<circle cx="143.3" cy="36.7" r="0.6"/>
<circle cx="148.3" cy="102.0" r="0.7"/>
<circle cx="161.9" cy="107.2" r="0.6"/>
<circle cx="123.0" cy="5.7" r="0.6"/>
<circle cx="139.5" cy="118.8" r="0.7"/>
<circle cx="84.3" cy="29.8" r="0.7"/>
<circle cx="126.2" cy="24.9" r="0.4"/>
<circle cx="168.6" cy="75.0" r="0.4"/>
<circle cx="190.1" cy="76.3" r="0.7"/>
<circle cx="154.8" cy="33.3" r="0.6"/>
<circle cx="33.1" cy="79.6" r="0.6"/>
<circle cx="151.7" cy="15.1" r="0.5"/>
<circle cx="74.3" cy="0.2" r="0.5"/>
<circle cx="184.8" cy="112.5" r="0.5"/>
<circle cx="159.7" cy="29.3" r="0.5"/>
<circle cx="122.4" cy="38.2" r="0.5"/>
<circle cx="16.4" cy="23.0" r="0.5"/>
<circle cx="175.1" cy="5.5" r="0.6"/>
<circle cx="40.7" cy="93.6" r="0.4"/>
<circle cx="71.3" cy="95.9" r="0.4"/>
<circle cx="79.0" cy="42.4" r="0.6"/>
<circle cx="120.7" cy="10.4" r="0.7"/>
<circle cx="51.8" cy="100.4" r="0.4"/>
<circle cx="18.0" cy="25.2" r="0.4"/>
<circle cx="47.6" cy="18.1" r="0.4"/>
<circle cx="163.6" cy="68.7" r="0.6"/>
<circle cx="97.6" cy="105.4" r="0.4"/>
<circle cx="8.7" cy="86.6" r="0.4"/>
<circle cx="97.1" cy="81.2" r="0.7"/>
<circle cx="0.1" cy="52.3" r="0.5"/>
<circle cx="111.4" cy="4.3" r="0.7"/>
<circle cx="183.7" cy="71.3" r="0.6"/>
<circle cx="160.3" cy="109.7" r="0.7"/>
<circle cx="93.5" cy="11.4" r="0.7"/>
<circle cx="162.0" cy="91.1" r="0.5"/>
<circle cx="187.2" cy="81.0" r="0.5"/>
<circle cx="150.9" cy="29.1" r="0.5"/>
<circle cx="173.8" cy="7.2" r="0.7"/>
<circle cx="76.2" cy="74.4" r="0.6"/>
<circle cx="173.3" cy="28.6" r="0.4"/>
<circle cx="98.3" cy="29.1" r="0.5"/>
<circle cx="21.2" cy="11.7" r="0.6"/>
<circle cx="9.9" cy="34.7" r="0.5"/>
<circle cx="18.2" cy="104.7" r="0.7"/>
<circle cx="6.2" cy="104.9" r="0.5"/>
<circle cx="140.1" cy="7.9" r="0.7"/>
<circle cx="179.0" cy="33.7" r="0.5"/>
<circle cx="65.4" cy="111.8" r="0.7"/>
<circle cx="30.1" cy="117.2" r="0.7"/>
<circle cx="183.8" cy="126.5" r="0.5"/>
<circle cx="139.7" cy="3.2" r="0.5"/>
<circle cx="103.0" cy="30.3" r="0.5"/>
<circle cx="68.7" cy="59.7" r="0.7"/>
<circle cx="111.6" cy="72.3" r="0.7"/>
<circle cx="36.2" cy="104.4" r="0.7"/>
<circle cx="156.3" cy="58.5" r="0.6"/>
<circle cx="14.4" cy="59.6" r="0.6"/>
<circle cx="182.4" cy="116.5" r="0.5"/>
<circle cx="145.2" cy="111.3" r="0.7"/>
<circle cx="130.7" cy="42.8" r="0.7"/>
<circle cx="3.1" cy="73.8" r="0.6"/>
<circle cx="169.5" cy="80.7" r="0.5"/>
<circle cx="31.8" cy="4.7" r="0.7"/>
<circle cx="150.4" cy="48.5" r="0.5"/>
<circle cx="107.0" cy="25.4" r="0.6"/>
<circle cx="66.0" cy="41.5" r="0.6"/>
<circle cx="47.8" cy="43.1" r="0.6"/>
<circle cx="180.8" cy="19.5" r="0.5"/>
<circle cx="52.3" cy="40.9" r="0.6"/>
<circle cx="157.5" cy="23.6" r="0.7"/>
<circle cx="82.9" cy="74.4" r="0.6"/>
<circle cx="115.8" cy="23.3" r="0.6"/>
<circle cx="77.2" cy="101.9" r="0.6"/>
<circle cx="78.3" cy="128.3" r="0.5"/>
<circle cx="2.6" cy="16.0" r="0.6"/>
<circle cx="17.6" cy="95.6" r="0.4"/>
<circle cx="57.1" cy="80.9" r="0.4"/>
<circle cx="83.1" cy="129.9" r="0.7"/>
<circle cx="74.7" cy="118.1" r="0.6"/>
<circle cx="155.7" cy="44.7" r="0.5"/>
<circle cx="134.5" cy="98.9" r="0.6"/>
<circle cx="28.9" cy="54.8" r="0.5"/>
<circle cx="44.4" cy="15.1" r="0.7"/>
<circle cx="27.2" cy="46.0" r="0.4"/>
<circle cx="135.3" cy="81.3" r="0.4"/>
<circle cx="182.4" cy="129.3" r="0.7"/>
<circle cx="154.7" cy="91.5" r="0.4"/>
<circle cx="52.4" cy="30.8" r="0.4"/>
<circle cx="122.6" cy="76.9" r="0.5"/>
<circle cx="143.7" cy="30.5" r="0.5"/>
<circle cx="22.1" cy="30.6" r="0.7"/>
<circle cx="94.1" cy="95.8" r="0.7"/>
<circle cx="127.9" cy="47.0" r="0.7"/>
<circle cx="15.4" cy="53.7" r="0.7"/>
<circle cx="131.0" cy="46.0" r="0.7"/>
<circle cx="145.5" cy="94.0" r="0.5"/>
<circle cx="130.6" cy="85.3" r="0.7"/>
<circle cx="98.5" cy="120.8" r="0.7"/>
<circle cx="40.2" cy="75.2" r="0.5"/>
<circle cx="118.5" cy="42.3" r="0.7"/>
<circle cx="65.7" cy="102.7" r="0.7"/>
<circle cx="71.7" cy="76.6" r="0.5"/>
<circle cx="72.1" cy="57.1" r="0.6"/>
<circle cx="97.6" cy="20.9" r="0.6"/>
<circle cx="99.1" cy="68.3" r="0.6"/>
<circle cx="166.4" cy="85.1" r="0.6"/>
<circle cx="96.3" cy="52.2" r="0.5"/>
<circle cx="130.3" cy="56.9" r="0.4"/>
<circle cx="42.4" cy="7.0" r="0.4"/>
<circle cx="69.0" cy="49.1" r="0.6"/>
<circle cx="38.6" cy="30.3" r="0.6"/>
<circle cx="55.8" cy="33.9" r="0.6"/>
<circle cx="146.6" cy="7.9" r="0.4"/>
<circle cx="86.0" cy="116.2" r="0.6"/>
<circle cx="70.1" cy="126.5" r="0.6"/>
<circle cx="158.5" cy="109.5" r="0.4"/>
<circle cx="37.4" cy="102.8" r="0.5"/>
<circle cx="172.9" cy="9.3" r="0.7"/>
<circle cx="119.2" cy="53.5" r="0.7"/>
<circle cx="102.8" cy="59.7" r="0.5"/>
<circle cx="150.5" cy="19.0" r="0.5"/>
<circle cx="16.9" cy="2.1" r="0.5"/>
<circle cx="8.5" cy="61.0" r="0.5"/>
<circle cx="3.5" cy="60.3" r="0.5"/>
<circle cx="44.5" cy="70.3" r="0.5"/>
<circle cx="10.5" cy="121.0" r="0.7"/>
<circle cx="45.5" cy="85.7" r="0.6"/>
<circle cx="47.7" cy="70.0" r="0.5"/>
<circle cx="52.8" cy="58.9" r="0.4"/>
<circle cx="44.2" cy="127.9" r="0.7"/>
<circle cx="63.6" cy="129.6" r="0.5"/>
<circle cx="163.4" cy="41.9" r="0.7"/>
<circle cx="86.8" cy="113.3" r="0.4"/>
<circle cx="75.7" cy="44.8" r="0.7"/>
<circle cx="166.2" cy="17.6" r="0.5"/>
<circle cx="33.1" cy="8.6" r="0.4"/>
<circle cx="14.2" cy="39.2" r="0.6"/>
<circle cx="173.7" cy="84.7" r="0.7"/>
<circle cx="63.5" cy="41.8" r="0.5"/>
<circle cx="44.7" cy="2.6" r="0.5"/>
<circle cx="178.3" cy="6.6" r="0.6"/>
<circle cx="44.5" cy="99.1" r="0.4"/>
<circle cx="98.0" cy="94.2" r="0.6"/>
<circle cx="27.6" cy="115.6" r="0.4"/>
<circle cx="177.9" cy="106.4" r="0.7"/>
<circle cx="166.2" cy="48.1" r="0.6"/>
<circle cx="90.2" cy="76.0" r="0.5"/>
<circle cx="164.1" cy="40.0" r="0.6"/>
<circle cx="13.1" cy="7.6" r="0.7"/>
<circle cx="68.5" cy="48.7" r="0.7"/>
<circle cx="138.7" cy="20.2" r="0.6"/>
<circle cx="92.8" cy="78.6" r="0.5"/>
<circle cx="52.9" cy="122.8" r="0.6"/>
<circle cx="105.8" cy="89.9" r="0.7"/>
<circle cx="34.4" cy="101.8" r="0.6"/>
<circle cx="28.9" cy="41.1" r="0.7"/>
<circle cx="162.3" cy="117.4" r="0.6"/>
<circle cx="122.2" cy="51.5" r="0.7"/>
<circle cx="102.9" cy="46.5" r="0.7"/>
<circle cx="96.2" cy="5.2" r="0.7"/>
<circle cx="18.4" cy="36.4" r="0.6"/>
<circle cx="40.6" cy="58.4" r="0.6"/>
<circle cx="101.8" cy="84.8" r="0.6"/>
<circle cx="9.7" cy="30.8" r="0.4"/>
<circle cx="63.9" cy="59.4" r="0.7"/>
<circle cx="2.7" cy="105.3" r="0.5"/>
<circle cx="142.2" cy="110.3" r="0.7"/>
<circle cx="110.5" cy="7.2" r="0.5"/>
<circle cx="83.7" cy="87.7" r="0.7"/>
<circle cx="168.3" cy="8.2" r="0.4"/>
<circle cx="125.1" cy="26.9" r="0.6"/>
<circle cx="97.8" cy="70.8" r="0.5"/>
<circle cx="174.8" cy="38.1" r="0.5"/>
<circle cx="31.0" cy="37.7" r="0.4"/>
<circle cx="122.8" cy="2.7" r="0.5"/>
<circle cx="155.1" cy="110.8" r="0.5"/>
<circle cx="141.1" cy="105.3" r="0.6"/>
<circle cx="119.2" cy="98.0" r="0.5"/>
<circle cx="63.6" cy="33.3" r="0.5"/>
<circle cx="98.6" cy="70.1" r="0.5"/>
<circle cx="16.4" cy="3.2" r="0.5"/>
<circle cx="30.0" cy="80.7" r="0.7"/>
<circle cx="102.6" cy="83.7" r="0.5"/>
<circle cx="14.3" cy="97.1" r="0.7"/>
<circle cx="28.4" cy="40.4" r="0.6"/>
<circle cx="135.5" cy="21.3" r="0.5"/>
<circle cx="74.0" cy="71.0" r="0.7"/>
<circle cx="28.1" cy="48.9" r="0.7"/>
<circle cx="34.1" cy="23.0" r="0.7"/>
<circle cx="119.8" cy="61.9" r="0.6"/>
<circle cx="12.0" cy="83.3" r="0.5"/>
<circle cx="84.7" cy="120.7" r="0.6"/>
<circle cx="75.8" cy="45.8" r="0.5"/>
<circle cx="118.6" cy="93.1" r="0.4"/>
<circle cx="0.8" cy="51.3" r="0.5"/>
<circle cx="115.0" cy="20.9" r="0.6"/>
<circle cx="91.1" cy="126.5" r="0.5"/>
<circle cx="50.3" cy="43.9" r="0.6"/>
<circle cx="46.2" cy="31.4" r="0.6"/>
<circle cx="101.7" cy="9.3" r="0.7"/>
<circle cx="24.3" cy="38.5" r="0.6"/>
<circle cx="87.7" cy="99.5" r="0.5"/>
<circle cx="125.7" cy="23.3" r="0.4"/>
<circle cx="134.2" cy="100.9" r="0.4"/>
<circle cx="6.4" cy="26.1" r="0.6"/>
<circle cx="6.1" cy="123.6" r="0.4"/>
<circle cx="142.5" cy="104.6" r="0.5"/>
<circle cx="156.5" cy="22.8" r="0.7"/>
<circle cx="110.4" cy="110.7" r="0.7"/>
<circle cx="151.1" cy="112.3" r="0.5"/>
<circle cx="6.0" cy="22.3" r="0.7"/>
<circle cx="99.4" cy="64.2" r="0.6"/>
<circle cx="4.8" cy="120.4" r="0.6"/>
<circle cx="112.4" cy="64.3" r="0.7"/>
<circle cx="90.7" cy="70.1" r="0.7"/>
<circle cx="28.5" cy="107.4" r="0.6"/>
<circle cx="63.8" cy="19.3" r="0.6"/>
<circle cx="56.4" cy="0.2" r="0.7"/>
<circle cx="143.6" cy="117.0" r="0.7"/>
<circle cx="77.9" cy="118.8" r="0.5"/>
<circle cx="49.5" cy="60.9" r="0.6"/>
<circle cx="19.0" cy="7.5" r="0.7"/>
<circle cx="2.7" cy="96.5" r="0.6"/>
<circle cx="184.3" cy="111.7" r="0.6"/>
<circle cx="105.0" cy="90.6" r="0.5"/>
<circle cx="3.7" cy="128.8" r="0.6"/>
<circle cx="153.6" cy="70.0" r="0.4"/>
<circle cx="19.7" cy="30.5" r="0.7"/>
<circle cx="156.6" cy="38.0" r="0.6"/>
<circle cx="185.9" cy="65.7" r="0.5"/>
<circle cx="101.5" cy="21.9" r="0.6"/>
<circle cx="13.8" cy="67.6" r="0.4"/>
<circle cx="7.5" cy="98.2" r="0.6"/>
<circle cx="30.7" cy="51.8" r="0.7"/>
<circle cx="69.3" cy="35.5" r="0.6"/>
<circle cx="171.9" cy="80.1" r="0.6"/>
<circle cx="120.5" cy="45.9" r="0.7"/>
<circle cx="52.3" cy="28.4" r="0.6"/>
<circle cx="153.8" cy="100.4" r="0.6"/>
<circle cx="0.4" cy="103.9" r="0.7"/>
<circle cx="24.2" cy="25.5" r="0.5"/>
<circle cx="25.0" cy="18.9" r="0.6"/>
<circle cx="133.4" cy="60.4" r="0.6"/>
<circle cx="131.9" cy="107.2" r="0.7"/>
<circle cx="135.6" cy="64.6" r="0.4"/>
<circle cx="56.5" cy="25.0" r="0.7"/>
<circle cx="139.7" cy="16.7" r="0.5"/>
<circle cx="81.0" cy="81.7" r="0.7"/>
<circle cx="63.9" cy="90.8" r="0.5"/>
<circle cx="173.6" cy="65.1" r="0.7"/>
<circle cx="112.0" cy="93.6" r="0.7"/>
<circle cx="74.9" cy="58.0" r="0.6"/>
<circle cx="137.2" cy="77.1" r="0.5"/>
<circle cx="93.9" cy="66.3" r="0.5"/>
<circle cx="61.7" cy="8.4" r="0.4"/>
<circle cx="29.9" cy="11.4" r="0.5"/>
<circle cx="186.1" cy="52.1" r="0.7"/>
<circle cx="132.2" cy="121.0" r="0.6"/>
<circle cx="183.8" cy="104.6" r="0.4"/>
<circle cx="0.5" cy="125.0" r="0.5"/>
<circle cx="125.6" cy="123.9" r="0.7"/>
<circle cx="100.8" cy="42.7" r="0.6"/>
<circle cx="133.8" cy="12.2" r="0.7"/>
<circle cx="0.7" cy="50.4" r="0.7"/>
<circle cx="170.3" cy="112.0" r="0.7"/>
<circle cx="87.4" cy="55.2" r="0.6"/>
<circle cx="99.2" cy="28.3" r="0.5"/>
<circle cx="92.0" cy="2.4" r="0.6"/>
<circle cx="12.4" cy="72.7" r="0.4"/>
<circle cx="35.5" cy="59.6" r="0.7"/>
<circle cx="189.8" cy="99.5" r="0.7"/>
<circle cx="83.6" cy="67.3" r="0.6"/>
<circle cx="186.1" cy="110.3" r="0.4"/>
<circle cx="132.5" cy="93.5" r="0.7"/>
<circle cx="178.6" cy="51.5" r="0.5"/>
<circle cx="45.2" cy="25.0" r="0.7"/>
<circle cx="142.5" cy="107.9" r="0.5"/>
<circle cx="146.6" cy="2.1" r="0.6"/>
<circle cx="60.0" cy="39.1" r="0.7"/>
<circle cx="0.6" cy="124.1" r="0.6"/>
<circle cx="190.7" cy="52.7" r="0.7"/>
<circle cx="105.9" cy="74.9" r="0.6"/>
<circle cx="50.2" cy="78.7" r="0.5"/>
<circle cx="6.2" cy="93.7" r="0.4"/>
<circle cx="176.9" cy="29.5" r="0.7"/>
<circle cx="59.0" cy="93.0" r="0.5"/>
<circle cx="133.4" cy="23.5" r="0.5"/>
<circle cx="51.2" cy="127.7" r="0.7"/>
<circle cx="74.2" cy="124.5" r="0.7"/>
<circle cx="27.3" cy="80.4" r="0.5"/>
<circle cx="66.2" cy="39.6" r="0.5"/>
<circle cx="112.6" cy="28.3" r="0.5"/>
<circle cx="27.1" cy="34.8" r="0.7"/>
<circle cx="55.1" cy="126.0" r="0.4"/>
<circle cx="5.3" cy="32.4" r="0.6"/>
<circle cx="59.6" cy="52.0" r="0.7"/>
<circle cx="127.2" cy="31.4" r="0.7"/>
<circle cx="69.3" cy="74.2" r="0.5"/>
<circle cx="145.3" cy="75.2" r="0.6"/>
<circle cx="33.1" cy="10.0" r="0.5"/>
<circle cx="163.2" cy="120.3" r="0.5"/>
<circle cx="13.9" cy="25.9" r="0.7"/>
<circle cx="24.6" cy="54.1" r="0.4"/>
<circle cx="95.3" cy="44.8" r="0.7"/>
<circle cx="188.8" cy="65.4" r="0.7"/>
<circle cx="129.4" cy="60.1" r="0.7"/>
<circle cx="6.6" cy="21.9" r="0.7"/>
<circle cx="99.4" cy="88.8" r="0.6"/>
<circle cx="161.6" cy="32.7" r="0.5"/>
<circle cx="55.5" cy="112.8" r="0.6"/>
<circle cx="146.6" cy="100.4" r="0.5"/>
</g>
<ellipse cx="56.1" cy="7.0" rx="3.5" ry="2.6" transform="rotate(142 56.1 7.0)" fill="#b6bda6" stroke="#e4ebe9" stroke-width="1.3" paint-order="stroke"/>
<circle cx="56.1" cy="7.1" r="1.4" fill="#7f8a74" fill-opacity="0.6"/>
<ellipse cx="11.2" cy="12.6" rx="3.3" ry="2.4" transform="rotate(82 11.2 12.6)" fill="#b6bda6" stroke="#e4ebe9" stroke-width="1.3" paint-order="stroke"/>
<circle cx="10.6" cy="12.8" r="1.3" fill="#7f8a74" fill-opacity="0.6"/>
<ellipse cx="134.5" cy="3.4" rx="3.6" ry="2.7" transform="rotate(46 134.5 3.4)" fill="#b6bda6" stroke="#e4ebe9" stroke-width="1.3" paint-order="stroke"/>
<circle cx="134.4" cy="3.1" r="1.5" fill="#7f8a74" fill-opacity="0.6"/>
<ellipse cx="2.8" cy="33.1" rx="3.1" ry="2.3" transform="rotate(167 2.8 33.1)" fill="#b6bda6" stroke="#e4ebe9" stroke-width="1.3" paint-order="stroke"/>
<circle cx="3.3" cy="32.2" r="1.3" fill="#7f8a74" fill-opacity="0.6"/>
<ellipse cx="77.9" cy="30.8" rx="3.3" ry="2.5" transform="rotate(63 77.9 30.8)" fill="#b6bda6" stroke="#e4ebe9" stroke-width="1.3" paint-order="stroke"/>
<circle cx="77.6" cy="30.1" r="1.4" fill="#7f8a74" fill-opacity="0.6"/>
<ellipse cx="12.6" cy="42.0" rx="3.4" ry="2.5" transform="rotate(65 12.6 42.0)" fill="#b6bda6" stroke="#e4ebe9" stroke-width="1.3" paint-order="stroke"/>
<circle cx="13.0" cy="41.3" r="1.4" fill="#7f8a74" fill-opacity="0.6"/>
<ellipse cx="39.2" cy="47.6" rx="3.3" ry="2.5" transform="rotate(80 39.2 47.6)" fill="#b6bda6" stroke="#e4ebe9" stroke-width="1.3" paint-order="stroke"/>
<circle cx="39.5" cy="46.8" r="1.4" fill="#7f8a74" fill-opacity="0.6"/>
<ellipse cx="155.5" cy="46.2" rx="3.5" ry="2.6" transform="rotate(95 155.5 46.2)" fill="#b6bda6" stroke="#e4ebe9" stroke-width="1.3" paint-order="stroke"/>
<circle cx="155.1" cy="45.6" r="1.5" fill="#7f8a74" fill-opacity="0.6"/>
<ellipse cx="25.2" cy="67.3" rx="3.6" ry="2.7" transform="rotate(2 25.2 67.3)" fill="#b6bda6" stroke="#e4ebe9" stroke-width="1.3" paint-order="stroke"/>
<circle cx="25.4" cy="66.9" r="1.5" fill="#7f8a74" fill-opacity="0.6"/>
<ellipse cx="79.9" cy="70.6" rx="3.2" ry="2.4" transform="rotate(174 79.9 70.6)" fill="#b6bda6" stroke="#e4ebe9" stroke-width="1.3" paint-order="stroke"/>
<circle cx="79.2" cy="70.0" r="1.3" fill="#7f8a74" fill-opacity="0.6"/>
<ellipse cx="114.9" cy="56.1" rx="2.9" ry="2.1" transform="rotate(66 114.9 56.1)" fill="#b6bda6" stroke="#e4ebe9" stroke-width="1.3" paint-order="stroke"/>
<circle cx="114.1" cy="55.1" r="1.2" fill="#7f8a74" fill-opacity="0.6"/>
<ellipse cx="37.8" cy="99.5" rx="3.4" ry="2.6" transform="rotate(170 37.8 99.5)" fill="#b6bda6" stroke="#e4ebe9" stroke-width="1.3" paint-order="stroke"/>
<circle cx="37.2" cy="99.7" r="1.4" fill="#7f8a74" fill-opacity="0.6"/>
<ellipse cx="151.3" cy="98.1" rx="3.7" ry="2.8" transform="rotate(32 151.3 98.1)" fill="#b6bda6" stroke="#e4ebe9" stroke-width="1.3" paint-order="stroke"/>
<circle cx="150.7" cy="98.1" r="1.5" fill="#7f8a74" fill-opacity="0.6"/>
<ellipse cx="71.5" cy="115.5" rx="2.9" ry="2.2" transform="rotate(104 71.5 115.5)" fill="#b6bda6" stroke="#e4ebe9" stroke-width="1.3" paint-order="stroke"/>
<circle cx="72.1" cy="116.2" r="1.2" fill="#7f8a74" fill-opacity="0.6"/>
<ellipse cx="4.2" cy="123.3" rx="3.0" ry="2.2" transform="rotate(100 4.2 123.3)" fill="#b6bda6" stroke="#e4ebe9" stroke-width="1.3" paint-order="stroke"/>
<circle cx="4.2" cy="123.2" r="1.2" fill="#7f8a74" fill-opacity="0.6"/>
</g></svg>
<line x1="632.7" y1="795.2" x2="653.8" y2="795.2" stroke="#111" stroke-width="1.8"/>
</svg>
</body></html>
